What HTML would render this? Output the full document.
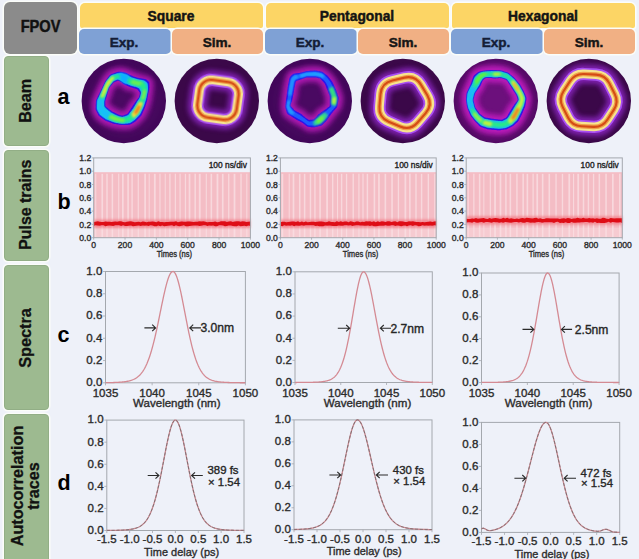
<!DOCTYPE html><html><head><meta charset="utf-8"><title>FPOV figure</title><style>
html,body{margin:0;padding:0;width:639px;height:559px;overflow:hidden;background:#eef1f9;}
body{position:relative;font-family:"Liberation Sans",sans-serif;}
.bx{position:absolute;box-sizing:border-box;border-radius:5px;box-shadow:0 0 0 1.5px #fbfdf9;}
svg{position:absolute;left:0;top:0;}
</style></head><body>
<div class="bx" style="left:4.0px;top:2.0px;width:73.0px;height:51.5px;background:#8b8b8b;border-radius:6px;"></div>
<div class="bx" style="left:79.5px;top:2.5px;width:183.5px;height:25.3px;background:#fcd565;border-radius:5px 5px 2px 2px;"></div>
<div class="bx" style="left:79.0px;top:28.8px;width:91.5px;height:25.0px;background:#7fa1d5;border-radius:5px;"></div>
<div class="bx" style="left:172.0px;top:28.8px;width:91.0px;height:25.0px;background:#f1b084;border-radius:5px;"></div>
<div class="bx" style="left:265.5px;top:2.5px;width:183.5px;height:25.3px;background:#fcd565;border-radius:5px 5px 2px 2px;"></div>
<div class="bx" style="left:265.0px;top:28.8px;width:91.5px;height:25.0px;background:#7fa1d5;border-radius:5px;"></div>
<div class="bx" style="left:358.0px;top:28.8px;width:91.0px;height:25.0px;background:#f1b084;border-radius:5px;"></div>
<div class="bx" style="left:451.5px;top:2.5px;width:183.5px;height:25.3px;background:#fcd565;border-radius:5px 5px 2px 2px;"></div>
<div class="bx" style="left:451.0px;top:28.8px;width:91.5px;height:25.0px;background:#7fa1d5;border-radius:5px;"></div>
<div class="bx" style="left:544.0px;top:28.8px;width:91.0px;height:25.0px;background:#f1b084;border-radius:5px;"></div>
<div class="bx" style="left:3.5px;top:56.0px;width:45.5px;height:90.2px;background:#9dba90;border-radius:4px;border:0.8px solid #92ae86"></div>
<div class="bx" style="left:3.5px;top:149.5px;width:45.5px;height:111.5px;background:#9dba90;border-radius:4px;border:0.8px solid #92ae86"></div>
<div class="bx" style="left:3.5px;top:265.0px;width:45.5px;height:144.5px;background:#9dba90;border-radius:4px;border:0.8px solid #92ae86"></div>
<div class="bx" style="left:3.5px;top:413.5px;width:45.5px;height:166.5px;background:#9dba90;border-radius:4px;border:0.8px solid #92ae86"></div>
<svg width="639" height="559" viewBox="0 0 639 559" font-family='"Liberation Sans", sans-serif'>
<defs>
<filter id="b0_6" x="-50%" y="-50%" width="200%" height="200%"><feGaussianBlur stdDeviation="0.6"/></filter>
<filter id="b0_8" x="-50%" y="-50%" width="200%" height="200%"><feGaussianBlur stdDeviation="0.8"/></filter>
<filter id="b1_0" x="-50%" y="-50%" width="200%" height="200%"><feGaussianBlur stdDeviation="1.0"/></filter>
<filter id="b1_3" x="-50%" y="-50%" width="200%" height="200%"><feGaussianBlur stdDeviation="1.3"/></filter>
<filter id="b1_8" x="-50%" y="-50%" width="200%" height="200%"><feGaussianBlur stdDeviation="1.8"/></filter>
<filter id="b2_5" x="-50%" y="-50%" width="200%" height="200%"><feGaussianBlur stdDeviation="2.5"/></filter>
<filter id="b3_5" x="-50%" y="-50%" width="200%" height="200%"><feGaussianBlur stdDeviation="3.5"/></filter>
<filter id="b5" x="-50%" y="-50%" width="200%" height="200%"><feGaussianBlur stdDeviation="5"/></filter>
</defs>
<text x="40.6" y="32.2" font-size="16.20" text-anchor="middle" font-weight="bold" fill="#111" stroke="#111" stroke-width="0.45" textLength="39.8" lengthAdjust="spacingAndGlyphs">FPOV</text>
<text x="171.0" y="20.5" font-size="13.80" text-anchor="middle" font-weight="bold" fill="#141414" stroke="#141414" stroke-width="0.45">Square</text>
<text x="124.0" y="47.2" font-size="13.60" text-anchor="middle" font-weight="bold" fill="#141d36" stroke="#141d36" stroke-width="0.45">Exp.</text>
<text x="217.0" y="47.2" font-size="13.60" text-anchor="middle" font-weight="bold" fill="#161616" stroke="#161616" stroke-width="0.45">Sim.</text>
<text x="357.0" y="20.5" font-size="13.80" text-anchor="middle" font-weight="bold" fill="#141414" stroke="#141414" stroke-width="0.45">Pentagonal</text>
<text x="310.0" y="47.2" font-size="13.60" text-anchor="middle" font-weight="bold" fill="#141d36" stroke="#141d36" stroke-width="0.45">Exp.</text>
<text x="403.0" y="47.2" font-size="13.60" text-anchor="middle" font-weight="bold" fill="#161616" stroke="#161616" stroke-width="0.45">Sim.</text>
<text x="543.0" y="20.5" font-size="13.80" text-anchor="middle" font-weight="bold" fill="#141414" stroke="#141414" stroke-width="0.45">Hexagonal</text>
<text x="496.0" y="47.2" font-size="13.60" text-anchor="middle" font-weight="bold" fill="#141d36" stroke="#141d36" stroke-width="0.45">Exp.</text>
<text x="589.0" y="47.2" font-size="13.60" text-anchor="middle" font-weight="bold" fill="#161616" stroke="#161616" stroke-width="0.45">Sim.</text>
<g transform="translate(25.1 100.8) rotate(-90)">
<text x="0" y="5.8" font-size="16.2" text-anchor="middle" font-weight="bold" fill="#111" stroke="#111" stroke-width="0.3">Beam</text>
</g>
<g transform="translate(25.1 204.7) rotate(-90)">
<text x="0" y="5.7" font-size="15.9" text-anchor="middle" font-weight="bold" fill="#111" stroke="#111" stroke-width="0.3">Pulse trains</text>
</g>
<g transform="translate(25.1 338.0) rotate(-90)">
<text x="0" y="5.9" font-size="16.3" text-anchor="middle" font-weight="bold" fill="#111" stroke="#111" stroke-width="0.3">Spectra</text>
</g>
<g transform="translate(25.5 486.0) rotate(-90)">
<text x="0" y="-2.2" font-size="16.2" text-anchor="middle" font-weight="bold" fill="#111" stroke="#111" stroke-width="0.3">Autocorrelation</text>
<text x="0" y="13.8" font-size="16.2" text-anchor="middle" font-weight="bold" fill="#111" stroke="#111" stroke-width="0.3">traces</text>
</g>
<text x="57.5" y="104.2" font-size="21.50" text-anchor="start" font-weight="bold" fill="#000" >a</text>
<text x="57.5" y="208.6" font-size="21.50" text-anchor="start" font-weight="bold" fill="#000" >b</text>
<text x="57.5" y="341.5" font-size="21.50" text-anchor="start" font-weight="bold" fill="#000" >c</text>
<text x="57.5" y="490.0" font-size="21.50" text-anchor="start" font-weight="bold" fill="#000" >d</text>
<clipPath id="cp0"><circle cx="123.80" cy="101.00" r="42"/></clipPath>
<circle cx="123.80" cy="101.00" r="42.2" fill="#42075a"/>
<g clip-path="url(#cp0)">
<circle cx="123.8" cy="101" r="34" fill="#6a1280" opacity="0.22" filter="url(#b5)"/>
<path d="M92.59 98.00 L93.01 96.99 L93.41 96.00 L93.81 95.04 L94.21 94.09 L94.61 93.17 L95.00 92.26 L95.39 91.37 L95.78 90.48 L96.17 89.61 L96.57 88.74 L96.97 87.89 L97.37 87.03 L97.77 86.18 L98.18 85.34 L98.60 84.49 L99.02 83.64 L99.45 82.79 L99.89 81.94 L100.34 81.08 L100.80 80.21 L101.26 79.33 L101.74 78.44 L102.26 77.56 L102.85 76.73 L103.49 75.94 L104.16 75.17 L104.84 74.38 L105.54 73.59 L106.25 72.79 L106.97 71.97 L107.72 71.14 L108.54 70.41 L109.50 69.91 L110.51 69.55 L111.52 69.21 L112.54 68.87 L113.55 68.54 L114.57 68.21 L115.60 67.88 L116.64 67.58 L117.70 67.38 L118.78 67.32 L119.85 67.30 L120.93 67.33 L122.00 67.44 L123.06 67.64 L124.11 67.88 L125.14 68.11 L126.17 68.35 L127.17 68.65 L128.15 69.05 L129.11 69.49 L130.05 69.92 L130.98 70.36 L131.90 70.79 L132.81 71.23 L133.72 71.67 L134.65 72.07 L135.60 72.42 L136.58 72.75 L137.57 73.08 L138.57 73.43 L139.59 73.79 L140.63 74.16 L141.71 74.51 L142.87 74.83 L144.09 75.12 L145.37 75.44 L146.70 75.76 L148.09 76.10 L149.43 76.57 L150.52 77.28 L151.42 78.16 L152.29 79.07 L153.00 80.10 L153.35 81.33 L153.46 82.66 L153.52 83.97 L153.58 85.24 L153.62 86.49 L153.56 87.74 L153.41 88.99 L153.22 90.22 L153.03 91.40 L152.85 92.56 L152.67 93.69 L152.51 94.79 L152.36 95.88 L152.20 96.95 L152.05 98.00 L151.88 99.04 L151.72 100.08 L151.53 101.10 L151.30 102.12 L151.03 103.12 L150.74 104.11 L150.45 105.09 L150.15 106.07 L149.85 107.05 L149.55 108.03 L149.22 109.00 L148.83 109.95 L148.42 110.88 L147.99 111.82 L147.55 112.75 L147.11 113.69 L146.66 114.63 L146.20 115.58 L145.73 116.54 L145.25 117.51 L144.71 118.45 L144.05 119.29 L143.31 120.07 L142.55 120.82 L141.78 121.57 L141.00 122.32 L140.22 123.08 L139.43 123.83 L138.61 124.58 L137.75 125.28 L136.83 125.88 L135.87 126.45 L134.92 127.01 L133.95 127.57 L132.97 128.13 L131.95 128.62 L130.88 128.96 L129.78 129.20 L128.67 129.37 L127.54 129.44 L126.42 129.46 L125.31 129.48 L124.20 129.50 L123.10 129.51 L122.00 129.51 L120.90 129.47 L119.81 129.35 L118.72 129.19 L117.64 129.02 L116.56 128.84 L115.48 128.66 L114.40 128.47 L113.32 128.27 L112.25 128.02 L111.20 127.67 L110.17 127.28 L109.14 126.89 L108.11 126.48 L107.07 126.08 L106.03 125.66 L104.98 125.23 L103.93 124.80 L102.89 124.30 L101.94 123.68 L101.02 123.01 L100.10 122.32 L99.18 121.63 L98.25 120.93 L97.32 120.22 L96.38 119.50 L95.49 118.71 L94.74 117.80 L94.15 116.78 L93.62 115.74 L93.09 114.69 L92.57 113.65 L92.05 112.61 L91.62 111.53 L91.40 110.36 L91.36 109.15 L91.37 107.95 L91.38 106.78 L91.39 105.63 L91.41 104.50 L91.43 103.39 L91.46 102.29 L91.55 101.20 L91.79 100.11 L92.17 99.04Z M110.76 98.00 L110.92 97.61 L111.07 97.24 L111.22 96.87 L111.36 96.50 L111.49 96.15 L111.61 95.79 L111.73 95.44 L111.84 95.09 L111.95 94.74 L112.05 94.38 L112.15 94.02 L112.24 93.66 L112.33 93.29 L112.42 92.91 L112.50 92.52 L112.58 92.12 L112.66 91.70 L112.74 91.27 L112.86 90.86 L113.06 90.50 L113.30 90.17 L113.54 89.84 L113.79 89.50 L114.03 89.15 L114.27 88.79 L114.52 88.42 L114.77 88.04 L115.02 87.65 L115.27 87.24 L115.54 86.81 L115.85 86.44 L116.24 86.19 L116.66 86.01 L117.08 85.82 L117.50 85.63 L117.91 85.43 L118.34 85.22 L118.78 85.07 L119.27 85.14 L119.78 85.42 L120.28 85.77 L120.75 86.11 L121.19 86.46 L121.61 86.87 L122.00 87.31 L122.36 87.73 L122.69 88.13 L123.00 88.49 L123.30 88.77 L123.59 88.98 L123.88 89.15 L124.17 89.31 L124.45 89.46 L124.73 89.61 L125.00 89.75 L125.28 89.88 L125.56 90.01 L125.84 90.13 L126.12 90.25 L126.41 90.36 L126.71 90.47 L127.02 90.56 L127.36 90.62 L127.72 90.68 L128.10 90.73 L128.49 90.79 L128.91 90.84 L129.35 90.90 L129.81 90.96 L130.31 91.03 L130.83 91.10 L131.39 91.18 L131.99 91.26 L132.64 91.35 L133.26 91.50 L133.72 91.77 L134.04 92.13 L134.33 92.51 L134.63 92.90 L134.94 93.29 L135.26 93.69 L135.48 94.13 L135.46 94.64 L135.27 95.18 L135.05 95.70 L134.85 96.19 L134.66 96.67 L134.48 97.13 L134.23 97.57 L133.84 98.00 L133.41 98.40 L133.01 98.77 L132.63 99.12 L132.27 99.44 L131.93 99.75 L131.61 100.04 L131.32 100.32 L131.06 100.60 L130.83 100.87 L130.61 101.13 L130.40 101.40 L130.20 101.65 L130.01 101.91 L129.82 102.16 L129.65 102.41 L129.47 102.67 L129.30 102.93 L129.14 103.19 L128.98 103.45 L128.82 103.73 L128.67 104.00 L128.51 104.29 L128.36 104.59 L128.20 104.89 L128.05 105.20 L127.88 105.53 L127.72 105.87 L127.55 106.23 L127.38 106.60 L127.19 107.00 L127.00 107.41 L126.80 107.85 L126.59 108.32 L126.37 108.81 L126.10 109.28 L125.77 109.61 L125.39 109.81 L124.99 109.98 L124.58 110.16 L124.18 110.34 L123.76 110.53 L123.34 110.73 L122.91 110.94 L122.46 111.09 L122.00 111.08 L121.55 110.97 L121.10 110.84 L120.66 110.73 L120.23 110.60 L119.81 110.42 L119.41 110.20 L119.02 109.96 L118.63 109.74 L118.26 109.52 L117.88 109.32 L117.51 109.12 L117.14 108.92 L116.76 108.74 L116.39 108.55 L116.01 108.38 L115.63 108.20 L115.24 108.03 L114.84 107.85 L114.46 107.65 L114.11 107.40 L113.77 107.14 L113.43 106.88 L113.07 106.62 L112.71 106.36 L112.34 106.11 L111.96 105.85 L111.56 105.58 L111.15 105.32 L110.73 105.04 L110.29 104.76 L109.87 104.45 L109.61 104.04 L109.55 103.54 L109.57 103.02 L109.58 102.52 L109.59 102.03 L109.60 101.56 L109.60 101.09 L109.65 100.62 L109.80 100.15 L110.01 99.69 L110.21 99.24 L110.40 98.81 L110.59 98.40Z" fill="#c41ec2" fill-rule="evenodd" opacity="0.80" filter="url(#b2_5)"/>
<path d="M97.09 98.00 L97.50 97.14 L97.90 96.31 L98.29 95.51 L98.67 94.72 L99.04 93.95 L99.40 93.20 L99.76 92.45 L100.11 91.72 L100.45 91.00 L100.80 90.28 L101.14 89.57 L101.48 88.86 L101.82 88.16 L102.16 87.45 L102.50 86.74 L102.84 86.03 L103.18 85.31 L103.53 84.58 L103.89 83.85 L104.24 83.10 L104.61 82.34 L104.98 81.56 L105.38 80.79 L105.86 80.07 L106.38 79.39 L106.93 78.71 L107.49 78.02 L108.05 77.32 L108.63 76.60 L109.22 75.87 L109.83 75.11 L110.52 74.45 L111.33 74.02 L112.19 73.73 L113.06 73.44 L113.93 73.15 L114.79 72.86 L115.66 72.57 L116.53 72.28 L117.42 72.01 L118.32 71.84 L119.25 71.79 L120.17 71.79 L121.09 71.82 L122.00 71.94 L122.90 72.14 L123.79 72.36 L124.67 72.58 L125.54 72.81 L126.39 73.08 L127.22 73.45 L128.02 73.85 L128.81 74.25 L129.59 74.64 L130.36 75.02 L131.13 75.41 L131.89 75.78 L132.67 76.11 L133.49 76.39 L134.33 76.64 L135.18 76.90 L136.05 77.16 L136.94 77.43 L137.86 77.71 L138.82 77.96 L139.86 78.17 L140.96 78.36 L142.13 78.56 L143.35 78.77 L144.65 79.00 L145.89 79.34 L146.88 79.93 L147.69 80.67 L148.47 81.46 L149.11 82.35 L149.38 83.44 L149.41 84.63 L149.41 85.80 L149.41 86.93 L149.39 88.03 L149.28 89.14 L149.08 90.23 L148.85 91.30 L148.63 92.34 L148.42 93.34 L148.22 94.32 L148.04 95.26 L147.87 96.19 L147.71 97.10 L147.55 98.00 L147.39 98.89 L147.23 99.76 L147.06 100.63 L146.85 101.49 L146.60 102.34 L146.34 103.17 L146.08 104.00 L145.83 104.83 L145.57 105.66 L145.32 106.49 L145.04 107.31 L144.72 108.12 L144.37 108.91 L144.01 109.70 L143.65 110.50 L143.29 111.30 L142.93 112.12 L142.56 112.94 L142.18 113.77 L141.80 114.61 L141.36 115.43 L140.81 116.17 L140.18 116.83 L139.54 117.48 L138.89 118.12 L138.23 118.78 L137.57 119.44 L136.91 120.10 L136.23 120.77 L135.50 121.38 L134.71 121.91 L133.90 122.40 L133.09 122.90 L132.26 123.40 L131.43 123.90 L130.56 124.34 L129.64 124.63 L128.69 124.83 L127.73 124.97 L126.76 125.01 L125.80 125.01 L124.84 125.01 L123.89 125.01 L122.94 125.01 L122.00 125.01 L121.06 124.97 L120.12 124.86 L119.19 124.71 L118.27 124.56 L117.34 124.41 L116.42 124.26 L115.49 124.10 L114.56 123.95 L113.64 123.74 L112.74 123.45 L111.85 123.11 L110.97 122.78 L110.08 122.44 L109.18 122.10 L108.28 121.76 L107.37 121.42 L106.44 121.07 L105.54 120.66 L104.71 120.13 L103.91 119.56 L103.11 118.98 L102.30 118.40 L101.49 117.81 L100.67 117.21 L99.83 116.60 L99.03 115.94 L98.39 115.16 L97.88 114.27 L97.43 113.35 L96.99 112.44 L96.54 111.54 L96.10 110.63 L95.73 109.70 L95.57 108.68 L95.59 107.61 L95.65 106.56 L95.70 105.54 L95.76 104.54 L95.81 103.57 L95.86 102.61 L95.92 101.67 L96.02 100.73 L96.28 99.80 L96.67 98.88Z M106.26 98.00 L106.42 97.46 L106.59 96.92 L106.74 96.40 L106.90 95.88 L107.06 95.37 L107.21 94.86 L107.37 94.35 L107.52 93.85 L107.67 93.34 L107.83 92.84 L107.98 92.33 L108.13 91.83 L108.29 91.31 L108.45 90.79 L108.61 90.27 L108.77 89.73 L108.93 89.19 L109.10 88.63 L109.31 88.09 L109.61 87.60 L109.96 87.16 L110.31 86.71 L110.66 86.26 L111.02 85.80 L111.38 85.34 L111.75 84.88 L112.12 84.40 L112.50 83.92 L112.89 83.42 L113.29 82.91 L113.74 82.46 L114.27 82.14 L114.83 81.90 L115.39 81.65 L115.96 81.40 L116.52 81.15 L117.09 80.89 L117.69 80.71 L118.33 80.73 L119.00 80.99 L119.66 81.32 L120.28 81.63 L120.88 81.97 L121.45 82.37 L122.00 82.81 L122.52 83.23 L123.00 83.64 L123.47 84.01 L123.92 84.32 L124.37 84.55 L124.82 84.75 L125.26 84.94 L125.69 85.14 L126.12 85.33 L126.54 85.52 L126.97 85.71 L127.39 85.90 L127.81 86.09 L128.23 86.28 L128.66 86.47 L129.09 86.65 L129.54 86.83 L130.01 86.98 L130.49 87.13 L130.99 87.29 L131.50 87.44 L132.04 87.61 L132.59 87.78 L133.16 87.95 L133.75 88.14 L134.38 88.33 L135.03 88.53 L135.72 88.74 L136.46 88.97 L137.15 89.25 L137.69 89.66 L138.08 90.16 L138.44 90.68 L138.80 91.21 L139.16 91.75 L139.54 92.30 L139.80 92.89 L139.82 93.56 L139.67 94.24 L139.48 94.92 L139.31 95.57 L139.13 96.20 L138.96 96.81 L138.72 97.42 L138.34 98.00 L137.91 98.56 L137.50 99.08 L137.10 99.59 L136.72 100.07 L136.36 100.53 L136.01 100.98 L135.69 101.41 L135.39 101.84 L135.11 102.26 L134.84 102.67 L134.58 103.08 L134.31 103.48 L134.05 103.88 L133.80 104.27 L133.54 104.66 L133.29 105.05 L133.04 105.44 L132.78 105.83 L132.53 106.22 L132.27 106.62 L132.01 107.01 L131.75 107.42 L131.49 107.82 L131.21 108.23 L130.94 108.65 L130.65 109.08 L130.36 109.51 L130.07 109.96 L129.76 110.42 L129.44 110.89 L129.12 111.39 L128.78 111.90 L128.42 112.43 L128.05 112.98 L127.64 113.51 L127.16 113.89 L126.63 114.14 L126.08 114.35 L125.52 114.56 L124.96 114.77 L124.39 114.99 L123.81 115.21 L123.22 115.43 L122.61 115.59 L122.00 115.58 L121.39 115.46 L120.79 115.33 L120.19 115.20 L119.60 115.05 L119.03 114.85 L118.47 114.60 L117.93 114.33 L117.39 114.07 L116.86 113.80 L116.34 113.55 L115.82 113.29 L115.31 113.04 L114.79 112.78 L114.28 112.53 L113.76 112.27 L113.24 112.02 L112.72 111.76 L112.20 111.49 L111.69 111.19 L111.22 110.85 L110.76 110.48 L110.30 110.12 L109.84 109.75 L109.37 109.38 L108.89 109.00 L108.41 108.62 L107.92 108.23 L107.42 107.83 L106.91 107.43 L106.39 107.01 L105.89 106.56 L105.56 106.02 L105.44 105.37 L105.39 104.71 L105.35 104.06 L105.31 103.42 L105.28 102.80 L105.24 102.18 L105.25 101.56 L105.37 100.93 L105.55 100.31 L105.74 99.71 L105.92 99.12 L106.09 98.56Z" fill="#2a12e8" fill-rule="evenodd" opacity="1.00" filter="url(#b0_6)"/>
<path d="M98.38 98.00 L98.75 97.19 L99.12 96.40 L99.47 95.63 L99.82 94.88 L100.16 94.15 L100.49 93.43 L100.82 92.72 L101.15 92.02 L101.46 91.33 L101.78 90.64 L102.10 89.96 L102.41 89.28 L102.72 88.60 L103.04 87.92 L103.35 87.23 L103.67 86.55 L103.99 85.85 L104.31 85.15 L104.65 84.44 L105.00 83.73 L105.36 83.01 L105.73 82.28 L106.12 81.56 L106.58 80.87 L107.08 80.22 L107.61 79.58 L108.14 78.92 L108.67 78.24 L109.23 77.56 L109.79 76.86 L110.38 76.14 L111.04 75.53 L111.82 75.13 L112.64 74.84 L113.47 74.55 L114.29 74.27 L115.11 73.99 L115.94 73.71 L116.78 73.46 L117.64 73.27 L118.51 73.17 L119.39 73.17 L120.27 73.22 L121.14 73.30 L122.00 73.46 L122.85 73.70 L123.68 73.94 L124.50 74.18 L125.31 74.42 L126.11 74.69 L126.88 75.03 L127.63 75.40 L128.37 75.77 L129.10 76.13 L129.83 76.49 L130.55 76.85 L131.26 77.20 L131.99 77.51 L132.75 77.77 L133.54 78.02 L134.33 78.27 L135.14 78.52 L135.97 78.77 L136.82 79.03 L137.72 79.27 L138.69 79.47 L139.71 79.66 L140.79 79.85 L141.93 80.06 L143.12 80.28 L144.27 80.60 L145.22 81.13 L146.01 81.80 L146.79 82.51 L147.43 83.32 L147.74 84.31 L147.83 85.40 L147.88 86.48 L147.93 87.53 L147.96 88.55 L147.92 89.58 L147.78 90.61 L147.59 91.62 L147.38 92.61 L147.17 93.56 L146.97 94.49 L146.79 95.39 L146.62 96.28 L146.45 97.15 L146.26 98.00 L146.06 98.84 L145.87 99.67 L145.66 100.49 L145.43 101.29 L145.16 102.08 L144.89 102.87 L144.63 103.64 L144.37 104.41 L144.11 105.18 L143.85 105.95 L143.58 106.72 L143.27 107.47 L142.93 108.21 L142.58 108.94 L142.24 109.68 L141.89 110.43 L141.54 111.18 L141.19 111.94 L140.83 112.71 L140.47 113.49 L140.05 114.26 L139.54 114.94 L138.97 115.57 L138.37 116.18 L137.77 116.80 L137.17 117.42 L136.57 118.05 L135.95 118.68 L135.32 119.32 L134.65 119.91 L133.93 120.44 L133.18 120.93 L132.43 121.43 L131.67 121.94 L130.90 122.45 L130.08 122.88 L129.22 123.16 L128.32 123.37 L127.42 123.51 L126.51 123.58 L125.60 123.61 L124.69 123.64 L123.79 123.67 L122.90 123.69 L122.00 123.69 L121.10 123.64 L120.21 123.53 L119.33 123.38 L118.45 123.23 L117.58 123.07 L116.71 122.90 L115.83 122.73 L114.96 122.56 L114.09 122.35 L113.24 122.06 L112.41 121.74 L111.58 121.41 L110.74 121.09 L109.90 120.76 L109.05 120.43 L108.19 120.10 L107.32 119.76 L106.47 119.37 L105.68 118.88 L104.93 118.34 L104.18 117.79 L103.42 117.24 L102.66 116.68 L101.88 116.11 L101.10 115.54 L100.35 114.92 L99.72 114.19 L99.22 113.37 L98.76 112.52 L98.30 111.68 L97.85 110.84 L97.42 109.99 L97.09 109.09 L96.95 108.12 L96.95 107.12 L97.00 106.12 L97.04 105.16 L97.08 104.21 L97.13 103.29 L97.20 102.37 L97.27 101.48 L97.38 100.59 L97.62 99.70 L97.99 98.84Z M104.97 98.00 L105.17 97.41 L105.37 96.84 L105.56 96.27 L105.75 95.72 L105.94 95.17 L106.12 94.62 L106.30 94.09 L106.48 93.55 L106.66 93.02 L106.84 92.48 L107.02 91.95 L107.20 91.41 L107.38 90.87 L107.57 90.33 L107.75 89.77 L107.94 89.21 L108.13 88.64 L108.32 88.06 L108.55 87.50 L108.86 86.97 L109.21 86.48 L109.56 85.99 L109.92 85.49 L110.30 85.00 L110.68 84.51 L111.07 84.01 L111.47 83.51 L111.88 82.99 L112.29 82.47 L112.72 81.93 L113.19 81.43 L113.74 81.07 L114.34 80.79 L114.94 80.54 L115.55 80.28 L116.16 80.03 L116.77 79.77 L117.40 79.57 L118.08 79.55 L118.78 79.73 L119.47 79.99 L120.13 80.25 L120.78 80.54 L121.40 80.89 L122.00 81.29 L122.57 81.68 L123.11 82.06 L123.64 82.41 L124.15 82.71 L124.65 82.95 L125.15 83.17 L125.64 83.39 L126.13 83.61 L126.60 83.83 L127.08 84.05 L127.55 84.27 L128.02 84.48 L128.49 84.69 L128.97 84.89 L129.45 85.09 L129.94 85.29 L130.45 85.47 L130.98 85.64 L131.52 85.81 L132.09 85.98 L132.67 86.15 L133.29 86.31 L133.92 86.49 L134.59 86.67 L135.28 86.86 L135.99 87.07 L136.69 87.33 L137.40 87.61 L138.14 87.92 L138.83 88.28 L139.33 88.79 L139.67 89.38 L139.98 90.00 L140.29 90.61 L140.60 91.23 L140.90 91.86 L141.10 92.52 L141.09 93.24 L140.92 93.98 L140.73 94.70 L140.55 95.39 L140.38 96.07 L140.21 96.73 L139.98 97.37 L139.63 98.00 L139.24 98.60 L138.86 99.18 L138.50 99.73 L138.14 100.27 L137.80 100.79 L137.46 101.29 L137.14 101.78 L136.85 102.26 L136.58 102.74 L136.31 103.21 L136.04 103.67 L135.77 104.13 L135.50 104.58 L135.23 105.03 L134.96 105.48 L134.69 105.93 L134.42 106.38 L134.15 106.83 L133.88 107.28 L133.60 107.74 L133.32 108.19 L133.02 108.64 L132.70 109.08 L132.38 109.53 L132.05 109.98 L131.72 110.44 L131.37 110.90 L131.02 111.38 L130.67 111.87 L130.29 112.36 L129.90 112.86 L129.49 113.37 L129.08 113.89 L128.64 114.44 L128.17 114.96 L127.64 115.35 L127.05 115.61 L126.44 115.82 L125.83 116.02 L125.21 116.21 L124.58 116.39 L123.95 116.58 L123.31 116.77 L122.66 116.91 L122.00 116.90 L121.34 116.79 L120.69 116.67 L120.05 116.53 L119.42 116.38 L118.79 116.19 L118.18 115.95 L117.59 115.70 L117.00 115.45 L116.41 115.20 L115.84 114.93 L115.27 114.66 L114.70 114.40 L114.13 114.13 L113.56 113.87 L112.99 113.60 L112.42 113.33 L111.84 113.06 L111.26 112.78 L110.72 112.44 L110.20 112.07 L109.69 111.67 L109.18 111.28 L108.67 110.88 L108.15 110.47 L107.62 110.06 L107.10 109.64 L106.59 109.20 L106.09 108.73 L105.58 108.26 L105.07 107.77 L104.59 107.26 L104.24 106.66 L104.08 105.98 L104.02 105.26 L103.99 104.56 L103.96 103.86 L103.94 103.18 L103.91 102.51 L103.93 101.84 L104.04 101.17 L104.20 100.50 L104.38 99.85 L104.57 99.22 L104.77 98.60Z" fill="#14b4ff" fill-rule="evenodd" opacity="1.00" filter="url(#b0_6)"/>
<path d="M99.48 98.00 L99.82 97.23 L100.16 96.47 L100.49 95.74 L100.81 95.02 L101.12 94.32 L101.43 93.63 L101.73 92.95 L102.03 92.27 L102.33 91.61 L102.63 90.95 L102.92 90.29 L103.21 89.63 L103.50 88.98 L103.79 88.32 L104.09 87.66 L104.38 86.99 L104.68 86.32 L104.98 85.64 L105.30 84.95 L105.64 84.27 L106.00 83.59 L106.37 82.90 L106.76 82.22 L107.20 81.56 L107.68 80.94 L108.18 80.32 L108.69 79.68 L109.21 79.04 L109.74 78.38 L110.28 77.70 L110.85 77.02 L111.49 76.45 L112.24 76.07 L113.03 75.79 L113.81 75.51 L114.60 75.23 L115.39 74.95 L116.19 74.69 L117.00 74.48 L117.83 74.35 L118.67 74.30 L119.51 74.35 L120.35 74.44 L121.18 74.57 L122.00 74.77 L122.80 75.03 L123.59 75.30 L124.36 75.56 L125.12 75.80 L125.87 76.07 L126.59 76.39 L127.30 76.74 L128.00 77.08 L128.69 77.42 L129.37 77.75 L130.05 78.08 L130.72 78.41 L131.41 78.71 L132.12 78.96 L132.86 79.20 L133.60 79.44 L134.36 79.68 L135.14 79.91 L135.94 80.16 L136.78 80.38 L137.68 80.58 L138.64 80.77 L139.65 80.96 L140.70 81.16 L141.82 81.37 L142.89 81.68 L143.80 82.16 L144.58 82.77 L145.35 83.41 L146.00 84.14 L146.34 85.06 L146.47 86.07 L146.56 87.07 L146.65 88.04 L146.73 89.00 L146.75 89.96 L146.67 90.93 L146.51 91.89 L146.30 92.83 L146.09 93.75 L145.90 94.64 L145.72 95.51 L145.55 96.35 L145.37 97.18 L145.15 98.00 L144.92 98.80 L144.70 99.59 L144.47 100.36 L144.21 101.12 L143.94 101.87 L143.65 102.60 L143.38 103.33 L143.11 104.05 L142.85 104.78 L142.59 105.50 L142.32 106.21 L142.02 106.91 L141.69 107.60 L141.36 108.29 L141.03 108.98 L140.69 109.68 L140.35 110.38 L140.02 111.09 L139.67 111.81 L139.32 112.53 L138.93 113.25 L138.46 113.89 L137.92 114.49 L137.37 115.07 L136.82 115.66 L136.26 116.26 L135.70 116.86 L135.13 117.47 L134.55 118.08 L133.92 118.65 L133.26 119.17 L132.57 119.67 L131.87 120.18 L131.17 120.69 L130.44 121.20 L129.68 121.62 L128.85 121.90 L128.01 122.11 L127.16 122.26 L126.29 122.35 L125.43 122.40 L124.57 122.46 L123.71 122.52 L122.86 122.56 L122.00 122.56 L121.14 122.50 L120.29 122.38 L119.45 122.24 L118.61 122.09 L117.78 121.92 L116.95 121.74 L116.13 121.56 L115.30 121.38 L114.48 121.16 L113.68 120.87 L112.89 120.56 L112.10 120.24 L111.30 119.93 L110.51 119.61 L109.71 119.29 L108.90 118.97 L108.07 118.65 L107.27 118.27 L106.52 117.81 L105.81 117.29 L105.10 116.77 L104.38 116.24 L103.66 115.71 L102.93 115.17 L102.19 114.63 L101.47 114.04 L100.86 113.36 L100.36 112.59 L99.90 111.81 L99.43 111.03 L98.97 110.24 L98.56 109.43 L98.26 108.57 L98.13 107.65 L98.13 106.69 L98.16 105.75 L98.19 104.83 L98.22 103.93 L98.27 103.04 L98.34 102.17 L98.42 101.31 L98.55 100.47 L98.78 99.62 L99.12 98.80Z M103.87 98.00 L104.10 97.38 L104.33 96.76 L104.55 96.17 L104.76 95.58 L104.97 95.00 L105.18 94.43 L105.39 93.86 L105.59 93.30 L105.80 92.73 L106.00 92.18 L106.20 91.62 L106.40 91.06 L106.61 90.49 L106.81 89.92 L107.02 89.35 L107.23 88.77 L107.44 88.18 L107.65 87.58 L107.90 86.99 L108.22 86.43 L108.57 85.90 L108.92 85.37 L109.29 84.84 L109.68 84.31 L110.08 83.80 L110.49 83.27 L110.92 82.74 L111.34 82.20 L111.78 81.65 L112.23 81.08 L112.72 80.55 L113.29 80.14 L113.92 79.85 L114.56 79.59 L115.20 79.33 L115.85 79.07 L116.50 78.81 L117.16 78.59 L117.86 78.54 L118.59 78.66 L119.31 78.85 L120.01 79.07 L120.69 79.32 L121.36 79.63 L122.00 79.98 L122.62 80.35 L123.21 80.71 L123.78 81.04 L124.34 81.33 L124.90 81.57 L125.44 81.81 L125.97 82.06 L126.50 82.31 L127.02 82.55 L127.54 82.79 L128.05 83.03 L128.56 83.27 L129.08 83.49 L129.60 83.71 L130.13 83.91 L130.67 84.12 L131.23 84.31 L131.81 84.50 L132.41 84.68 L133.03 84.86 L133.68 85.03 L134.36 85.20 L135.07 85.38 L135.81 85.57 L136.59 85.76 L137.37 85.99 L138.11 86.29 L138.84 86.64 L139.58 87.01 L140.26 87.46 L140.73 88.04 L141.03 88.72 L141.29 89.41 L141.56 90.10 L141.82 90.79 L142.07 91.48 L142.22 92.20 L142.17 92.97 L142.00 93.75 L141.81 94.51 L141.62 95.24 L141.45 95.96 L141.28 96.65 L141.06 97.33 L140.74 98.00 L140.37 98.64 L140.03 99.26 L139.69 99.86 L139.36 100.44 L139.02 101.00 L138.70 101.55 L138.39 102.09 L138.10 102.62 L137.83 103.14 L137.57 103.67 L137.30 104.18 L137.02 104.69 L136.74 105.19 L136.45 105.69 L136.17 106.18 L135.89 106.68 L135.61 107.18 L135.32 107.68 L135.04 108.19 L134.75 108.70 L134.44 109.20 L134.11 109.69 L133.75 110.16 L133.38 110.64 L133.00 111.11 L132.63 111.60 L132.24 112.09 L131.85 112.60 L131.44 113.11 L131.02 113.62 L130.57 114.12 L130.11 114.63 L129.64 115.15 L129.15 115.69 L128.63 116.21 L128.05 116.61 L127.41 116.87 L126.76 117.07 L126.09 117.26 L125.43 117.43 L124.75 117.59 L124.08 117.76 L123.39 117.92 L122.70 118.04 L122.00 118.03 L121.30 117.94 L120.61 117.81 L119.93 117.67 L119.26 117.52 L118.59 117.34 L117.94 117.11 L117.30 116.87 L116.66 116.63 L116.03 116.39 L115.40 116.12 L114.79 115.84 L114.18 115.57 L113.57 115.29 L112.95 115.02 L112.34 114.74 L111.71 114.46 L111.09 114.18 L110.47 113.88 L109.88 113.52 L109.32 113.11 L108.77 112.69 L108.22 112.27 L107.67 111.84 L107.10 111.41 L106.54 110.98 L105.97 110.52 L105.44 110.03 L104.94 109.51 L104.45 108.97 L103.94 108.42 L103.46 107.86 L103.10 107.22 L102.91 106.50 L102.84 105.74 L102.81 104.98 L102.80 104.24 L102.79 103.51 L102.77 102.79 L102.80 102.08 L102.90 101.37 L103.05 100.66 L103.21 99.97 L103.41 99.30 L103.64 98.64Z" fill="#24e88c" fill-rule="evenodd" opacity="1.00" filter="url(#b0_8)"/>
<path d="M107.57 119.39 L106.74 119.01 L105.96 118.53 L105.23 117.99 L104.49 117.45 L103.74 116.91 L102.99 116.36 L102.23 115.80 L101.46 115.23 L100.72 114.62 L100.10 113.91 L99.60 113.11 L99.14 112.28 L98.68 111.46 L98.23 110.64 L97.80 109.80 L97.48 108.92 L97.34 107.96 L97.35 106.97 L97.39 106.00 L97.43 105.05 L97.46 104.12 L97.51 103.21 L97.58 102.31 L97.65 101.42 L97.77 100.55 L98.01 99.68 L98.36 98.83 L104.39 98.61 L104.18 99.25 L103.99 99.89 L103.82 100.56 L103.66 101.23 L103.55 101.92 L103.53 102.60 L103.55 103.29 L103.57 103.99 L103.60 104.70 L103.63 105.42 L103.69 106.15 L103.86 106.85 L104.21 107.46 L104.70 107.99 L105.21 108.49 L105.71 108.99 L106.20 109.48 L106.72 109.94 L107.26 110.37 L107.80 110.79 L108.33 111.20 L108.86 111.61 L109.38 112.01 L109.90 112.41 L110.44 112.80 L111.00 113.14 L111.59 113.43Z" fill="#18c0f8" opacity="1.00" filter="url(#b0_8)"/>
<path d="M119.35 72.78 L120.24 72.81 L121.12 72.88 L122.00 73.03 L122.86 73.25 L123.71 73.49 L124.55 73.73 L125.38 73.96 L126.19 74.23 L126.98 74.58 L127.74 74.96 L128.50 75.34 L129.24 75.71 L126.46 84.26 L126.00 84.05 L125.53 83.84 L125.06 83.62 L124.57 83.40 L124.08 83.17 L123.59 82.87 L123.08 82.51 L122.55 82.13 L122.00 81.72 L121.42 81.32 L120.81 80.95 L120.18 80.65Z" fill="#10b0ff" opacity="1.00" filter="url(#b0_8)"/>
<path d="M100.18 97.24 L100.51 96.50 L100.83 95.77 L101.14 95.07 L101.44 94.38 L101.74 93.69 L102.04 93.02 L102.33 92.36 L102.62 91.70 L102.91 91.05 L103.19 90.40 L103.48 89.75 L103.76 89.10 L104.04 88.45 L104.33 87.80 L104.62 87.14 L104.91 86.47 L105.20 85.80 L105.51 85.12 L105.85 84.45 L106.21 83.79 L106.58 83.11 L106.97 82.43 L107.41 81.79 L107.88 81.18 L108.38 80.56 L108.88 79.94 L109.39 79.30 L109.91 78.65 L110.44 77.98 L111.00 77.32 L111.64 76.76 L112.38 76.39 L113.15 76.10 L114.43 79.27 L113.78 79.53 L113.14 79.84 L112.57 80.26 L112.07 80.80 L111.61 81.38 L111.17 81.94 L110.73 82.49 L110.30 83.03 L109.88 83.56 L109.47 84.08 L109.08 84.62 L108.71 85.17 L108.35 85.71 L108.00 86.25 L107.69 86.82 L107.43 87.42 L107.21 88.02 L106.99 88.62 L106.77 89.21 L106.56 89.79 L106.35 90.37 L106.14 90.94 L105.93 91.51 L105.72 92.07 L105.51 92.64 L105.30 93.21 L105.08 93.78 L104.87 94.36 L104.65 94.94 L104.43 95.53 L104.21 96.13 L103.98 96.74 L103.75 97.36Z" fill="#c8f040" opacity="1.00" filter="url(#b0_8)"/>
<path d="M103.07 92.57 L103.34 91.94 L103.61 91.31 L103.88 90.68 L104.14 90.05 L104.41 89.42 L104.67 88.79 L104.94 88.15 L105.21 87.51 L105.48 86.86 L105.76 86.20 L106.06 85.54 L106.39 84.90 L106.75 84.27 L107.11 83.62 L107.50 82.98 L107.92 82.36 L108.38 81.77 L108.86 81.18 L109.34 80.57 L109.83 79.96 L110.72 81.28 L110.27 81.85 L109.82 82.41 L109.38 82.96 L108.95 83.51 L108.55 84.07 L108.18 84.65 L107.82 85.23 L107.46 85.80 L107.14 86.39 L106.87 87.01 L106.63 87.64 L106.40 88.25 L106.16 88.86 L105.93 89.46 L105.70 90.05 L105.47 90.64 L105.24 91.23 L105.01 91.82 L104.79 92.41 L104.55 93.00Z" fill="#e8f030" opacity="1.00" filter="url(#b0_8)"/>
<path d="M143.24 102.52 L142.96 103.23 L142.70 103.93 L142.44 104.64 L142.18 105.34 L141.90 106.04 L141.60 106.73 L141.28 107.40 L140.95 108.08 L140.62 108.75 L140.29 109.43 L139.96 110.11 L139.62 110.80 L139.28 111.50 L138.94 112.22 L138.56 112.91 L138.09 113.54 L137.57 114.13 L137.04 114.70 L136.50 115.28 L135.96 115.87 L135.41 116.46 L134.86 117.06 L134.29 117.66 L133.68 118.23 L131.26 114.04 L131.70 113.52 L132.12 113.00 L132.53 112.49 L132.93 111.99 L133.32 111.49 L133.71 111.01 L134.09 110.52 L134.47 110.04 L134.82 109.54 L135.13 109.02 L135.42 108.49 L135.71 107.96 L136.00 107.45 L136.29 106.93 L136.58 106.42 L136.86 105.90 L137.15 105.39 L137.44 104.87 L137.72 104.35 L137.98 103.82 L138.25 103.28 L138.52 102.74 L138.81 102.19 L139.11 101.64Z" fill="#f0e040" opacity="1.00" filter="url(#b0_8)"/>
<path d="M140.77 106.36 L140.45 107.00 L140.13 107.64 L139.81 108.28 L139.49 108.93 L139.17 109.58 L138.84 110.24 L138.51 110.90 L138.18 111.58 L137.81 112.24 L137.37 112.84 L136.88 113.41 L136.37 113.96 L135.87 114.53 L133.96 112.25 L134.38 111.75 L134.79 111.24 L135.19 110.74 L135.57 110.21 L135.89 109.66 L136.20 109.09 L136.50 108.53 L136.79 107.98 L137.09 107.43 L137.39 106.88 L137.68 106.34 L137.98 105.79 L138.27 105.24Z" fill="#f07818" opacity="1.00" filter="url(#b0_8)"/>
<path d="M124.53 122.07 L123.69 122.14 L122.84 122.18 L122.00 122.18 L121.16 122.12 L120.32 122.00 L119.49 121.86 L118.67 121.71 L117.85 121.54 L117.04 121.36 L116.22 121.17 L115.41 120.98 L114.61 120.76 L113.82 120.48 L113.04 120.16 L112.27 119.85 L111.49 119.54 L110.71 119.23 L109.93 118.91 L109.13 118.60 L108.33 118.27 L110.84 114.55 L111.48 114.84 L112.12 115.12 L112.75 115.40 L113.38 115.68 L114.00 115.96 L114.63 116.24 L115.26 116.52 L115.90 116.78 L116.54 117.03 L117.20 117.26 L117.86 117.50 L118.52 117.72 L119.20 117.90 L119.89 118.05 L120.59 118.19 L121.29 118.32 L122.00 118.41 L122.71 118.41 L123.42 118.31 L124.12 118.15Z" fill="#80f040" opacity="0.90" filter="url(#b0_8)"/>
<path d="M132.63 79.59 L133.36 79.83 L134.10 80.06 L134.86 80.30 L135.65 80.53 L136.47 80.76 L137.35 80.95 L138.29 81.14 L139.27 81.33 L140.29 81.53 L141.38 81.74 L142.43 82.04 L143.32 82.51 L138.59 85.95 L137.83 85.63 L137.02 85.39 L136.22 85.20 L135.45 85.01 L134.71 84.83 L134.01 84.66 L133.34 84.49 L132.70 84.30 L132.09 84.12 L131.49 83.93 L130.92 83.73 L130.36 83.52Z" fill="#70f050" opacity="0.90" filter="url(#b0_8)"/>
<path d="M146.32 89.15 L146.36 90.09 L146.30 91.03 L146.14 91.98 L145.94 92.91 L145.74 93.81 L145.54 94.69 L145.37 95.54 L145.20 96.38 L145.01 97.20 L144.78 98.00 L144.54 98.79 L144.31 99.56 L140.42 99.29 L140.75 98.65 L141.10 98.00 L141.42 97.32 L141.64 96.63 L141.80 95.92 L141.98 95.19 L142.16 94.44 L142.36 93.67 L142.53 92.88 L142.59 92.10 L142.46 91.35 L142.23 90.64Z" fill="#90f040" opacity="0.80" filter="url(#b0_8)"/>
</g>
<clipPath id="cp1"><circle cx="216.80" cy="101.00" r="42"/></clipPath>
<circle cx="216.80" cy="101.00" r="42.2" fill="#3b0849"/>
<g clip-path="url(#cp1)">
<rect x="198.25" y="80.80" width="39.5" height="38" rx="12" transform="rotate(8 218 99.8)" fill="none" stroke="#9028c8" stroke-width="19" opacity="0.8" filter="url(#b2_5)"/>
<rect x="198.25" y="80.80" width="39.5" height="38" rx="12" transform="rotate(8 218 99.8)" fill="none" stroke="#a850f2" stroke-width="12.2" filter="url(#b0_6)"/>
<rect x="198.25" y="80.80" width="39.5" height="38" rx="12" transform="rotate(8 218 99.8)" fill="none" stroke="#f6e48e" stroke-width="8.8" filter="url(#b0_6)"/>
<rect x="198.25" y="80.80" width="39.5" height="38" rx="12" transform="rotate(8 218 99.8)" fill="none" stroke="#f0a048" stroke-width="4.6" filter="url(#b0_6)"/>
<rect x="198.25" y="80.80" width="39.5" height="38" rx="12" transform="rotate(8 218 99.8)" fill="none" stroke="#d44c16" stroke-width="2.1" filter="url(#b0_6)"/>
</g>
<clipPath id="cp2"><circle cx="309.80" cy="101.00" r="42"/></clipPath>
<circle cx="309.80" cy="101.00" r="42.2" fill="#42075a"/>
<g clip-path="url(#cp2)">
<circle cx="309.8" cy="101" r="34" fill="#6a1280" opacity="0.22" filter="url(#b5)"/>
<path d="M281.63 99.00 L281.75 97.98 L281.87 96.96 L282.00 95.95 L282.14 94.94 L282.28 93.94 L282.43 92.93 L282.58 91.91 L282.74 90.90 L282.90 89.87 L283.08 88.84 L283.25 87.79 L283.44 86.73 L283.64 85.65 L283.85 84.57 L284.10 83.47 L284.37 82.36 L284.64 81.22 L284.93 80.06 L285.23 78.87 L285.54 77.64 L285.86 76.37 L286.25 75.10 L286.82 73.96 L287.61 73.02 L288.48 72.16 L289.36 71.31 L290.30 70.50 L291.39 69.92 L292.64 69.62 L293.93 69.43 L295.18 69.25 L296.40 69.07 L297.59 68.87 L298.72 68.60 L299.82 68.28 L300.91 67.96 L302.01 67.64 L303.10 67.33 L304.20 67.02 L305.32 66.76 L306.45 66.60 L307.58 66.50 L308.72 66.42 L309.86 66.35 L311.00 66.28 L312.14 66.22 L313.30 66.16 L314.46 66.11 L315.62 66.10 L316.78 66.20 L317.93 66.39 L319.08 66.61 L320.22 66.84 L321.37 67.07 L322.53 67.32 L323.67 67.65 L324.72 68.18 L325.71 68.85 L326.66 69.54 L327.61 70.24 L328.54 70.93 L329.46 71.63 L330.35 72.36 L331.16 73.20 L331.91 74.08 L332.63 74.97 L333.35 75.86 L334.05 76.74 L334.75 77.62 L335.42 78.51 L336.02 79.45 L336.55 80.44 L337.05 81.43 L337.53 82.42 L338.01 83.40 L338.49 84.39 L338.95 85.37 L339.41 86.35 L339.87 87.34 L340.30 88.34 L340.67 89.36 L341.01 90.39 L341.35 91.43 L341.68 92.48 L342.01 93.53 L342.34 94.60 L342.67 95.67 L342.99 96.76 L343.18 97.88 L343.14 99.00 L342.97 100.12 L342.80 101.22 L342.63 102.32 L342.45 103.42 L342.26 104.51 L342.07 105.60 L341.88 106.70 L341.58 107.77 L341.07 108.77 L340.40 109.70 L339.71 110.60 L339.03 111.48 L338.36 112.34 L337.69 113.19 L337.03 114.03 L336.37 114.85 L335.71 115.67 L335.05 116.48 L334.42 117.30 L333.80 118.13 L333.19 118.98 L332.58 119.84 L331.95 120.69 L331.31 121.56 L330.66 122.43 L329.99 123.31 L329.28 124.16 L328.51 124.96 L327.71 125.74 L326.89 126.52 L326.05 127.30 L325.20 128.11 L324.32 128.92 L323.37 129.62 L322.30 130.05 L321.18 130.32 L320.06 130.59 L318.94 130.85 L317.82 131.11 L316.71 131.36 L315.58 131.60 L314.45 131.78 L313.29 131.81 L312.14 131.73 L311.00 131.64 L309.86 131.55 L308.73 131.44 L307.61 131.27 L306.52 130.88 L305.49 130.25 L304.51 129.55 L303.55 128.87 L302.63 128.20 L301.72 127.57 L300.80 127.02 L299.88 126.53 L298.96 126.05 L298.04 125.57 L297.13 125.09 L296.22 124.61 L295.31 124.11 L294.40 123.61 L293.48 123.11 L292.57 122.59 L291.66 122.04 L290.78 121.46 L289.90 120.85 L289.02 120.23 L288.13 119.60 L287.22 118.95 L286.31 118.29 L285.38 117.62 L284.43 116.92 L283.58 116.13 L283.01 115.16 L282.62 114.09 L282.28 113.01 L281.95 111.93 L281.63 110.87 L281.31 109.80 L281.10 108.71 L281.06 107.58 L281.12 106.45 L281.17 105.34 L281.23 104.25 L281.29 103.17 L281.36 102.12 L281.43 101.07 L281.52 100.03Z M296.98 99.00 L297.09 98.51 L297.20 98.03 L297.30 97.56 L297.39 97.09 L297.48 96.62 L297.57 96.14 L297.65 95.67 L297.72 95.19 L297.79 94.71 L297.85 94.22 L297.92 93.71 L297.97 93.20 L298.03 92.67 L298.08 92.13 L298.13 91.57 L298.18 90.99 L298.23 90.39 L298.28 89.76 L298.34 89.11 L298.40 88.43 L298.47 87.72 L298.55 86.98 L298.63 86.19 L298.72 85.36 L298.99 84.69 L299.56 84.36 L300.24 84.20 L300.91 84.04 L301.55 83.87 L302.17 83.70 L302.77 83.52 L303.36 83.33 L303.94 83.13 L304.51 82.93 L305.08 82.73 L305.65 82.52 L306.21 82.31 L306.78 82.09 L307.37 81.91 L307.97 81.84 L308.59 81.85 L309.20 81.87 L309.80 81.88 L310.40 81.89 L311.00 81.89 L311.60 81.89 L312.20 81.88 L312.80 81.87 L313.41 81.85 L314.03 81.84 L314.64 81.87 L315.24 81.98 L315.84 82.12 L316.44 82.26 L317.05 82.39 L317.66 82.51 L318.25 82.71 L318.76 83.09 L319.19 83.60 L319.58 84.14 L319.96 84.66 L320.33 85.16 L320.70 85.65 L321.06 86.12 L321.42 86.58 L321.74 87.07 L321.97 87.64 L322.14 88.24 L322.31 88.81 L322.48 89.37 L322.64 89.90 L322.81 90.42 L322.97 90.92 L323.14 91.41 L323.31 91.90 L323.47 92.37 L323.64 92.83 L323.82 93.29 L323.99 93.75 L324.17 94.20 L324.36 94.66 L324.56 95.11 L324.76 95.57 L324.97 96.03 L325.17 96.50 L325.30 96.99 L325.33 97.49 L325.32 98.00 L325.31 98.50 L325.31 99.00 L325.31 99.50 L325.32 100.00 L325.33 100.51 L325.35 101.02 L325.37 101.53 L325.40 102.06 L325.44 102.60 L325.48 103.15 L325.53 103.72 L325.47 104.27 L325.15 104.72 L324.64 105.07 L324.10 105.39 L323.59 105.70 L323.10 105.99 L322.63 106.27 L322.18 106.54 L321.75 106.81 L321.33 107.07 L320.91 107.32 L320.51 107.56 L320.11 107.80 L319.72 108.03 L319.35 108.27 L318.98 108.51 L318.61 108.75 L318.26 108.99 L317.90 109.23 L317.55 109.49 L317.20 109.74 L316.85 110.01 L316.52 110.32 L316.22 110.72 L315.91 111.16 L315.60 111.63 L315.27 112.13 L314.91 112.65 L314.54 113.21 L314.15 113.80 L313.71 114.38 L313.22 114.79 L312.68 114.96 L312.12 115.05 L311.56 115.14 L311.00 115.24 L310.43 115.35 L309.85 115.40 L309.29 115.27 L308.76 114.93 L308.26 114.53 L307.78 114.15 L307.32 113.77 L306.88 113.37 L306.47 112.95 L306.07 112.54 L305.69 112.15 L305.31 111.77 L304.95 111.41 L304.59 111.06 L304.23 110.72 L303.88 110.39 L303.52 110.10 L303.11 109.85 L302.68 109.65 L302.23 109.45 L301.77 109.26 L301.29 109.06 L300.79 108.86 L300.28 108.65 L299.75 108.44 L299.19 108.23 L298.64 107.98 L298.17 107.65 L297.76 107.27 L297.37 106.87 L296.97 106.46 L296.55 106.05 L296.12 105.62 L295.67 105.19 L295.21 104.75 L294.88 104.24 L294.90 103.62 L295.19 102.94 L295.52 102.29 L295.83 101.68 L296.12 101.09 L296.40 100.53 L296.65 100.00 L296.84 99.49Z" fill="#c41ec2" fill-rule="evenodd" opacity="0.80" filter="url(#b2_5)"/>
<path d="M286.13 99.00 L286.25 98.14 L286.36 97.28 L286.48 96.42 L286.60 95.57 L286.71 94.72 L286.83 93.86 L286.95 93.00 L287.06 92.14 L287.18 91.26 L287.30 90.38 L287.43 89.48 L287.55 88.56 L287.68 87.63 L287.83 86.68 L288.00 85.72 L288.18 84.74 L288.38 83.74 L288.57 82.71 L288.78 81.64 L288.99 80.53 L289.21 79.38 L289.48 78.22 L289.95 77.20 L290.62 76.37 L291.37 75.61 L292.13 74.85 L292.94 74.14 L293.90 73.65 L295.02 73.43 L296.18 73.32 L297.29 73.22 L298.38 73.12 L299.42 72.98 L300.40 72.78 L301.36 72.51 L302.31 72.24 L303.25 71.97 L304.19 71.70 L305.14 71.43 L306.10 71.19 L307.07 71.05 L308.05 70.98 L309.04 70.91 L310.02 70.85 L311.00 70.78 L311.99 70.72 L312.98 70.65 L313.99 70.58 L315.00 70.56 L316.00 70.63 L317.00 70.79 L317.99 70.98 L318.98 71.17 L319.98 71.35 L320.99 71.54 L321.98 71.82 L322.89 72.29 L323.73 72.89 L324.55 73.52 L325.36 74.14 L326.15 74.75 L326.95 75.36 L327.71 76.01 L328.39 76.74 L329.02 77.53 L329.62 78.32 L330.22 79.09 L330.82 79.86 L331.41 80.63 L331.97 81.40 L332.48 82.22 L332.91 83.08 L333.32 83.95 L333.72 84.80 L334.12 85.65 L334.51 86.50 L334.91 87.34 L335.30 88.18 L335.70 89.02 L336.07 89.88 L336.39 90.75 L336.69 91.63 L336.98 92.52 L337.28 93.41 L337.58 94.31 L337.88 95.22 L338.19 96.14 L338.50 97.08 L338.69 98.03 L338.64 99.00 L338.47 99.96 L338.31 100.91 L338.15 101.85 L337.99 102.79 L337.83 103.73 L337.67 104.67 L337.51 105.61 L337.26 106.53 L336.79 107.38 L336.17 108.16 L335.54 108.91 L334.92 109.65 L334.31 110.37 L333.72 111.08 L333.13 111.78 L332.55 112.47 L331.98 113.15 L331.41 113.83 L330.87 114.52 L330.36 115.24 L329.85 115.97 L329.34 116.71 L328.82 117.46 L328.30 118.21 L327.77 118.98 L327.22 119.76 L326.64 120.52 L326.00 121.23 L325.32 121.92 L324.64 122.62 L323.94 123.33 L323.22 124.06 L322.49 124.81 L321.68 125.44 L320.76 125.82 L319.79 126.04 L318.82 126.27 L317.85 126.49 L316.89 126.71 L315.92 126.92 L314.96 127.15 L313.97 127.30 L312.98 127.32 L311.99 127.24 L311.00 127.14 L310.02 127.05 L309.05 126.96 L308.08 126.80 L307.15 126.43 L306.27 125.82 L305.44 125.15 L304.64 124.50 L303.87 123.88 L303.11 123.29 L302.34 122.79 L301.56 122.35 L300.79 121.94 L300.01 121.53 L299.24 121.12 L298.47 120.71 L297.69 120.30 L296.91 119.88 L296.13 119.47 L295.34 119.04 L294.56 118.60 L293.79 118.11 L293.03 117.61 L292.26 117.10 L291.47 116.59 L290.67 116.06 L289.85 115.52 L289.02 114.97 L288.16 114.41 L287.40 113.75 L286.90 112.91 L286.60 111.97 L286.33 111.03 L286.06 110.10 L285.80 109.18 L285.54 108.27 L285.38 107.32 L285.39 106.34 L285.48 105.36 L285.57 104.40 L285.66 103.47 L285.75 102.55 L285.84 101.64 L285.92 100.75 L286.02 99.87Z M292.48 99.00 L292.59 98.36 L292.71 97.72 L292.82 97.09 L292.94 96.46 L293.05 95.84 L293.17 95.21 L293.28 94.58 L293.39 93.95 L293.51 93.32 L293.63 92.68 L293.74 92.03 L293.86 91.37 L293.98 90.70 L294.11 90.02 L294.23 89.32 L294.36 88.60 L294.50 87.87 L294.64 87.11 L294.79 86.34 L294.96 85.54 L295.13 84.71 L295.31 83.85 L295.50 82.95 L295.71 82.02 L296.10 81.24 L296.79 80.81 L297.60 80.56 L298.39 80.31 L299.16 80.06 L299.92 79.81 L300.66 79.55 L301.38 79.28 L302.10 79.02 L302.82 78.76 L303.54 78.50 L304.26 78.24 L304.97 77.98 L305.69 77.72 L306.43 77.51 L307.19 77.41 L307.96 77.39 L308.73 77.39 L309.49 77.39 L310.25 77.39 L311.00 77.39 L311.75 77.39 L312.51 77.39 L313.27 77.39 L314.04 77.39 L314.81 77.40 L315.58 77.47 L316.33 77.62 L317.08 77.80 L317.83 77.98 L318.59 78.16 L319.35 78.34 L320.08 78.60 L320.73 79.04 L321.30 79.63 L321.83 80.24 L322.35 80.84 L322.85 81.43 L323.35 82.01 L323.84 82.57 L324.32 83.13 L324.75 83.73 L325.09 84.41 L325.38 85.11 L325.66 85.80 L325.93 86.48 L326.19 87.13 L326.45 87.77 L326.70 88.41 L326.96 89.03 L327.20 89.65 L327.45 90.26 L327.69 90.86 L327.93 91.46 L328.17 92.06 L328.40 92.67 L328.64 93.27 L328.88 93.87 L329.12 94.48 L329.37 95.10 L329.60 95.72 L329.76 96.36 L329.81 97.02 L329.81 97.68 L329.81 98.34 L329.81 99.00 L329.81 99.66 L329.81 100.32 L329.81 100.98 L329.81 101.64 L329.81 102.32 L329.81 103.00 L329.81 103.69 L329.81 104.39 L329.81 105.11 L329.70 105.81 L329.33 106.40 L328.75 106.90 L328.15 107.36 L327.57 107.81 L327.00 108.24 L326.45 108.65 L325.92 109.06 L325.39 109.46 L324.88 109.84 L324.36 110.21 L323.85 110.57 L323.35 110.92 L322.85 111.27 L322.36 111.61 L321.87 111.95 L321.38 112.29 L320.90 112.63 L320.42 112.97 L319.94 113.30 L319.45 113.64 L318.97 113.98 L318.49 114.37 L318.05 114.83 L317.60 115.33 L317.14 115.86 L316.66 116.41 L316.16 116.98 L315.63 117.57 L315.08 118.20 L314.49 118.81 L313.84 119.24 L313.15 119.44 L312.44 119.54 L311.72 119.64 L311.00 119.74 L310.27 119.84 L309.54 119.89 L308.82 119.74 L308.13 119.39 L307.48 118.96 L306.84 118.55 L306.23 118.14 L305.64 117.69 L305.08 117.23 L304.53 116.77 L304.00 116.32 L303.48 115.89 L302.97 115.46 L302.47 115.03 L301.98 114.62 L301.50 114.21 L301.00 113.83 L300.47 113.49 L299.91 113.20 L299.34 112.90 L298.75 112.60 L298.16 112.29 L297.56 111.98 L296.94 111.66 L296.30 111.33 L295.65 111.00 L295.00 110.62 L294.44 110.17 L293.95 109.66 L293.48 109.12 L293.00 108.57 L292.51 108.02 L292.01 107.45 L291.50 106.88 L290.98 106.29 L290.60 105.63 L290.58 104.86 L290.82 104.03 L291.12 103.23 L291.40 102.46 L291.67 101.72 L291.93 101.00 L292.16 100.32 L292.34 99.65Z" fill="#2a14ec" fill-rule="evenodd" opacity="1.00" filter="url(#b0_6)"/>
<path d="M287.52 99.00 L287.64 98.18 L287.76 97.37 L287.88 96.57 L287.99 95.77 L288.11 94.96 L288.22 94.16 L288.34 93.35 L288.46 92.54 L288.58 91.71 L288.69 90.88 L288.82 90.04 L288.94 89.18 L289.07 88.30 L289.21 87.41 L289.37 86.51 L289.54 85.59 L289.72 84.65 L289.91 83.68 L290.10 82.67 L290.30 81.63 L290.51 80.55 L290.77 79.46 L291.17 78.46 L291.74 77.61 L292.41 76.85 L293.16 76.16 L293.97 75.55 L294.89 75.12 L295.93 74.89 L297.00 74.75 L298.03 74.61 L299.04 74.47 L300.01 74.31 L300.94 74.09 L301.84 73.83 L302.73 73.56 L303.63 73.29 L304.52 73.02 L305.42 72.76 L306.34 72.56 L307.27 72.45 L308.20 72.39 L309.14 72.34 L310.07 72.29 L311.00 72.24 L311.94 72.19 L312.88 72.13 L313.83 72.08 L314.79 72.06 L315.74 72.12 L316.68 72.26 L317.62 72.44 L318.56 72.62 L319.51 72.81 L320.46 73.00 L321.40 73.25 L322.28 73.67 L323.07 74.24 L323.83 74.86 L324.58 75.48 L325.32 76.09 L326.05 76.69 L326.75 77.33 L327.39 78.02 L327.98 78.76 L328.55 79.51 L329.09 80.26 L329.62 81.02 L330.14 81.77 L330.64 82.52 L331.09 83.30 L331.49 84.11 L331.86 84.93 L332.23 85.73 L332.60 86.53 L332.96 87.32 L333.32 88.11 L333.68 88.90 L334.04 89.69 L334.38 90.49 L334.69 91.30 L334.97 92.13 L335.25 92.95 L335.54 93.78 L335.82 94.62 L336.10 95.47 L336.35 96.34 L336.59 97.21 L336.73 98.10 L336.70 99.00 L336.57 99.89 L336.44 100.78 L336.32 101.66 L336.19 102.54 L336.07 103.42 L335.94 104.30 L335.82 105.19 L335.62 106.06 L335.25 106.88 L334.75 107.64 L334.17 108.36 L333.56 109.05 L332.96 109.71 L332.36 110.36 L331.78 111.00 L331.21 111.63 L330.64 112.25 L330.09 112.87 L329.55 113.49 L329.04 114.14 L328.53 114.78 L328.02 115.44 L327.51 116.09 L326.99 116.76 L326.47 117.43 L325.94 118.12 L325.38 118.79 L324.77 119.41 L324.14 120.02 L323.50 120.64 L322.84 121.27 L322.18 121.93 L321.51 122.61 L320.79 123.22 L319.96 123.63 L319.10 123.92 L318.23 124.22 L317.36 124.52 L316.49 124.83 L315.61 125.14 L314.71 125.41 L313.79 125.57 L312.86 125.61 L311.93 125.56 L311.00 125.51 L310.08 125.46 L309.15 125.40 L308.24 125.25 L307.36 124.88 L306.54 124.31 L305.75 123.70 L304.99 123.10 L304.26 122.52 L303.54 121.96 L302.82 121.46 L302.10 121.03 L301.38 120.61 L300.66 120.19 L299.95 119.78 L299.24 119.37 L298.53 118.96 L297.81 118.55 L297.08 118.15 L296.35 117.76 L295.61 117.34 L294.88 116.90 L294.16 116.44 L293.42 115.98 L292.67 115.50 L291.91 115.02 L291.13 114.53 L290.33 114.02 L289.54 113.48 L288.84 112.85 L288.35 112.08 L288.01 111.23 L287.69 110.37 L287.37 109.52 L287.05 108.67 L286.74 107.83 L286.53 106.95 L286.53 106.02 L286.66 105.07 L286.79 104.15 L286.92 103.25 L287.05 102.37 L287.18 101.50 L287.29 100.66 L287.41 99.82Z M291.08 99.00 L291.20 98.31 L291.31 97.62 L291.43 96.94 L291.54 96.27 L291.66 95.59 L291.77 94.91 L291.89 94.23 L292.00 93.55 L292.12 92.86 L292.23 92.17 L292.35 91.47 L292.47 90.75 L292.60 90.02 L292.73 89.28 L292.86 88.53 L293.00 87.76 L293.15 86.96 L293.30 86.14 L293.47 85.30 L293.64 84.44 L293.83 83.54 L294.03 82.61 L294.28 81.68 L294.59 80.78 L295.06 80.01 L295.76 79.50 L296.57 79.14 L297.40 78.84 L298.25 78.60 L299.10 78.38 L299.92 78.15 L300.72 77.93 L301.51 77.69 L302.29 77.44 L303.06 77.18 L303.83 76.92 L304.59 76.66 L305.36 76.40 L306.15 76.17 L306.95 76.04 L307.77 76.00 L308.58 75.98 L309.39 75.97 L310.20 75.95 L311.00 75.94 L311.81 75.92 L312.61 75.91 L313.43 75.90 L314.25 75.89 L315.07 75.91 L315.89 76.00 L316.70 76.16 L317.50 76.34 L318.30 76.52 L319.12 76.70 L319.93 76.91 L320.70 77.21 L321.39 77.69 L322.01 78.28 L322.60 78.90 L323.18 79.50 L323.75 80.09 L324.31 80.69 L324.84 81.29 L325.35 81.90 L325.82 82.54 L326.22 83.24 L326.57 83.96 L326.92 84.66 L327.26 85.36 L327.57 86.05 L327.87 86.74 L328.16 87.43 L328.44 88.10 L328.72 88.77 L329.00 89.43 L329.28 90.09 L329.55 90.74 L329.82 91.40 L330.09 92.05 L330.35 92.71 L330.60 93.38 L330.85 94.05 L331.11 94.73 L331.36 95.41 L331.55 96.11 L331.65 96.83 L331.72 97.55 L331.76 98.28 L331.75 99.00 L331.71 99.72 L331.68 100.45 L331.64 101.17 L331.61 101.90 L331.57 102.63 L331.54 103.37 L331.50 104.11 L331.45 104.86 L331.34 105.61 L331.12 106.32 L330.69 106.96 L330.11 107.51 L329.51 108.03 L328.92 108.53 L328.35 109.02 L327.79 109.49 L327.25 109.96 L326.72 110.42 L326.20 110.87 L325.68 111.32 L325.17 111.76 L324.66 112.20 L324.16 112.63 L323.66 113.06 L323.17 113.50 L322.67 113.93 L322.16 114.37 L321.65 114.78 L321.12 115.20 L320.59 115.62 L320.06 116.04 L319.53 116.50 L319.02 117.02 L318.50 117.56 L317.93 118.05 L317.34 118.53 L316.74 119.02 L316.12 119.53 L315.48 120.07 L314.81 120.59 L314.09 120.98 L313.33 121.17 L312.56 121.25 L311.78 121.31 L311.00 121.37 L310.22 121.43 L309.43 121.44 L308.66 121.29 L307.92 120.94 L307.21 120.47 L306.54 120.00 L305.88 119.54 L305.25 119.05 L304.64 118.56 L304.05 118.09 L303.47 117.65 L302.89 117.22 L302.32 116.79 L301.76 116.37 L301.21 115.96 L300.66 115.55 L300.10 115.16 L299.51 114.81 L298.90 114.48 L298.29 114.15 L297.66 113.81 L297.03 113.46 L296.39 113.11 L295.73 112.75 L295.06 112.37 L294.37 111.99 L293.69 111.58 L293.06 111.10 L292.51 110.56 L292.03 109.95 L291.59 109.32 L291.15 108.68 L290.70 108.04 L290.25 107.38 L289.79 106.72 L289.45 106.00 L289.44 105.18 L289.65 104.32 L289.90 103.49 L290.14 102.68 L290.37 101.90 L290.59 101.15 L290.79 100.41 L290.95 99.70Z" fill="#1c5cff" fill-rule="evenodd" opacity="1.00" filter="url(#b0_6)"/>
<path d="M299.13 74.66 L300.09 74.49 L301.01 74.27 L301.90 74.01 L302.79 73.74 L303.68 73.47 L304.57 73.20 L305.46 72.95 L306.37 72.75 L307.29 72.64 L308.22 72.58 L309.15 72.53 L310.07 72.48 L311.00 72.43 L311.93 72.39 L312.86 72.34 L313.81 72.29 L314.76 72.27 L315.70 72.32 L316.64 72.46 L317.57 72.64 L318.51 72.82 L319.44 73.01 L320.39 73.20 L321.32 73.45 L322.19 73.86 L322.98 74.43 L323.74 75.04 L324.47 75.66 L322.71 78.72 L322.11 78.10 L321.48 77.50 L320.79 77.02 L320.01 76.71 L319.19 76.50 L318.37 76.32 L317.56 76.14 L316.75 75.96 L315.93 75.80 L315.11 75.71 L314.28 75.68 L313.45 75.69 L312.63 75.71 L311.81 75.72 L311.00 75.74 L310.19 75.76 L309.38 75.77 L308.56 75.79 L307.74 75.81 L306.92 75.85 L306.11 75.99 L305.32 76.22 L304.54 76.48 L303.77 76.74 L302.99 77.00 L302.22 77.26 L301.43 77.51 L300.63 77.74Z" fill="#20a8ff" opacity="1.00" filter="url(#b0_8)"/>
<path d="M288.30 95.00 L288.41 94.20 L288.53 93.40 L288.65 92.59 L288.76 91.78 L288.88 90.95 L289.01 90.11 L289.13 89.26 L289.26 88.39 L289.40 87.51 L289.56 86.62 L289.73 85.71 L289.91 84.77 L290.09 83.81 L290.28 82.81 L290.48 81.78 L290.69 80.71 L290.94 79.63 L291.34 78.64 L291.89 77.78 L292.56 77.02 L293.30 76.34 L294.11 75.75 L295.03 75.32 L296.06 75.09 L297.11 74.94 L298.98 78.19 L298.13 78.40 L297.27 78.64 L296.43 78.95 L295.63 79.32 L294.92 79.84 L294.44 80.61 L294.11 81.51 L293.85 82.44 L293.65 83.38 L293.46 84.29 L293.29 85.16 L293.12 86.01 L292.97 86.84 L292.82 87.64 L292.68 88.42 L292.54 89.18 L292.41 89.93 L292.28 90.67 L292.16 91.39 L292.05 92.10 L291.93 92.80 L291.81 93.50 L291.70 94.19 L291.58 94.87 L291.47 95.56Z" fill="#2098ff" opacity="1.00" filter="url(#b0_8)"/>
<path d="M292.08 114.88 L291.30 114.39 L290.51 113.88 L289.73 113.35 L289.03 112.73 L288.55 111.96 L288.20 111.12 L287.87 110.28 L287.55 109.44 L287.23 108.61 L286.90 107.77 L286.69 106.90 L286.69 105.97 L286.82 105.03 L286.96 104.11 L287.10 103.21 L287.23 102.34 L287.36 101.48 L287.48 100.64 L290.60 100.43 L290.40 101.16 L290.19 101.92 L289.96 102.71 L289.73 103.52 L289.49 104.36 L289.28 105.23 L289.30 106.05 L289.62 106.78 L290.08 107.45 L290.52 108.12 L290.96 108.77 L291.40 109.42 L291.83 110.07 L292.31 110.68 L292.87 111.23 L293.51 111.71 L294.20 112.13 L294.89 112.52Z" fill="#20a0ff" opacity="1.00" filter="url(#b0_8)"/>
<path d="M332.73 86.45 L333.10 87.25 L333.46 88.04 L333.83 88.84 L334.19 89.63 L334.54 90.43 L334.84 91.25 L335.13 92.08 L335.41 92.91 L335.70 93.75 L335.98 94.59 L336.26 95.45 L336.51 96.32 L336.76 97.20 L336.91 98.10 L336.87 99.00 L336.74 99.90 L336.61 100.79 L336.48 101.68 L336.35 102.56 L336.23 103.45 L336.10 104.33 L335.97 105.23 L335.77 106.10 L331.30 104.82 L331.35 104.07 L331.38 103.33 L331.41 102.60 L331.44 101.87 L331.48 101.15 L331.51 100.43 L331.54 99.72 L331.57 99.00 L331.58 98.28 L331.54 97.56 L331.48 96.85 L331.38 96.14 L331.20 95.44 L330.95 94.76 L330.70 94.09 L330.44 93.42 L330.19 92.76 L329.94 92.11 L329.67 91.46 L329.40 90.81 L329.13 90.16 L328.86 89.50 L328.59 88.85Z" fill="#30e080" opacity="1.00" filter="url(#b0_8)"/>
<path d="M335.89 97.26 L336.02 98.13 L335.99 99.00 L335.87 99.87 L335.76 100.73 L335.65 101.59 L335.54 102.45 L335.42 103.31 L335.31 104.17 L332.17 103.50 L332.21 102.74 L332.26 101.99 L332.31 101.24 L332.36 100.49 L332.41 99.75 L332.46 99.00 L332.47 98.25 L332.41 97.50Z" fill="#c0f040" opacity="1.00" filter="url(#b0_8)"/>
<path d="M328.14 115.55 L327.63 116.22 L327.11 116.89 L326.59 117.57 L326.05 118.27 L325.49 118.94 L324.88 119.58 L324.24 120.20 L323.60 120.82 L322.94 121.46 L322.28 122.12 L321.60 122.81 L320.87 123.42 L320.04 123.83 L319.16 124.12 L318.29 124.41 L317.41 124.70 L316.53 125.00 L315.64 125.30 L314.73 125.57 L313.81 125.73 L313.31 121.01 L314.07 120.82 L314.78 120.43 L315.44 119.90 L316.08 119.36 L316.69 118.84 L317.28 118.34 L317.86 117.85 L318.42 117.36 L318.94 116.82 L319.44 116.31 L319.96 115.85 L320.49 115.44 L321.01 115.03 L321.53 114.62 L322.05 114.21 L322.55 113.79 L323.05 113.36 L323.54 112.93 L324.04 112.51 L324.54 112.08Z" fill="#30d890" opacity="1.00" filter="url(#b0_8)"/>
<path d="M324.32 118.75 L323.71 119.33 L323.08 119.93 L322.45 120.53 L321.80 121.15 L321.16 121.81 L320.46 122.41 L319.67 122.83 L318.85 123.15 L318.02 123.48 L317.19 123.81 L316.30 120.25 L316.95 119.76 L317.60 119.30 L318.22 118.85 L318.82 118.37 L319.38 117.82 L319.91 117.27 L320.46 116.79 L321.01 116.33 L321.55 115.89 L322.09 115.45Z" fill="#70f040" opacity="1.00" filter="url(#b0_8)"/>
</g>
<clipPath id="cp3"><circle cx="402.80" cy="101.00" r="42"/></clipPath>
<circle cx="402.80" cy="101.00" r="42.2" fill="#3b0849"/>
<g clip-path="url(#cp3)">
<path d="M427.29 95.28 Q432.99 104.76 425.73 113.11 L417.57 122.50 Q410.31 130.85 400.13 126.53 L388.68 121.66 Q378.50 117.34 379.46 106.32 L380.55 93.93 Q381.51 82.91 392.29 80.42 L404.41 77.63 Q415.19 75.14 420.88 84.62Z" fill="none" stroke="#9028c8" stroke-width="19" opacity="0.8" filter="url(#b2_5)"/>
<path d="M427.29 95.28 Q432.99 104.76 425.73 113.11 L417.57 122.50 Q410.31 130.85 400.13 126.53 L388.68 121.66 Q378.50 117.34 379.46 106.32 L380.55 93.93 Q381.51 82.91 392.29 80.42 L404.41 77.63 Q415.19 75.14 420.88 84.62Z" fill="none" stroke="#a850f2" stroke-width="12.2" filter="url(#b0_6)"/>
<path d="M427.29 95.28 Q432.99 104.76 425.73 113.11 L417.57 122.50 Q410.31 130.85 400.13 126.53 L388.68 121.66 Q378.50 117.34 379.46 106.32 L380.55 93.93 Q381.51 82.91 392.29 80.42 L404.41 77.63 Q415.19 75.14 420.88 84.62Z" fill="none" stroke="#f6e48e" stroke-width="8.8" filter="url(#b0_6)"/>
<path d="M427.29 95.28 Q432.99 104.76 425.73 113.11 L417.57 122.50 Q410.31 130.85 400.13 126.53 L388.68 121.66 Q378.50 117.34 379.46 106.32 L380.55 93.93 Q381.51 82.91 392.29 80.42 L404.41 77.63 Q415.19 75.14 420.88 84.62Z" fill="none" stroke="#f0a048" stroke-width="4.6" filter="url(#b0_6)"/>
<path d="M427.29 95.28 Q432.99 104.76 425.73 113.11 L417.57 122.50 Q410.31 130.85 400.13 126.53 L388.68 121.66 Q378.50 117.34 379.46 106.32 L380.55 93.93 Q381.51 82.91 392.29 80.42 L404.41 77.63 Q415.19 75.14 420.88 84.62Z" fill="none" stroke="#d44c16" stroke-width="2.1" filter="url(#b0_6)"/>
</g>
<clipPath id="cp4"><circle cx="495.80" cy="101.00" r="42"/></clipPath>
<circle cx="495.80" cy="101.00" r="42.2" fill="#520a64"/>
<g clip-path="url(#cp4)">
<circle cx="496.1" cy="101" r="36" fill="#9a1aa4" opacity="0.38" filter="url(#b5)"/>
<path d="M461.46 100.00 L461.48 98.79 L461.58 97.59 L461.68 96.39 L461.79 95.19 L461.91 93.99 L462.06 92.79 L462.34 91.61 L462.77 90.47 L463.27 89.37 L463.77 88.27 L464.27 87.18 L464.78 86.10 L465.29 85.02 L465.80 83.94 L466.32 82.87 L466.84 81.78 L467.32 80.65 L467.76 79.49 L468.21 78.29 L468.67 77.07 L469.14 75.82 L469.63 74.54 L470.22 73.31 L471.02 72.26 L471.98 71.37 L472.97 70.53 L473.97 69.68 L474.98 68.83 L476.07 68.11 L477.32 67.65 L478.63 67.33 L479.92 67.02 L481.19 66.73 L482.45 66.45 L483.71 66.23 L484.98 66.08 L486.23 65.94 L487.48 65.81 L488.71 65.69 L489.93 65.58 L491.15 65.49 L492.37 65.46 L493.59 65.49 L494.80 65.53 L496.00 65.58 L497.20 65.63 L498.40 65.69 L499.60 65.76 L500.80 65.88 L501.97 66.12 L503.14 66.42 L504.29 66.74 L505.45 67.06 L506.60 67.38 L507.75 67.72 L508.89 68.10 L509.97 68.63 L510.97 69.31 L511.93 70.05 L512.87 70.78 L513.80 71.51 L514.73 72.24 L515.64 72.97 L516.55 73.70 L517.43 74.46 L518.24 75.30 L518.99 76.19 L519.74 77.08 L520.47 77.97 L521.20 78.85 L521.92 79.75 L522.64 80.64 L523.36 81.54 L524.04 82.48 L524.65 83.46 L525.21 84.47 L525.76 85.48 L526.31 86.50 L526.86 87.53 L527.41 88.57 L527.95 89.62 L528.46 90.69 L528.91 91.79 L529.34 92.91 L529.76 94.05 L530.19 95.20 L530.62 96.36 L530.92 97.56 L530.94 98.78 L530.79 100.00 L530.62 101.21 L530.44 102.41 L530.26 103.60 L530.08 104.79 L529.88 105.97 L529.61 107.14 L529.23 108.28 L528.79 109.40 L528.36 110.51 L527.92 111.62 L527.47 112.72 L527.02 113.81 L526.56 114.91 L526.07 115.99 L525.55 117.06 L525.00 118.12 L524.44 119.18 L523.87 120.25 L523.30 121.33 L522.71 122.41 L522.09 123.49 L521.36 124.49 L520.50 125.37 L519.58 126.19 L518.66 127.01 L517.74 127.82 L516.81 128.64 L515.85 129.43 L514.84 130.14 L513.75 130.75 L512.64 131.30 L511.53 131.85 L510.42 132.39 L509.31 132.93 L508.16 133.40 L506.95 133.70 L505.72 133.90 L504.50 134.09 L503.28 134.26 L502.07 134.44 L500.86 134.60 L499.65 134.71 L498.43 134.71 L497.21 134.63 L496.00 134.54 L494.80 134.45 L493.60 134.34 L492.40 134.24 L491.20 134.13 L490.00 134.01 L488.80 133.88 L487.59 133.74 L486.39 133.52 L485.22 133.19 L484.06 132.80 L482.90 132.41 L481.75 132.01 L480.58 131.61 L479.41 131.19 L478.29 130.68 L477.28 129.96 L476.36 129.12 L475.46 128.26 L474.58 127.41 L473.71 126.56 L472.85 125.71 L472.02 124.83 L471.24 123.91 L470.49 122.97 L469.74 122.04 L468.99 121.10 L468.25 120.16 L467.51 119.22 L466.81 118.24 L466.21 117.20 L465.72 116.10 L465.26 114.99 L464.82 113.88 L464.38 112.78 L463.94 111.67 L463.51 110.56 L463.09 109.44 L462.74 108.29 L462.49 107.12 L462.30 105.94 L462.11 104.76 L461.92 103.58 L461.74 102.40 L461.56 101.20Z M478.00 100.00 L478.10 99.37 L478.30 98.76 L478.50 98.16 L478.68 97.57 L478.86 96.98 L479.03 96.39 L479.19 95.81 L479.35 95.23 L479.55 94.66 L479.85 94.12 L480.24 93.63 L480.63 93.16 L481.01 92.69 L481.39 92.23 L481.75 91.77 L482.10 91.31 L482.45 90.86 L482.79 90.40 L483.12 89.94 L483.45 89.47 L483.72 88.95 L483.95 88.36 L484.16 87.74 L484.38 87.09 L484.60 86.41 L484.83 85.71 L485.08 84.96 L485.39 84.27 L485.81 83.68 L486.28 83.16 L486.76 82.62 L487.32 82.21 L488.03 82.11 L488.79 82.16 L489.53 82.22 L490.24 82.27 L490.93 82.32 L491.60 82.36 L492.26 82.43 L492.93 82.58 L493.58 82.79 L494.21 82.96 L494.81 83.01 L495.41 82.97 L496.00 82.90 L496.60 82.83 L497.21 82.75 L497.82 82.66 L498.45 82.57 L499.09 82.50 L499.71 82.54 L500.31 82.70 L500.91 82.88 L501.50 83.07 L502.10 83.24 L502.70 83.42 L503.31 83.59 L503.91 83.78 L504.44 84.13 L504.84 84.70 L505.16 85.34 L505.48 85.95 L505.78 86.54 L506.08 87.10 L506.37 87.65 L506.65 88.17 L506.92 88.69 L507.19 89.19 L507.46 89.68 L507.73 90.16 L508.00 90.63 L508.26 91.09 L508.54 91.54 L508.81 91.99 L509.10 92.44 L509.40 92.88 L509.70 93.32 L510.01 93.76 L510.34 94.21 L510.67 94.66 L511.02 95.12 L511.37 95.59 L511.74 96.08 L512.07 96.59 L512.30 97.13 L512.48 97.68 L512.67 98.25 L512.88 98.82 L513.09 99.40 L513.11 100.00 L512.74 100.58 L512.20 101.13 L511.69 101.65 L511.21 102.14 L510.76 102.60 L510.32 103.04 L509.92 103.47 L509.55 103.89 L509.23 104.30 L508.94 104.71 L508.65 105.11 L508.38 105.51 L508.11 105.90 L507.85 106.30 L507.59 106.69 L507.34 107.09 L507.10 107.48 L506.86 107.89 L506.62 108.30 L506.38 108.71 L506.16 109.15 L505.94 109.60 L505.72 110.07 L505.50 110.55 L505.27 111.05 L505.04 111.57 L504.80 112.12 L504.56 112.68 L504.27 113.23 L503.88 113.64 L503.40 113.93 L502.91 114.17 L502.42 114.42 L501.93 114.68 L501.44 114.94 L500.94 115.21 L500.42 115.41 L499.84 115.42 L499.25 115.30 L498.67 115.15 L498.11 115.02 L497.57 114.92 L497.04 114.82 L496.51 114.73 L496.00 114.65 L495.49 114.58 L494.99 114.51 L494.48 114.44 L493.98 114.39 L493.47 114.33 L492.97 114.27 L492.46 114.20 L491.95 114.12 L491.43 114.05 L490.91 113.99 L490.37 113.93 L489.83 113.87 L489.26 113.81 L488.68 113.76 L488.09 113.71 L487.49 113.62 L486.95 113.42 L486.47 113.12 L486.01 112.78 L485.55 112.45 L485.09 112.12 L484.61 111.79 L484.13 111.46 L483.64 111.13 L483.18 110.76 L482.80 110.31 L482.47 109.83 L482.14 109.35 L481.80 108.87 L481.46 108.40 L481.10 107.92 L480.74 107.44 L480.37 106.96 L479.99 106.47 L479.65 105.95 L479.42 105.39 L479.27 104.80 L479.12 104.21 L478.96 103.62 L478.80 103.03 L478.64 102.44 L478.46 101.84 L478.28 101.24 L478.09 100.63Z" fill="#c81ec4" fill-rule="evenodd" opacity="0.85" filter="url(#b2_5)"/>
<path d="M465.96 100.00 L465.98 98.95 L466.07 97.91 L466.16 96.86 L466.25 95.82 L466.34 94.77 L466.46 93.72 L466.70 92.70 L467.10 91.71 L467.55 90.76 L468.00 89.81 L468.45 88.87 L468.89 87.93 L469.33 86.99 L469.78 86.06 L470.22 85.12 L470.65 84.16 L471.05 83.17 L471.41 82.13 L471.76 81.06 L472.12 79.96 L472.49 78.83 L472.87 77.67 L473.35 76.55 L474.04 75.61 L474.87 74.82 L475.74 74.07 L476.62 73.32 L477.49 72.56 L478.46 71.93 L479.57 71.55 L480.74 71.31 L481.89 71.07 L483.02 70.84 L484.13 70.62 L485.25 70.46 L486.37 70.36 L487.47 70.27 L488.57 70.18 L489.64 70.09 L490.71 70.01 L491.78 69.95 L492.84 69.94 L493.90 69.97 L494.95 70.03 L496.00 70.08 L497.04 70.13 L498.09 70.18 L499.13 70.23 L500.17 70.34 L501.19 70.55 L502.20 70.82 L503.20 71.10 L504.21 71.38 L505.21 71.66 L506.21 71.95 L507.20 72.27 L508.14 72.74 L508.99 73.36 L509.81 74.02 L510.62 74.68 L511.42 75.33 L512.21 75.97 L513.00 76.61 L513.78 77.24 L514.54 77.91 L515.23 78.65 L515.87 79.43 L516.50 80.20 L517.13 80.98 L517.75 81.75 L518.38 82.52 L519.00 83.29 L519.63 84.06 L520.23 84.86 L520.75 85.71 L521.24 86.58 L521.72 87.46 L522.20 88.33 L522.69 89.22 L523.18 90.11 L523.67 91.01 L524.13 91.93 L524.55 92.88 L524.94 93.85 L525.33 94.83 L525.73 95.82 L526.14 96.83 L526.43 97.87 L526.44 98.94 L526.29 100.00 L526.12 101.05 L525.95 102.09 L525.79 103.13 L525.62 104.16 L525.45 105.19 L525.21 106.21 L524.86 107.20 L524.47 108.16 L524.08 109.12 L523.69 110.08 L523.30 111.03 L522.91 111.98 L522.52 112.93 L522.10 113.88 L521.65 114.81 L521.18 115.73 L520.71 116.67 L520.23 117.61 L519.75 118.56 L519.26 119.52 L518.74 120.48 L518.12 121.36 L517.37 122.13 L516.57 122.85 L515.77 123.56 L514.97 124.28 L514.16 125.00 L513.34 125.70 L512.45 126.33 L511.50 126.85 L510.53 127.33 L509.56 127.80 L508.59 128.28 L507.62 128.76 L506.62 129.17 L505.56 129.42 L504.48 129.58 L503.41 129.72 L502.35 129.86 L501.29 130.00 L500.24 130.14 L499.18 130.24 L498.11 130.22 L497.05 130.14 L496.00 130.04 L494.95 129.95 L493.91 129.85 L492.87 129.76 L491.83 129.67 L490.78 129.58 L489.73 129.48 L488.68 129.38 L487.63 129.20 L486.61 128.91 L485.60 128.58 L484.59 128.24 L483.58 127.90 L482.56 127.56 L481.53 127.22 L480.54 126.78 L479.66 126.15 L478.87 125.39 L478.11 124.62 L477.35 123.87 L476.60 123.12 L475.86 122.37 L475.15 121.59 L474.48 120.78 L473.83 119.96 L473.18 119.15 L472.54 118.33 L471.89 117.52 L471.24 116.70 L470.62 115.86 L470.11 114.95 L469.69 113.99 L469.31 113.02 L468.93 112.05 L468.55 111.09 L468.17 110.13 L467.79 109.17 L467.42 108.20 L467.11 107.20 L466.89 106.19 L466.73 105.16 L466.56 104.14 L466.40 103.11 L466.23 102.08 L466.06 101.05Z M473.50 100.00 L473.60 99.22 L473.81 98.45 L474.02 97.69 L474.22 96.94 L474.43 96.20 L474.63 95.46 L474.83 94.72 L475.03 93.99 L475.27 93.26 L475.63 92.58 L476.07 91.95 L476.52 91.33 L476.97 90.72 L477.41 90.12 L477.85 89.52 L478.28 88.93 L478.72 88.34 L479.15 87.76 L479.58 87.17 L480.00 86.57 L480.38 85.94 L480.71 85.24 L481.04 84.50 L481.37 83.75 L481.71 82.97 L482.06 82.16 L482.43 81.32 L482.87 80.53 L483.42 79.87 L484.03 79.26 L484.64 78.64 L485.35 78.17 L486.20 78.00 L487.11 77.99 L487.99 77.99 L488.85 77.99 L489.69 77.99 L490.51 77.99 L491.33 78.03 L492.15 78.15 L492.95 78.33 L493.74 78.48 L494.50 78.52 L495.25 78.47 L496.00 78.40 L496.76 78.33 L497.52 78.26 L498.29 78.18 L499.08 78.11 L499.87 78.07 L500.65 78.14 L501.40 78.33 L502.15 78.56 L502.89 78.79 L503.64 79.02 L504.39 79.24 L505.14 79.48 L505.88 79.74 L506.55 80.16 L507.09 80.80 L507.55 81.52 L507.99 82.22 L508.43 82.90 L508.85 83.56 L509.26 84.20 L509.66 84.83 L510.05 85.45 L510.43 86.07 L510.80 86.67 L511.17 87.27 L511.54 87.86 L511.90 88.44 L512.27 89.03 L512.63 89.61 L513.00 90.19 L513.37 90.76 L513.75 91.35 L514.13 91.93 L514.51 92.52 L514.90 93.12 L515.29 93.73 L515.70 94.35 L516.11 94.99 L516.47 95.65 L516.73 96.35 L516.94 97.06 L517.15 97.78 L517.37 98.51 L517.58 99.25 L517.61 100.00 L517.24 100.74 L516.69 101.45 L516.17 102.12 L515.67 102.76 L515.19 103.38 L514.72 103.98 L514.28 104.56 L513.88 105.13 L513.51 105.69 L513.17 106.25 L512.82 106.80 L512.49 107.34 L512.15 107.88 L511.82 108.41 L511.49 108.94 L511.16 109.47 L510.83 110.00 L510.50 110.53 L510.16 111.07 L509.83 111.61 L509.50 112.16 L509.18 112.73 L508.85 113.30 L508.51 113.89 L508.17 114.50 L507.81 115.12 L507.45 115.76 L507.07 116.42 L506.65 117.04 L506.13 117.54 L505.52 117.90 L504.88 118.21 L504.25 118.53 L503.62 118.85 L502.98 119.17 L502.33 119.49 L501.66 119.73 L500.93 119.79 L500.19 119.70 L499.45 119.58 L498.74 119.48 L498.04 119.39 L497.35 119.31 L496.67 119.23 L496.00 119.15 L495.33 119.07 L494.67 119.00 L494.01 118.92 L493.35 118.84 L492.69 118.76 L492.03 118.67 L491.37 118.56 L490.71 118.45 L490.04 118.33 L489.37 118.22 L488.69 118.10 L488.00 117.98 L487.29 117.86 L486.57 117.73 L485.84 117.60 L485.10 117.44 L484.43 117.15 L483.82 116.76 L483.24 116.33 L482.66 115.90 L482.07 115.47 L481.49 115.03 L480.89 114.59 L480.29 114.14 L479.73 113.65 L479.26 113.08 L478.83 112.47 L478.41 111.86 L477.99 111.26 L477.56 110.65 L477.13 110.03 L476.70 109.41 L476.26 108.79 L475.82 108.15 L475.42 107.49 L475.14 106.78 L474.94 106.04 L474.75 105.30 L474.56 104.56 L474.37 103.81 L474.18 103.07 L473.99 102.31 L473.79 101.55 L473.59 100.78Z" fill="#2a14ec" fill-rule="evenodd" opacity="1.00" filter="url(#b0_6)"/>
<path d="M467.01 100.00 L467.05 98.99 L467.15 97.98 L467.26 96.98 L467.37 95.98 L467.47 94.97 L467.60 93.96 L467.84 92.98 L468.21 92.03 L468.63 91.11 L469.07 90.20 L469.51 89.30 L469.96 88.41 L470.40 87.51 L470.84 86.62 L471.29 85.73 L471.72 84.83 L472.12 83.89 L472.49 82.92 L472.85 81.91 L473.22 80.89 L473.59 79.83 L473.97 78.73 L474.43 77.66 L475.06 76.75 L475.83 75.96 L476.63 75.20 L477.43 74.44 L478.25 73.68 L479.15 73.04 L480.20 72.63 L481.29 72.33 L482.37 72.06 L483.46 71.84 L484.55 71.66 L485.63 71.52 L486.72 71.43 L487.78 71.35 L488.84 71.27 L489.88 71.21 L490.91 71.15 L491.94 71.12 L492.97 71.13 L493.98 71.17 L494.99 71.21 L496.00 71.24 L497.00 71.28 L498.01 71.31 L499.01 71.35 L500.02 71.42 L501.01 71.60 L501.98 71.85 L502.95 72.12 L503.92 72.39 L504.88 72.66 L505.85 72.94 L506.81 73.25 L507.72 73.68 L508.56 74.25 L509.36 74.88 L510.13 75.53 L510.88 76.19 L511.62 76.84 L512.36 77.49 L513.09 78.13 L513.80 78.79 L514.45 79.51 L515.05 80.27 L515.65 81.02 L516.24 81.77 L516.83 82.52 L517.42 83.26 L518.01 84.01 L518.60 84.76 L519.16 85.53 L519.67 86.34 L520.13 87.17 L520.60 88.00 L521.07 88.84 L521.54 89.68 L522.02 90.53 L522.50 91.39 L522.95 92.27 L523.36 93.18 L523.75 94.10 L524.13 95.04 L524.50 95.99 L524.88 96.96 L525.16 97.96 L525.20 98.98 L525.07 100.00 L524.88 101.01 L524.66 102.00 L524.44 102.99 L524.23 103.97 L524.01 104.94 L523.74 105.90 L523.38 106.83 L522.99 107.74 L522.60 108.64 L522.21 109.54 L521.83 110.44 L521.45 111.33 L521.07 112.23 L520.66 113.11 L520.23 113.99 L519.78 114.86 L519.32 115.73 L518.87 116.62 L518.41 117.51 L517.94 118.41 L517.45 119.31 L516.87 120.15 L516.18 120.90 L515.44 121.59 L514.71 122.29 L513.97 123.00 L513.22 123.70 L512.46 124.40 L511.64 125.03 L510.75 125.55 L509.83 126.01 L508.91 126.46 L507.98 126.92 L507.06 127.37 L506.11 127.77 L505.11 128.03 L504.09 128.20 L503.06 128.33 L502.05 128.44 L501.03 128.54 L500.03 128.65 L499.02 128.72 L498.01 128.69 L497.00 128.61 L496.00 128.52 L495.01 128.43 L494.02 128.33 L493.03 128.24 L492.04 128.15 L491.05 128.06 L490.06 127.97 L489.05 127.86 L488.06 127.69 L487.09 127.43 L486.13 127.13 L485.16 126.82 L484.20 126.51 L483.22 126.20 L482.23 125.89 L481.28 125.50 L480.42 124.93 L479.65 124.24 L478.91 123.52 L478.18 122.81 L477.45 122.11 L476.73 121.40 L476.04 120.67 L475.38 119.91 L474.73 119.15 L474.10 118.38 L473.48 117.60 L472.86 116.81 L472.24 116.02 L471.66 115.21 L471.15 114.35 L470.73 113.43 L470.34 112.51 L469.96 111.60 L469.57 110.68 L469.18 109.76 L468.82 108.83 L468.47 107.89 L468.18 106.94 L467.97 105.96 L467.80 104.97 L467.63 103.99 L467.46 103.00 L467.29 102.01 L467.11 101.01Z M472.44 100.00 L472.54 99.18 L472.73 98.37 L472.92 97.57 L473.11 96.78 L473.29 96.00 L473.48 95.21 L473.69 94.44 L473.92 93.67 L474.19 92.91 L474.56 92.20 L475.00 91.52 L475.45 90.85 L475.90 90.20 L476.34 89.55 L476.78 88.90 L477.22 88.26 L477.64 87.62 L478.06 86.97 L478.48 86.31 L478.90 85.65 L479.27 84.94 L479.62 84.18 L479.96 83.39 L480.34 82.61 L480.75 81.83 L481.18 81.03 L481.62 80.20 L482.12 79.42 L482.73 78.76 L483.40 78.18 L484.10 77.62 L484.87 77.17 L485.76 76.99 L486.69 76.96 L487.61 76.94 L488.50 76.92 L489.38 76.91 L490.24 76.90 L491.09 76.92 L491.95 77.01 L492.79 77.16 L493.61 77.29 L494.41 77.33 L495.21 77.29 L496.00 77.24 L496.80 77.18 L497.60 77.13 L498.41 77.07 L499.23 77.02 L500.05 77.02 L500.86 77.12 L501.66 77.32 L502.44 77.55 L503.22 77.79 L504.00 78.03 L504.78 78.27 L505.56 78.53 L506.32 78.84 L507.01 79.30 L507.58 79.94 L508.09 80.65 L508.58 81.34 L509.07 82.02 L509.54 82.67 L510.00 83.32 L510.44 83.96 L510.86 84.61 L511.28 85.24 L511.69 85.87 L512.10 86.49 L512.50 87.11 L512.90 87.72 L513.30 88.33 L513.69 88.94 L514.08 89.56 L514.47 90.18 L514.86 90.80 L515.26 91.43 L515.65 92.06 L516.06 92.70 L516.47 93.35 L516.88 94.01 L517.29 94.69 L517.65 95.40 L517.93 96.13 L518.17 96.88 L518.41 97.64 L518.63 98.42 L518.82 99.20 L518.82 100.00 L518.48 100.79 L517.99 101.54 L517.51 102.26 L517.06 102.96 L516.62 103.64 L516.19 104.29 L515.76 104.93 L515.36 105.55 L514.99 106.17 L514.64 106.78 L514.29 107.39 L513.95 107.99 L513.60 108.59 L513.26 109.18 L512.91 109.76 L512.56 110.35 L512.21 110.93 L511.86 111.52 L511.51 112.11 L511.15 112.71 L510.80 113.32 L510.43 113.94 L510.04 114.54 L509.64 115.15 L509.23 115.77 L508.81 116.40 L508.39 117.05 L507.95 117.72 L507.46 118.34 L506.88 118.84 L506.22 119.22 L505.54 119.56 L504.86 119.90 L504.18 120.24 L503.49 120.57 L502.78 120.88 L502.05 121.11 L501.28 121.18 L500.49 121.12 L499.71 121.04 L498.95 120.97 L498.20 120.91 L497.46 120.84 L496.72 120.76 L496.00 120.68 L495.28 120.60 L494.57 120.52 L493.85 120.44 L493.14 120.36 L492.42 120.28 L491.71 120.18 L490.99 120.08 L490.28 119.95 L489.56 119.81 L488.84 119.67 L488.11 119.52 L487.38 119.37 L486.63 119.21 L485.87 119.06 L485.09 118.89 L484.34 118.66 L483.65 118.31 L483.02 117.86 L482.42 117.38 L481.81 116.91 L481.21 116.43 L480.60 115.95 L479.99 115.46 L479.39 114.96 L478.81 114.42 L478.32 113.81 L477.86 113.18 L477.41 112.54 L476.96 111.90 L476.52 111.25 L476.09 110.59 L475.66 109.92 L475.23 109.25 L474.80 108.57 L474.41 107.86 L474.11 107.11 L473.89 106.34 L473.68 105.56 L473.49 104.78 L473.30 104.00 L473.11 103.22 L472.92 102.43 L472.73 101.63 L472.54 100.82Z" fill="#14b4ff" fill-rule="evenodd" opacity="1.00" filter="url(#b0_6)"/>
<path d="M467.92 100.00 L467.96 99.02 L468.08 98.05 L468.20 97.08 L468.32 96.11 L468.44 95.14 L468.58 94.17 L468.82 93.22 L469.16 92.30 L469.56 91.41 L469.98 90.53 L470.43 89.67 L470.87 88.81 L471.32 87.96 L471.76 87.11 L472.20 86.26 L472.64 85.40 L473.04 84.51 L473.42 83.59 L473.79 82.65 L474.17 81.68 L474.54 80.68 L474.91 79.63 L475.35 78.61 L475.94 77.72 L476.65 76.94 L477.39 76.17 L478.13 75.40 L478.89 74.64 L479.75 73.99 L480.73 73.55 L481.76 73.21 L482.79 72.91 L483.84 72.70 L484.91 72.54 L485.96 72.42 L487.01 72.34 L488.05 72.28 L489.07 72.21 L490.08 72.16 L491.08 72.12 L492.08 72.13 L493.07 72.16 L494.06 72.20 L495.03 72.22 L496.00 72.24 L496.97 72.26 L497.94 72.28 L498.91 72.30 L499.88 72.36 L500.85 72.50 L501.80 72.73 L502.74 72.98 L503.67 73.25 L504.61 73.52 L505.54 73.78 L506.47 74.08 L507.36 74.49 L508.19 75.02 L508.96 75.62 L509.70 76.27 L510.41 76.94 L511.11 77.59 L511.81 78.24 L512.50 78.88 L513.16 79.55 L513.78 80.26 L514.36 80.99 L514.92 81.73 L515.48 82.46 L516.04 83.18 L516.60 83.91 L517.16 84.63 L517.72 85.35 L518.25 86.10 L518.74 86.87 L519.19 87.67 L519.65 88.47 L520.10 89.27 L520.56 90.08 L521.03 90.89 L521.49 91.72 L521.94 92.56 L522.35 93.43 L522.73 94.32 L523.09 95.22 L523.45 96.14 L523.80 97.08 L524.07 98.04 L524.14 99.02 L524.03 100.00 L523.81 100.97 L523.54 101.93 L523.29 102.87 L523.03 103.80 L522.78 104.72 L522.48 105.63 L522.11 106.51 L521.72 107.37 L521.33 108.23 L520.95 109.08 L520.58 109.93 L520.20 110.77 L519.82 111.62 L519.43 112.46 L519.01 113.28 L518.57 114.11 L518.14 114.93 L517.70 115.77 L517.26 116.61 L516.81 117.46 L516.34 118.32 L515.80 119.12 L515.16 119.84 L514.48 120.52 L513.79 121.20 L513.11 121.90 L512.42 122.59 L511.71 123.29 L510.94 123.91 L510.10 124.43 L509.23 124.88 L508.35 125.31 L507.46 125.75 L506.58 126.18 L505.67 126.57 L504.72 126.84 L503.75 127.02 L502.77 127.14 L501.79 127.22 L500.81 127.29 L499.85 127.37 L498.88 127.42 L497.91 127.38 L496.95 127.30 L496.00 127.21 L495.05 127.12 L494.11 127.03 L493.17 126.94 L492.23 126.85 L491.28 126.76 L490.33 126.67 L489.38 126.56 L488.43 126.40 L487.50 126.16 L486.58 125.88 L485.66 125.60 L484.73 125.32 L483.79 125.04 L482.84 124.75 L481.92 124.40 L481.08 123.88 L480.32 123.25 L479.60 122.58 L478.88 121.91 L478.18 121.24 L477.48 120.57 L476.80 119.88 L476.15 119.17 L475.51 118.45 L474.88 117.72 L474.28 116.97 L473.70 116.21 L473.10 115.44 L472.54 114.66 L472.05 113.83 L471.63 112.96 L471.23 112.08 L470.83 111.20 L470.44 110.33 L470.05 109.44 L469.70 108.55 L469.37 107.64 L469.09 106.71 L468.89 105.76 L468.72 104.81 L468.54 103.86 L468.37 102.90 L468.19 101.94 L468.02 100.98Z M471.54 100.00 L471.62 99.15 L471.80 98.31 L471.98 97.47 L472.15 96.65 L472.32 95.83 L472.50 95.01 L472.71 94.19 L472.96 93.39 L473.26 92.61 L473.64 91.86 L474.08 91.15 L474.54 90.44 L474.98 89.75 L475.43 89.06 L475.87 88.38 L476.30 87.69 L476.72 87.00 L477.13 86.29 L477.55 85.58 L477.95 84.85 L478.33 84.09 L478.67 83.27 L479.04 82.43 L479.46 81.63 L479.93 80.85 L480.42 80.06 L480.92 79.24 L481.47 78.46 L482.13 77.80 L482.87 77.26 L483.63 76.74 L484.45 76.32 L485.37 76.13 L486.33 76.08 L487.28 76.03 L488.20 76.01 L489.11 75.98 L490.01 75.96 L490.89 75.96 L491.77 76.03 L492.65 76.15 L493.50 76.26 L494.34 76.30 L495.17 76.28 L496.00 76.24 L496.83 76.20 L497.67 76.16 L498.51 76.12 L499.36 76.09 L500.21 76.11 L501.05 76.24 L501.87 76.45 L502.68 76.69 L503.49 76.94 L504.31 77.18 L505.12 77.43 L505.92 77.72 L506.69 78.08 L507.40 78.56 L508.00 79.21 L508.55 79.91 L509.09 80.59 L509.61 81.26 L510.13 81.91 L510.63 82.56 L511.11 83.22 L511.56 83.88 L512.01 84.54 L512.45 85.19 L512.88 85.83 L513.32 86.47 L513.75 87.10 L514.18 87.74 L514.60 88.37 L515.01 89.02 L515.41 89.68 L515.82 90.33 L516.23 91.00 L516.64 91.66 L517.05 92.34 L517.47 93.02 L517.89 93.72 L518.30 94.44 L518.67 95.18 L518.96 95.95 L519.22 96.74 L519.49 97.53 L519.72 98.34 L519.89 99.17 L519.86 100.00 L519.55 100.82 L519.10 101.62 L518.67 102.38 L518.26 103.13 L517.85 103.85 L517.45 104.56 L517.03 105.24 L516.63 105.92 L516.26 106.58 L515.90 107.24 L515.55 107.90 L515.20 108.55 L514.85 109.19 L514.49 109.83 L514.13 110.47 L513.76 111.10 L513.40 111.73 L513.03 112.37 L512.66 113.01 L512.28 113.66 L511.91 114.32 L511.50 114.97 L511.06 115.60 L510.61 116.22 L510.14 116.85 L509.67 117.50 L509.19 118.16 L508.70 118.83 L508.16 119.46 L507.52 119.96 L506.82 120.35 L506.10 120.71 L505.38 121.07 L504.66 121.43 L503.92 121.77 L503.17 122.07 L502.39 122.29 L501.58 122.37 L500.75 122.34 L499.93 122.29 L499.13 122.25 L498.33 122.21 L497.55 122.15 L496.77 122.07 L496.00 121.98 L495.24 121.90 L494.47 121.82 L493.72 121.74 L492.96 121.66 L492.20 121.57 L491.43 121.48 L490.67 121.37 L489.91 121.24 L489.15 121.08 L488.39 120.91 L487.62 120.73 L486.85 120.56 L486.06 120.38 L485.26 120.20 L484.46 119.99 L483.69 119.70 L482.99 119.29 L482.34 118.80 L481.71 118.29 L481.09 117.77 L480.46 117.26 L479.84 116.74 L479.22 116.20 L478.61 115.66 L478.03 115.08 L477.51 114.45 L477.03 113.78 L476.55 113.12 L476.07 112.45 L475.62 111.76 L475.20 111.06 L474.78 110.35 L474.35 109.64 L473.93 108.92 L473.54 108.18 L473.23 107.40 L472.99 106.60 L472.76 105.79 L472.57 104.98 L472.38 104.16 L472.20 103.34 L472.01 102.52 L471.82 101.69 L471.63 100.85Z" fill="#28e88c" fill-rule="evenodd" opacity="1.00" filter="url(#b0_8)"/>
<path d="M469.62 109.60 L469.26 108.69 L468.92 107.76 L468.64 106.82 L468.43 105.86 L468.26 104.89 L468.09 103.92 L467.91 102.95 L467.74 101.98 L467.57 100.99 L467.46 100.00 L467.51 99.00 L467.62 98.02 L467.73 97.03 L467.84 96.04 L467.96 95.06 L468.09 94.07 L468.33 93.10 L468.68 92.17 L469.09 91.26 L469.52 90.36 L469.97 89.48 L470.42 88.61 L470.86 87.74 L471.30 86.87 L471.75 86.00 L476.32 88.64 L475.88 89.30 L475.44 89.97 L474.99 90.65 L474.54 91.33 L474.10 92.03 L473.73 92.76 L473.44 93.53 L473.20 94.32 L472.99 95.11 L472.81 95.91 L472.63 96.72 L472.45 97.52 L472.26 98.34 L472.08 99.16 L471.99 100.00 L472.09 100.84 L472.28 101.66 L472.47 102.47 L472.66 103.28 L472.84 104.08 L473.03 104.88 L473.22 105.68 L473.44 106.47 L473.67 107.25 L473.97 108.02Z" fill="#18b8ff" opacity="1.00" filter="url(#b0_8)"/>
<path d="M474.48 81.94 L474.86 80.96 L475.22 79.94 L475.66 78.93 L476.24 78.05 L476.92 77.26 L477.64 76.50 L478.36 75.72 L479.11 74.96 L479.95 74.31 L480.91 73.86 L481.91 73.51 L482.93 73.20 L483.97 72.98 L485.02 72.83 L486.07 72.72 L487.17 75.73 L486.21 75.78 L485.25 75.85 L484.31 76.04 L483.47 76.44 L482.69 76.95 L481.93 77.49 L481.26 78.14 L480.69 78.92 L480.17 79.73 L479.66 80.52 L479.17 81.31 L478.73 82.12 L478.36 82.97 L478.01 83.80 L477.63 84.59Z" fill="#60f040" opacity="1.00" filter="url(#b0_8)"/>
<path d="M493.11 72.50 L494.08 72.54 L495.04 72.56 L496.00 72.58 L496.96 72.59 L497.92 72.60 L498.88 72.62 L499.84 72.67 L500.80 72.80 L500.26 75.81 L499.40 75.78 L498.54 75.80 L497.69 75.83 L496.84 75.87 L496.00 75.91 L495.16 75.94 L494.32 75.96 L493.47 75.92Z" fill="#b0f040" opacity="1.00" filter="url(#b0_8)"/>
<path d="M513.06 79.67 L513.67 80.38 L514.24 81.11 L514.80 81.84 L515.36 82.57 L515.91 83.29 L516.46 84.01 L517.02 84.73 L517.57 85.45 L518.10 86.19 L518.58 86.96 L519.03 87.75 L519.49 88.55 L519.94 89.34 L520.40 90.14 L520.86 90.95 L521.33 91.77 L521.77 92.61 L522.18 93.47 L522.57 94.35 L522.92 95.25 L523.27 96.17 L523.62 97.10 L523.89 98.05 L523.96 99.02 L523.86 100.00 L523.63 100.96 L523.36 101.91 L523.09 102.85 L522.83 103.77 L522.57 104.69 L522.27 105.58 L521.90 106.46 L521.50 107.31 L521.12 108.16 L520.74 109.01 L520.37 109.84 L519.99 110.68 L519.62 111.52 L519.22 112.35 L518.80 113.17 L518.37 113.98 L517.94 114.80 L517.51 115.62 L517.07 116.46 L516.62 117.30 L516.16 118.15 L515.62 118.94 L514.98 119.66 L514.31 120.34 L513.64 121.02 L512.96 121.71 L512.28 122.41 L511.58 123.10 L510.83 123.73 L510.00 124.24 L507.63 120.15 L508.27 119.64 L508.83 119.02 L509.33 118.34 L509.82 117.68 L510.29 117.04 L510.77 116.40 L511.23 115.78 L511.68 115.14 L512.09 114.49 L512.47 113.82 L512.85 113.16 L513.22 112.51 L513.59 111.87 L513.96 111.22 L514.33 110.58 L514.70 109.94 L515.05 109.29 L515.40 108.64 L515.76 107.98 L516.11 107.32 L516.47 106.65 L516.84 105.98 L517.25 105.30 L517.66 104.60 L518.06 103.89 L518.45 103.16 L518.86 102.40 L519.28 101.63 L519.73 100.83 L520.04 100.00 L520.06 99.16 L519.90 98.33 L519.67 97.51 L519.40 96.71 L519.14 95.92 L518.84 95.15 L518.47 94.40 L518.06 93.67 L517.64 92.97 L517.22 92.28 L516.80 91.60 L516.39 90.92 L515.98 90.26 L515.57 89.59 L515.17 88.93 L514.76 88.28 L514.33 87.64 L513.89 87.00 L513.46 86.36 L513.02 85.72 L512.58 85.08 L512.13 84.42 L511.68 83.76 L511.22 83.10 L510.74 82.44Z" fill="#c8f040" opacity="1.00" filter="url(#b0_8)"/>
<path d="M514.31 82.31 L514.85 83.03 L515.38 83.73 L515.92 84.44 L516.45 85.14 L516.98 85.85 L517.49 86.57 L517.96 87.32 L518.40 88.09 L518.85 88.86 L519.29 89.63 L517.03 90.64 L516.62 89.95 L516.20 89.26 L515.79 88.58 L515.36 87.90 L514.92 87.24 L514.46 86.59 L514.00 85.94 L513.54 85.28 L513.08 84.62 L512.62 83.95Z" fill="#f0b030" opacity="1.00" filter="url(#b0_8)"/>
<path d="M519.90 108.70 L519.53 109.51 L519.16 110.31 L518.79 111.11 L518.40 111.91 L517.99 112.70 L517.57 113.48 L517.15 114.27 L516.73 115.06 L516.30 115.86 L515.87 116.67 L515.42 117.48 L514.90 118.25 L514.30 118.95 L513.67 119.62 L513.03 120.30 L510.90 117.76 L511.41 117.12 L511.92 116.48 L512.40 115.84 L512.83 115.15 L513.23 114.46 L513.62 113.76 L514.00 113.08 L514.38 112.40 L514.77 111.73 L515.15 111.05 L515.52 110.38 L515.88 109.70 L516.24 109.01 L516.60 108.32 L516.95 107.63Z" fill="#f08020" opacity="1.00" filter="url(#b0_8)"/>
<path d="M491.36 126.33 L490.42 126.24 L489.48 126.13 L488.55 125.97 L487.64 125.74 L486.73 125.47 L485.82 125.20 L484.90 124.92 L483.98 124.65 L483.04 124.37 L482.13 124.03 L484.25 120.36 L485.06 120.58 L485.87 120.77 L486.67 120.96 L487.46 121.14 L488.24 121.32 L489.01 121.51 L489.79 121.67 L490.56 121.81 L491.34 121.91 L492.12 122.01Z" fill="#c0f040" opacity="1.00" filter="url(#b0_8)"/>
<path d="M480.54 122.92 L479.82 122.26 L479.12 121.61 L478.42 120.95 L477.73 120.30 L477.05 119.62 L476.40 118.92 L475.77 118.22 L475.15 117.50 L474.55 116.76 L473.97 116.00 L473.39 115.25 L472.83 114.48 L472.34 113.66 L475.32 111.94 L475.78 112.64 L476.26 113.32 L476.75 113.99 L477.24 114.66 L477.77 115.30 L478.35 115.89 L478.97 116.45 L479.59 117.00 L480.21 117.54 L480.84 118.06 L481.48 118.59 L482.11 119.12 L482.76 119.62Z" fill="#a0f040" opacity="0.90" filter="url(#b0_8)"/>
</g>
<clipPath id="cp5"><circle cx="588.80" cy="101.00" r="42"/></clipPath>
<circle cx="588.80" cy="101.00" r="42.2" fill="#3b0849"/>
<g clip-path="url(#cp5)">
<path d="M614.75 93.91 Q618.86 101.98 613.92 109.58 L607.34 119.71 Q602.41 127.31 593.36 126.83 L581.30 126.20 Q572.25 125.73 568.14 117.66 L562.65 106.89 Q558.54 98.82 563.48 91.22 L570.06 81.09 Q574.99 73.49 584.04 73.97 L596.10 74.60 Q605.15 75.07 609.26 83.14Z" fill="none" stroke="#9028c8" stroke-width="19" opacity="0.8" filter="url(#b2_5)"/>
<path d="M614.75 93.91 Q618.86 101.98 613.92 109.58 L607.34 119.71 Q602.41 127.31 593.36 126.83 L581.30 126.20 Q572.25 125.73 568.14 117.66 L562.65 106.89 Q558.54 98.82 563.48 91.22 L570.06 81.09 Q574.99 73.49 584.04 73.97 L596.10 74.60 Q605.15 75.07 609.26 83.14Z" fill="none" stroke="#a850f2" stroke-width="12.2" filter="url(#b0_6)"/>
<path d="M614.75 93.91 Q618.86 101.98 613.92 109.58 L607.34 119.71 Q602.41 127.31 593.36 126.83 L581.30 126.20 Q572.25 125.73 568.14 117.66 L562.65 106.89 Q558.54 98.82 563.48 91.22 L570.06 81.09 Q574.99 73.49 584.04 73.97 L596.10 74.60 Q605.15 75.07 609.26 83.14Z" fill="none" stroke="#f6e48e" stroke-width="8.8" filter="url(#b0_6)"/>
<path d="M614.75 93.91 Q618.86 101.98 613.92 109.58 L607.34 119.71 Q602.41 127.31 593.36 126.83 L581.30 126.20 Q572.25 125.73 568.14 117.66 L562.65 106.89 Q558.54 98.82 563.48 91.22 L570.06 81.09 Q574.99 73.49 584.04 73.97 L596.10 74.60 Q605.15 75.07 609.26 83.14Z" fill="none" stroke="#f0a048" stroke-width="4.6" filter="url(#b0_6)"/>
<path d="M614.75 93.91 Q618.86 101.98 613.92 109.58 L607.34 119.71 Q602.41 127.31 593.36 126.83 L581.30 126.20 Q572.25 125.73 568.14 117.66 L562.65 106.89 Q558.54 98.82 563.48 91.22 L570.06 81.09 Q574.99 73.49 584.04 73.97 L596.10 74.60 Q605.15 75.07 609.26 83.14Z" fill="none" stroke="#d44c16" stroke-width="2.1" filter="url(#b0_6)"/>
</g>
<rect x="93.70" y="172.20" width="156.70" height="65.50" fill="#f4bdc5" filter="url(#b0_6)"/>
<rect x="93.70" y="227.72" width="156.70" height="9.97" fill="#f7d3d8" opacity="0.6"/>
<line x1="95.70" y1="173.86" x2="95.70" y2="237.70" stroke="#fadfe3" stroke-width="1.11" opacity="0.8"/>
<line x1="102.24" y1="173.86" x2="102.24" y2="237.70" stroke="#fadfe3" stroke-width="1.61" opacity="0.8"/>
<line x1="107.01" y1="173.86" x2="107.01" y2="237.70" stroke="#fadfe3" stroke-width="1.40" opacity="0.8"/>
<line x1="112.36" y1="173.86" x2="112.36" y2="237.70" stroke="#fadfe3" stroke-width="1.52" opacity="0.8"/>
<line x1="118.72" y1="173.86" x2="118.72" y2="237.70" stroke="#fadfe3" stroke-width="1.08" opacity="0.8"/>
<line x1="122.81" y1="173.86" x2="122.81" y2="237.70" stroke="#fadfe3" stroke-width="1.67" opacity="0.8"/>
<line x1="128.11" y1="173.86" x2="128.11" y2="237.70" stroke="#fadfe3" stroke-width="1.61" opacity="0.8"/>
<line x1="132.11" y1="173.86" x2="132.11" y2="237.70" stroke="#fadfe3" stroke-width="1.36" opacity="0.8"/>
<line x1="138.28" y1="173.86" x2="138.28" y2="237.70" stroke="#fadfe3" stroke-width="1.18" opacity="0.8"/>
<line x1="145.11" y1="173.86" x2="145.11" y2="237.70" stroke="#fadfe3" stroke-width="1.72" opacity="0.8"/>
<line x1="149.20" y1="173.86" x2="149.20" y2="237.70" stroke="#fadfe3" stroke-width="1.02" opacity="0.8"/>
<line x1="154.83" y1="173.86" x2="154.83" y2="237.70" stroke="#fadfe3" stroke-width="1.75" opacity="0.8"/>
<line x1="159.97" y1="173.86" x2="159.97" y2="237.70" stroke="#fadfe3" stroke-width="1.17" opacity="0.8"/>
<line x1="165.24" y1="173.86" x2="165.24" y2="237.70" stroke="#fadfe3" stroke-width="1.02" opacity="0.8"/>
<line x1="169.90" y1="173.86" x2="169.90" y2="237.70" stroke="#fadfe3" stroke-width="1.35" opacity="0.8"/>
<line x1="175.39" y1="173.86" x2="175.39" y2="237.70" stroke="#fadfe3" stroke-width="1.19" opacity="0.8"/>
<line x1="180.08" y1="173.86" x2="180.08" y2="237.70" stroke="#fadfe3" stroke-width="1.18" opacity="0.8"/>
<line x1="185.46" y1="173.86" x2="185.46" y2="237.70" stroke="#fadfe3" stroke-width="1.23" opacity="0.8"/>
<line x1="189.53" y1="173.86" x2="189.53" y2="237.70" stroke="#fadfe3" stroke-width="1.67" opacity="0.8"/>
<line x1="195.20" y1="173.86" x2="195.20" y2="237.70" stroke="#fadfe3" stroke-width="1.51" opacity="0.8"/>
<line x1="199.75" y1="173.86" x2="199.75" y2="237.70" stroke="#fadfe3" stroke-width="1.79" opacity="0.8"/>
<line x1="206.33" y1="173.86" x2="206.33" y2="237.70" stroke="#fadfe3" stroke-width="1.10" opacity="0.8"/>
<line x1="211.33" y1="173.86" x2="211.33" y2="237.70" stroke="#fadfe3" stroke-width="1.58" opacity="0.8"/>
<line x1="217.47" y1="173.86" x2="217.47" y2="237.70" stroke="#fadfe3" stroke-width="1.75" opacity="0.8"/>
<line x1="222.73" y1="173.86" x2="222.73" y2="237.70" stroke="#fadfe3" stroke-width="1.66" opacity="0.8"/>
<line x1="228.74" y1="173.86" x2="228.74" y2="237.70" stroke="#fadfe3" stroke-width="1.24" opacity="0.8"/>
<line x1="234.51" y1="173.86" x2="234.51" y2="237.70" stroke="#fadfe3" stroke-width="1.71" opacity="0.8"/>
<line x1="241.04" y1="173.86" x2="241.04" y2="237.70" stroke="#fadfe3" stroke-width="1.40" opacity="0.8"/>
<line x1="246.81" y1="173.86" x2="246.81" y2="237.70" stroke="#fadfe3" stroke-width="1.03" opacity="0.8"/>
<rect x="93.70" y="219.41" width="156.70" height="8.65" fill="#f27882" opacity="0.7" filter="url(#b1_0)"/>
<path d="M93.70 222.10 L95.66 221.64 L97.62 221.35 L99.58 221.80 L101.53 221.98 L103.49 221.95 L105.45 221.59 L107.41 221.67 L109.37 221.75 L111.33 222.07 L113.29 221.77 L115.25 221.61 L117.20 221.73 L119.16 221.18 L121.12 221.19 L123.08 221.98 L125.04 222.32 L127.00 221.85 L128.96 221.61 L130.92 221.34 L132.88 221.74 L134.83 222.32 L136.79 222.06 L138.75 221.79 L140.71 222.17 L142.67 221.42 L144.63 221.76 L146.59 222.28 L148.54 221.83 L150.50 221.69 L152.46 221.46 L154.42 221.80 L156.38 222.29 L158.34 221.15 L160.30 222.08 L162.26 222.12 L164.22 222.20 L166.17 222.03 L168.13 222.11 L170.09 221.76 L172.05 221.81 L174.01 221.65 L175.97 221.21 L177.93 222.18 L179.88 221.82 L181.84 221.38 L183.80 221.75 L185.76 221.72 L187.72 221.57 L189.68 221.56 L191.64 221.79 L193.60 221.89 L195.56 221.87 L197.51 221.69 L199.47 221.17 L201.43 221.42 L203.39 221.35 L205.35 221.84 L207.31 222.17 L209.27 222.10 L211.23 222.10 L213.18 222.12 L215.14 221.45 L217.10 222.15 L219.06 221.95 L221.02 221.24 L222.98 221.16 L224.94 221.16 L226.89 222.05 L228.85 221.44 L230.81 221.27 L232.77 221.89 L234.73 221.55 L236.69 221.22 L238.65 221.33 L240.61 221.77 L242.56 221.34 L244.52 221.47 L246.48 221.99 L248.44 221.69 L250.40 221.53 L250.40 226.00 L248.44 225.41 L246.48 226.31 L244.52 225.71 L242.56 225.95 L240.61 226.19 L238.65 225.54 L236.69 226.25 L234.73 226.14 L232.77 225.94 L230.81 225.39 L228.85 225.54 L226.89 226.07 L224.94 226.31 L222.98 225.52 L221.02 225.37 L219.06 225.15 L217.10 226.21 L215.14 226.18 L213.18 225.52 L211.23 225.73 L209.27 225.49 L207.31 225.93 L205.35 225.26 L203.39 225.36 L201.43 225.65 L199.47 225.94 L197.51 225.38 L195.56 225.55 L193.60 225.58 L191.64 225.74 L189.68 225.97 L187.72 226.30 L185.76 226.17 L183.80 225.34 L181.84 225.81 L179.88 226.28 L177.93 226.11 L175.97 225.18 L174.01 226.18 L172.05 225.14 L170.09 225.43 L168.13 225.63 L166.17 226.02 L164.22 226.26 L162.26 225.50 L160.30 226.16 L158.34 225.50 L156.38 226.18 L154.42 226.29 L152.46 225.49 L150.50 225.20 L148.54 225.89 L146.59 225.52 L144.63 225.82 L142.67 225.60 L140.71 225.91 L138.75 225.40 L136.79 225.75 L134.83 226.09 L132.88 226.30 L130.92 225.39 L128.96 225.78 L127.00 225.94 L125.04 225.98 L123.08 225.32 L121.12 225.99 L119.16 225.31 L117.20 225.15 L115.25 225.15 L113.29 226.11 L111.33 225.86 L109.37 225.38 L107.41 225.74 L105.45 226.21 L103.49 225.26 L101.53 225.36 L99.58 225.64 L97.62 225.59 L95.66 225.16 L93.70 225.70Z" fill="#de0c18" filter="url(#b0_6)"/>
<rect x="93.70" y="157.90" width="156.70" height="79.80" fill="none" stroke="#a4a8ae" stroke-width="1"/>
<line x1="91.70" y1="237.70" x2="93.70" y2="237.70" stroke="#a4a8ae" stroke-width="0.8"/>
<text x="91.2" y="240.8" font-size="8.60" text-anchor="end" font-weight="normal" fill="#2c2c2c" stroke="#2c2c2c" stroke-width="0.36">0.0</text>
<line x1="91.70" y1="224.40" x2="93.70" y2="224.40" stroke="#a4a8ae" stroke-width="0.8"/>
<text x="91.2" y="227.5" font-size="8.60" text-anchor="end" font-weight="normal" fill="#2c2c2c" stroke="#2c2c2c" stroke-width="0.36">0.2</text>
<line x1="91.70" y1="211.10" x2="93.70" y2="211.10" stroke="#a4a8ae" stroke-width="0.8"/>
<text x="91.2" y="214.2" font-size="8.60" text-anchor="end" font-weight="normal" fill="#2c2c2c" stroke="#2c2c2c" stroke-width="0.36">0.4</text>
<line x1="91.70" y1="197.80" x2="93.70" y2="197.80" stroke="#a4a8ae" stroke-width="0.8"/>
<text x="91.2" y="200.9" font-size="8.60" text-anchor="end" font-weight="normal" fill="#2c2c2c" stroke="#2c2c2c" stroke-width="0.36">0.6</text>
<line x1="91.70" y1="184.50" x2="93.70" y2="184.50" stroke="#a4a8ae" stroke-width="0.8"/>
<text x="91.2" y="187.6" font-size="8.60" text-anchor="end" font-weight="normal" fill="#2c2c2c" stroke="#2c2c2c" stroke-width="0.36">0.8</text>
<line x1="91.70" y1="171.20" x2="93.70" y2="171.20" stroke="#a4a8ae" stroke-width="0.8"/>
<text x="91.2" y="174.3" font-size="8.60" text-anchor="end" font-weight="normal" fill="#2c2c2c" stroke="#2c2c2c" stroke-width="0.36">1.0</text>
<line x1="91.70" y1="157.90" x2="93.70" y2="157.90" stroke="#a4a8ae" stroke-width="0.8"/>
<text x="91.2" y="161.0" font-size="8.60" text-anchor="end" font-weight="normal" fill="#2c2c2c" stroke="#2c2c2c" stroke-width="0.36">1.2</text>
<line x1="93.70" y1="237.70" x2="93.70" y2="239.70" stroke="#a4a8ae" stroke-width="0.8"/>
<text x="93.7" y="247.9" font-size="8.60" text-anchor="middle" font-weight="normal" fill="#2c2c2c" stroke="#2c2c2c" stroke-width="0.36">0</text>
<line x1="125.04" y1="237.70" x2="125.04" y2="239.70" stroke="#a4a8ae" stroke-width="0.8"/>
<text x="125.0" y="247.9" font-size="8.60" text-anchor="middle" font-weight="normal" fill="#2c2c2c" stroke="#2c2c2c" stroke-width="0.36">200</text>
<line x1="156.38" y1="237.70" x2="156.38" y2="239.70" stroke="#a4a8ae" stroke-width="0.8"/>
<text x="156.4" y="247.9" font-size="8.60" text-anchor="middle" font-weight="normal" fill="#2c2c2c" stroke="#2c2c2c" stroke-width="0.36">400</text>
<line x1="187.72" y1="237.70" x2="187.72" y2="239.70" stroke="#a4a8ae" stroke-width="0.8"/>
<text x="187.7" y="247.9" font-size="8.60" text-anchor="middle" font-weight="normal" fill="#2c2c2c" stroke="#2c2c2c" stroke-width="0.36">600</text>
<line x1="219.06" y1="237.70" x2="219.06" y2="239.70" stroke="#a4a8ae" stroke-width="0.8"/>
<text x="219.1" y="247.9" font-size="8.60" text-anchor="middle" font-weight="normal" fill="#2c2c2c" stroke="#2c2c2c" stroke-width="0.36">800</text>
<line x1="250.40" y1="237.70" x2="250.40" y2="239.70" stroke="#a4a8ae" stroke-width="0.8"/>
<text x="250.4" y="247.9" font-size="8.60" text-anchor="middle" font-weight="normal" fill="#2c2c2c" stroke="#2c2c2c" stroke-width="0.36">1000</text>
<text x="174.4" y="257.4" font-size="8.50" text-anchor="middle" font-weight="normal" fill="#2c2c2c" stroke="#2c2c2c" stroke-width="0.36" textLength="35.5" lengthAdjust="spacingAndGlyphs">Times (ns)</text>
<text x="246.9" y="168.4" font-size="8.40" text-anchor="end" font-weight="normal" fill="#222" stroke="#222" stroke-width="0.36">100 ns/div</text>
<rect x="280.40" y="172.20" width="155.80" height="65.50" fill="#f4bdc5" filter="url(#b0_6)"/>
<rect x="280.40" y="227.72" width="155.80" height="9.97" fill="#f7d3d8" opacity="0.6"/>
<line x1="282.40" y1="173.86" x2="282.40" y2="237.70" stroke="#fadfe3" stroke-width="1.76" opacity="0.8"/>
<line x1="289.24" y1="173.86" x2="289.24" y2="237.70" stroke="#fadfe3" stroke-width="1.05" opacity="0.8"/>
<line x1="293.50" y1="173.86" x2="293.50" y2="237.70" stroke="#fadfe3" stroke-width="1.67" opacity="0.8"/>
<line x1="299.71" y1="173.86" x2="299.71" y2="237.70" stroke="#fadfe3" stroke-width="1.54" opacity="0.8"/>
<line x1="304.63" y1="173.86" x2="304.63" y2="237.70" stroke="#fadfe3" stroke-width="1.48" opacity="0.8"/>
<line x1="310.45" y1="173.86" x2="310.45" y2="237.70" stroke="#fadfe3" stroke-width="1.46" opacity="0.8"/>
<line x1="314.93" y1="173.86" x2="314.93" y2="237.70" stroke="#fadfe3" stroke-width="1.34" opacity="0.8"/>
<line x1="320.11" y1="173.86" x2="320.11" y2="237.70" stroke="#fadfe3" stroke-width="1.58" opacity="0.8"/>
<line x1="327.09" y1="173.86" x2="327.09" y2="237.70" stroke="#fadfe3" stroke-width="1.76" opacity="0.8"/>
<line x1="332.72" y1="173.86" x2="332.72" y2="237.70" stroke="#fadfe3" stroke-width="1.36" opacity="0.8"/>
<line x1="337.53" y1="173.86" x2="337.53" y2="237.70" stroke="#fadfe3" stroke-width="1.03" opacity="0.8"/>
<line x1="341.61" y1="173.86" x2="341.61" y2="237.70" stroke="#fadfe3" stroke-width="1.37" opacity="0.8"/>
<line x1="346.57" y1="173.86" x2="346.57" y2="237.70" stroke="#fadfe3" stroke-width="1.30" opacity="0.8"/>
<line x1="353.24" y1="173.86" x2="353.24" y2="237.70" stroke="#fadfe3" stroke-width="1.42" opacity="0.8"/>
<line x1="358.92" y1="173.86" x2="358.92" y2="237.70" stroke="#fadfe3" stroke-width="1.19" opacity="0.8"/>
<line x1="362.99" y1="173.86" x2="362.99" y2="237.70" stroke="#fadfe3" stroke-width="1.26" opacity="0.8"/>
<line x1="367.40" y1="173.86" x2="367.40" y2="237.70" stroke="#fadfe3" stroke-width="1.41" opacity="0.8"/>
<line x1="374.40" y1="173.86" x2="374.40" y2="237.70" stroke="#fadfe3" stroke-width="1.54" opacity="0.8"/>
<line x1="378.95" y1="173.86" x2="378.95" y2="237.70" stroke="#fadfe3" stroke-width="1.71" opacity="0.8"/>
<line x1="385.34" y1="173.86" x2="385.34" y2="237.70" stroke="#fadfe3" stroke-width="1.59" opacity="0.8"/>
<line x1="392.06" y1="173.86" x2="392.06" y2="237.70" stroke="#fadfe3" stroke-width="1.61" opacity="0.8"/>
<line x1="398.43" y1="173.86" x2="398.43" y2="237.70" stroke="#fadfe3" stroke-width="1.28" opacity="0.8"/>
<line x1="405.37" y1="173.86" x2="405.37" y2="237.70" stroke="#fadfe3" stroke-width="1.77" opacity="0.8"/>
<line x1="409.85" y1="173.86" x2="409.85" y2="237.70" stroke="#fadfe3" stroke-width="1.60" opacity="0.8"/>
<line x1="416.00" y1="173.86" x2="416.00" y2="237.70" stroke="#fadfe3" stroke-width="1.37" opacity="0.8"/>
<line x1="421.59" y1="173.86" x2="421.59" y2="237.70" stroke="#fadfe3" stroke-width="1.39" opacity="0.8"/>
<line x1="428.36" y1="173.86" x2="428.36" y2="237.70" stroke="#fadfe3" stroke-width="1.40" opacity="0.8"/>
<line x1="434.86" y1="173.86" x2="434.86" y2="237.70" stroke="#fadfe3" stroke-width="1.28" opacity="0.8"/>
<rect x="280.40" y="219.41" width="155.80" height="8.65" fill="#f27882" opacity="0.7" filter="url(#b1_0)"/>
<path d="M280.40 222.22 L282.35 221.69 L284.29 221.82 L286.24 222.24 L288.19 222.01 L290.14 221.72 L292.08 221.41 L294.03 221.53 L295.98 221.98 L297.93 221.34 L299.88 222.23 L301.82 221.46 L303.77 222.23 L305.72 221.51 L307.66 222.29 L309.61 221.99 L311.56 221.75 L313.51 221.76 L315.45 221.92 L317.40 221.85 L319.35 221.51 L321.30 221.39 L323.25 221.75 L325.19 222.26 L327.14 221.89 L329.09 221.23 L331.03 222.12 L332.98 222.01 L334.93 222.23 L336.88 221.37 L338.82 222.03 L340.77 221.21 L342.72 221.92 L344.67 221.47 L346.62 221.41 L348.56 222.19 L350.51 221.27 L352.46 221.77 L354.40 222.16 L356.35 221.43 L358.30 221.39 L360.25 222.20 L362.19 221.65 L364.14 222.00 L366.09 221.18 L368.04 221.57 L369.99 221.35 L371.93 221.95 L373.88 221.24 L375.83 222.29 L377.77 221.17 L379.72 222.02 L381.67 221.17 L383.62 221.45 L385.56 222.12 L387.51 221.33 L389.46 221.36 L391.41 221.97 L393.36 221.60 L395.30 221.19 L397.25 222.33 L399.20 221.32 L401.14 221.18 L403.09 221.55 L405.04 221.88 L406.99 222.03 L408.94 221.28 L410.88 221.54 L412.83 221.18 L414.78 221.68 L416.72 222.06 L418.67 222.03 L420.62 222.22 L422.57 222.05 L424.51 222.17 L426.46 221.99 L428.41 221.71 L430.36 221.41 L432.31 221.93 L434.25 221.52 L436.20 221.26 L436.20 225.47 L434.25 225.22 L432.31 225.84 L430.36 225.38 L428.41 225.71 L426.46 225.62 L424.51 225.67 L422.57 225.15 L420.62 225.94 L418.67 226.14 L416.72 225.50 L414.78 225.25 L412.83 225.95 L410.88 225.15 L408.94 225.58 L406.99 226.31 L405.04 225.48 L403.09 225.86 L401.14 226.24 L399.20 225.75 L397.25 225.57 L395.30 226.09 L393.36 225.24 L391.41 225.35 L389.46 225.76 L387.51 225.63 L385.56 225.19 L383.62 225.83 L381.67 225.74 L379.72 225.65 L377.77 226.00 L375.83 226.29 L373.88 226.22 L371.93 225.38 L369.99 225.90 L368.04 225.50 L366.09 225.69 L364.14 225.75 L362.19 225.39 L360.25 225.41 L358.30 225.35 L356.35 225.25 L354.40 225.42 L352.46 226.00 L350.51 225.26 L348.56 225.62 L346.62 225.17 L344.67 225.14 L342.72 225.76 L340.77 225.64 L338.82 225.44 L336.88 225.98 L334.93 226.09 L332.98 225.88 L331.03 225.84 L329.09 225.43 L327.14 225.66 L325.19 225.41 L323.25 226.32 L321.30 226.25 L319.35 226.31 L317.40 225.74 L315.45 225.89 L313.51 225.25 L311.56 225.32 L309.61 225.17 L307.66 225.20 L305.72 225.30 L303.77 225.80 L301.82 225.15 L299.88 225.63 L297.93 225.86 L295.98 225.44 L294.03 226.28 L292.08 225.30 L290.14 225.75 L288.19 225.60 L286.24 225.83 L284.29 225.28 L282.35 226.18 L280.40 225.67Z" fill="#de0c18" filter="url(#b0_6)"/>
<rect x="280.40" y="157.90" width="155.80" height="79.80" fill="none" stroke="#a4a8ae" stroke-width="1"/>
<line x1="278.40" y1="237.70" x2="280.40" y2="237.70" stroke="#a4a8ae" stroke-width="0.8"/>
<text x="277.9" y="240.8" font-size="8.60" text-anchor="end" font-weight="normal" fill="#2c2c2c" stroke="#2c2c2c" stroke-width="0.36">0.0</text>
<line x1="278.40" y1="224.40" x2="280.40" y2="224.40" stroke="#a4a8ae" stroke-width="0.8"/>
<text x="277.9" y="227.5" font-size="8.60" text-anchor="end" font-weight="normal" fill="#2c2c2c" stroke="#2c2c2c" stroke-width="0.36">0.2</text>
<line x1="278.40" y1="211.10" x2="280.40" y2="211.10" stroke="#a4a8ae" stroke-width="0.8"/>
<text x="277.9" y="214.2" font-size="8.60" text-anchor="end" font-weight="normal" fill="#2c2c2c" stroke="#2c2c2c" stroke-width="0.36">0.4</text>
<line x1="278.40" y1="197.80" x2="280.40" y2="197.80" stroke="#a4a8ae" stroke-width="0.8"/>
<text x="277.9" y="200.9" font-size="8.60" text-anchor="end" font-weight="normal" fill="#2c2c2c" stroke="#2c2c2c" stroke-width="0.36">0.6</text>
<line x1="278.40" y1="184.50" x2="280.40" y2="184.50" stroke="#a4a8ae" stroke-width="0.8"/>
<text x="277.9" y="187.6" font-size="8.60" text-anchor="end" font-weight="normal" fill="#2c2c2c" stroke="#2c2c2c" stroke-width="0.36">0.8</text>
<line x1="278.40" y1="171.20" x2="280.40" y2="171.20" stroke="#a4a8ae" stroke-width="0.8"/>
<text x="277.9" y="174.3" font-size="8.60" text-anchor="end" font-weight="normal" fill="#2c2c2c" stroke="#2c2c2c" stroke-width="0.36">1.0</text>
<line x1="278.40" y1="157.90" x2="280.40" y2="157.90" stroke="#a4a8ae" stroke-width="0.8"/>
<text x="277.9" y="161.0" font-size="8.60" text-anchor="end" font-weight="normal" fill="#2c2c2c" stroke="#2c2c2c" stroke-width="0.36">1.2</text>
<line x1="280.40" y1="237.70" x2="280.40" y2="239.70" stroke="#a4a8ae" stroke-width="0.8"/>
<text x="280.4" y="247.9" font-size="8.60" text-anchor="middle" font-weight="normal" fill="#2c2c2c" stroke="#2c2c2c" stroke-width="0.36">0</text>
<line x1="311.56" y1="237.70" x2="311.56" y2="239.70" stroke="#a4a8ae" stroke-width="0.8"/>
<text x="311.6" y="247.9" font-size="8.60" text-anchor="middle" font-weight="normal" fill="#2c2c2c" stroke="#2c2c2c" stroke-width="0.36">200</text>
<line x1="342.72" y1="237.70" x2="342.72" y2="239.70" stroke="#a4a8ae" stroke-width="0.8"/>
<text x="342.7" y="247.9" font-size="8.60" text-anchor="middle" font-weight="normal" fill="#2c2c2c" stroke="#2c2c2c" stroke-width="0.36">400</text>
<line x1="373.88" y1="237.70" x2="373.88" y2="239.70" stroke="#a4a8ae" stroke-width="0.8"/>
<text x="373.9" y="247.9" font-size="8.60" text-anchor="middle" font-weight="normal" fill="#2c2c2c" stroke="#2c2c2c" stroke-width="0.36">600</text>
<line x1="405.04" y1="237.70" x2="405.04" y2="239.70" stroke="#a4a8ae" stroke-width="0.8"/>
<text x="405.0" y="247.9" font-size="8.60" text-anchor="middle" font-weight="normal" fill="#2c2c2c" stroke="#2c2c2c" stroke-width="0.36">800</text>
<line x1="436.20" y1="237.70" x2="436.20" y2="239.70" stroke="#a4a8ae" stroke-width="0.8"/>
<text x="436.2" y="247.9" font-size="8.60" text-anchor="middle" font-weight="normal" fill="#2c2c2c" stroke="#2c2c2c" stroke-width="0.36">1000</text>
<text x="360.6" y="257.4" font-size="8.50" text-anchor="middle" font-weight="normal" fill="#2c2c2c" stroke="#2c2c2c" stroke-width="0.36" textLength="35.5" lengthAdjust="spacingAndGlyphs">Times (ns)</text>
<text x="432.7" y="168.4" font-size="8.40" text-anchor="end" font-weight="normal" fill="#222" stroke="#222" stroke-width="0.36">100 ns/div</text>
<rect x="466.20" y="172.20" width="156.10" height="65.50" fill="#f4bdc5" filter="url(#b0_6)"/>
<rect x="466.20" y="227.72" width="156.10" height="9.97" fill="#f7d3d8" opacity="0.6"/>
<line x1="468.20" y1="173.86" x2="468.20" y2="237.70" stroke="#fadfe3" stroke-width="1.19" opacity="0.8"/>
<line x1="473.83" y1="173.86" x2="473.83" y2="237.70" stroke="#fadfe3" stroke-width="1.30" opacity="0.8"/>
<line x1="479.64" y1="173.86" x2="479.64" y2="237.70" stroke="#fadfe3" stroke-width="1.50" opacity="0.8"/>
<line x1="483.84" y1="173.86" x2="483.84" y2="237.70" stroke="#fadfe3" stroke-width="1.01" opacity="0.8"/>
<line x1="490.35" y1="173.86" x2="490.35" y2="237.70" stroke="#fadfe3" stroke-width="1.21" opacity="0.8"/>
<line x1="495.06" y1="173.86" x2="495.06" y2="237.70" stroke="#fadfe3" stroke-width="1.80" opacity="0.8"/>
<line x1="500.47" y1="173.86" x2="500.47" y2="237.70" stroke="#fadfe3" stroke-width="1.67" opacity="0.8"/>
<line x1="505.90" y1="173.86" x2="505.90" y2="237.70" stroke="#fadfe3" stroke-width="1.51" opacity="0.8"/>
<line x1="510.35" y1="173.86" x2="510.35" y2="237.70" stroke="#fadfe3" stroke-width="1.51" opacity="0.8"/>
<line x1="516.95" y1="173.86" x2="516.95" y2="237.70" stroke="#fadfe3" stroke-width="1.42" opacity="0.8"/>
<line x1="523.18" y1="173.86" x2="523.18" y2="237.70" stroke="#fadfe3" stroke-width="1.54" opacity="0.8"/>
<line x1="527.37" y1="173.86" x2="527.37" y2="237.70" stroke="#fadfe3" stroke-width="1.61" opacity="0.8"/>
<line x1="533.14" y1="173.86" x2="533.14" y2="237.70" stroke="#fadfe3" stroke-width="1.24" opacity="0.8"/>
<line x1="537.23" y1="173.86" x2="537.23" y2="237.70" stroke="#fadfe3" stroke-width="1.69" opacity="0.8"/>
<line x1="542.65" y1="173.86" x2="542.65" y2="237.70" stroke="#fadfe3" stroke-width="1.58" opacity="0.8"/>
<line x1="549.29" y1="173.86" x2="549.29" y2="237.70" stroke="#fadfe3" stroke-width="1.57" opacity="0.8"/>
<line x1="556.05" y1="173.86" x2="556.05" y2="237.70" stroke="#fadfe3" stroke-width="1.32" opacity="0.8"/>
<line x1="562.46" y1="173.86" x2="562.46" y2="237.70" stroke="#fadfe3" stroke-width="1.36" opacity="0.8"/>
<line x1="569.26" y1="173.86" x2="569.26" y2="237.70" stroke="#fadfe3" stroke-width="1.70" opacity="0.8"/>
<line x1="573.55" y1="173.86" x2="573.55" y2="237.70" stroke="#fadfe3" stroke-width="1.11" opacity="0.8"/>
<line x1="578.21" y1="173.86" x2="578.21" y2="237.70" stroke="#fadfe3" stroke-width="1.77" opacity="0.8"/>
<line x1="583.51" y1="173.86" x2="583.51" y2="237.70" stroke="#fadfe3" stroke-width="1.50" opacity="0.8"/>
<line x1="588.42" y1="173.86" x2="588.42" y2="237.70" stroke="#fadfe3" stroke-width="1.41" opacity="0.8"/>
<line x1="593.57" y1="173.86" x2="593.57" y2="237.70" stroke="#fadfe3" stroke-width="1.28" opacity="0.8"/>
<line x1="599.33" y1="173.86" x2="599.33" y2="237.70" stroke="#fadfe3" stroke-width="1.47" opacity="0.8"/>
<line x1="606.04" y1="173.86" x2="606.04" y2="237.70" stroke="#fadfe3" stroke-width="1.55" opacity="0.8"/>
<line x1="612.83" y1="173.86" x2="612.83" y2="237.70" stroke="#fadfe3" stroke-width="1.69" opacity="0.8"/>
<line x1="619.80" y1="173.86" x2="619.80" y2="237.70" stroke="#fadfe3" stroke-width="1.54" opacity="0.8"/>
<rect x="466.20" y="216.09" width="156.10" height="8.65" fill="#f27882" opacity="0.7" filter="url(#b1_0)"/>
<path d="M466.20 218.85 L468.15 218.97 L470.10 218.90 L472.05 218.50 L474.00 218.67 L475.96 218.07 L477.91 218.81 L479.86 218.50 L481.81 218.16 L483.76 217.89 L485.71 218.84 L487.66 219.00 L489.62 217.92 L491.57 218.78 L493.52 218.31 L495.47 218.00 L497.42 218.17 L499.37 218.74 L501.32 218.86 L503.27 217.87 L505.22 218.55 L507.18 217.87 L509.13 218.68 L511.08 218.21 L513.03 218.87 L514.98 218.99 L516.93 218.42 L518.88 219.01 L520.84 218.19 L522.79 217.91 L524.74 218.53 L526.69 217.85 L528.64 218.05 L530.59 218.30 L532.54 218.55 L534.49 218.00 L536.44 217.87 L538.40 218.86 L540.35 218.19 L542.30 218.97 L544.25 218.89 L546.20 218.27 L548.15 218.37 L550.10 218.44 L552.05 218.59 L554.01 218.53 L555.96 218.49 L557.91 218.56 L559.86 218.94 L561.81 218.42 L563.76 218.33 L565.71 218.68 L567.66 218.10 L569.62 218.18 L571.57 218.99 L573.52 218.44 L575.47 218.47 L577.42 217.83 L579.37 218.31 L581.32 218.51 L583.27 217.84 L585.23 218.55 L587.18 218.57 L589.13 217.89 L591.08 218.57 L593.03 218.37 L594.98 218.63 L596.93 218.24 L598.88 218.66 L600.84 218.70 L602.79 217.84 L604.74 217.89 L606.69 218.63 L608.64 218.97 L610.59 218.12 L612.54 218.36 L614.49 218.53 L616.45 218.20 L618.40 218.25 L620.35 218.19 L622.30 218.26 L622.30 222.93 L620.35 222.30 L618.40 222.43 L616.45 222.60 L614.49 222.16 L612.54 222.01 L610.59 222.70 L608.64 221.82 L606.69 222.50 L604.74 222.88 L602.79 222.88 L600.84 222.91 L598.88 222.64 L596.93 222.89 L594.98 221.86 L593.03 222.78 L591.08 222.15 L589.13 222.51 L587.18 221.89 L585.23 222.08 L583.27 222.21 L581.32 222.15 L579.37 222.43 L577.42 222.60 L575.47 222.81 L573.52 222.70 L571.57 222.07 L569.62 222.92 L567.66 222.95 L565.71 222.33 L563.76 222.99 L561.81 222.86 L559.86 222.94 L557.91 221.81 L555.96 221.99 L554.01 222.91 L552.05 222.30 L550.10 222.31 L548.15 222.31 L546.20 222.22 L544.25 222.13 L542.30 222.76 L540.35 222.16 L538.40 221.96 L536.44 222.22 L534.49 222.77 L532.54 222.58 L530.59 222.77 L528.64 222.14 L526.69 222.03 L524.74 222.81 L522.79 222.77 L520.84 222.03 L518.88 222.44 L516.93 221.95 L514.98 222.08 L513.03 222.35 L511.08 222.87 L509.13 222.59 L507.18 222.21 L505.22 222.01 L503.27 222.83 L501.32 222.33 L499.37 222.81 L497.42 222.21 L495.47 222.19 L493.52 221.93 L491.57 222.64 L489.62 222.33 L487.66 222.03 L485.71 222.09 L483.76 222.77 L481.81 222.07 L479.86 222.18 L477.91 222.69 L475.96 222.49 L474.00 221.84 L472.05 222.73 L470.10 222.26 L468.15 222.17 L466.20 222.52Z" fill="#de0c18" filter="url(#b0_6)"/>
<rect x="466.20" y="157.90" width="156.10" height="79.80" fill="none" stroke="#a4a8ae" stroke-width="1"/>
<line x1="464.20" y1="237.70" x2="466.20" y2="237.70" stroke="#a4a8ae" stroke-width="0.8"/>
<text x="463.7" y="240.8" font-size="8.60" text-anchor="end" font-weight="normal" fill="#2c2c2c" stroke="#2c2c2c" stroke-width="0.36">0.0</text>
<line x1="464.20" y1="224.40" x2="466.20" y2="224.40" stroke="#a4a8ae" stroke-width="0.8"/>
<text x="463.7" y="227.5" font-size="8.60" text-anchor="end" font-weight="normal" fill="#2c2c2c" stroke="#2c2c2c" stroke-width="0.36">0.2</text>
<line x1="464.20" y1="211.10" x2="466.20" y2="211.10" stroke="#a4a8ae" stroke-width="0.8"/>
<text x="463.7" y="214.2" font-size="8.60" text-anchor="end" font-weight="normal" fill="#2c2c2c" stroke="#2c2c2c" stroke-width="0.36">0.4</text>
<line x1="464.20" y1="197.80" x2="466.20" y2="197.80" stroke="#a4a8ae" stroke-width="0.8"/>
<text x="463.7" y="200.9" font-size="8.60" text-anchor="end" font-weight="normal" fill="#2c2c2c" stroke="#2c2c2c" stroke-width="0.36">0.6</text>
<line x1="464.20" y1="184.50" x2="466.20" y2="184.50" stroke="#a4a8ae" stroke-width="0.8"/>
<text x="463.7" y="187.6" font-size="8.60" text-anchor="end" font-weight="normal" fill="#2c2c2c" stroke="#2c2c2c" stroke-width="0.36">0.8</text>
<line x1="464.20" y1="171.20" x2="466.20" y2="171.20" stroke="#a4a8ae" stroke-width="0.8"/>
<text x="463.7" y="174.3" font-size="8.60" text-anchor="end" font-weight="normal" fill="#2c2c2c" stroke="#2c2c2c" stroke-width="0.36">1.0</text>
<line x1="464.20" y1="157.90" x2="466.20" y2="157.90" stroke="#a4a8ae" stroke-width="0.8"/>
<text x="463.7" y="161.0" font-size="8.60" text-anchor="end" font-weight="normal" fill="#2c2c2c" stroke="#2c2c2c" stroke-width="0.36">1.2</text>
<line x1="466.20" y1="237.70" x2="466.20" y2="239.70" stroke="#a4a8ae" stroke-width="0.8"/>
<text x="466.2" y="247.9" font-size="8.60" text-anchor="middle" font-weight="normal" fill="#2c2c2c" stroke="#2c2c2c" stroke-width="0.36">0</text>
<line x1="497.42" y1="237.70" x2="497.42" y2="239.70" stroke="#a4a8ae" stroke-width="0.8"/>
<text x="497.4" y="247.9" font-size="8.60" text-anchor="middle" font-weight="normal" fill="#2c2c2c" stroke="#2c2c2c" stroke-width="0.36">200</text>
<line x1="528.64" y1="237.70" x2="528.64" y2="239.70" stroke="#a4a8ae" stroke-width="0.8"/>
<text x="528.6" y="247.9" font-size="8.60" text-anchor="middle" font-weight="normal" fill="#2c2c2c" stroke="#2c2c2c" stroke-width="0.36">400</text>
<line x1="559.86" y1="237.70" x2="559.86" y2="239.70" stroke="#a4a8ae" stroke-width="0.8"/>
<text x="559.9" y="247.9" font-size="8.60" text-anchor="middle" font-weight="normal" fill="#2c2c2c" stroke="#2c2c2c" stroke-width="0.36">600</text>
<line x1="591.08" y1="237.70" x2="591.08" y2="239.70" stroke="#a4a8ae" stroke-width="0.8"/>
<text x="591.1" y="247.9" font-size="8.60" text-anchor="middle" font-weight="normal" fill="#2c2c2c" stroke="#2c2c2c" stroke-width="0.36">800</text>
<line x1="622.30" y1="237.70" x2="622.30" y2="239.70" stroke="#a4a8ae" stroke-width="0.8"/>
<text x="622.3" y="247.9" font-size="8.60" text-anchor="middle" font-weight="normal" fill="#2c2c2c" stroke="#2c2c2c" stroke-width="0.36">1000</text>
<text x="546.5" y="257.4" font-size="8.50" text-anchor="middle" font-weight="normal" fill="#2c2c2c" stroke="#2c2c2c" stroke-width="0.36" textLength="35.5" lengthAdjust="spacingAndGlyphs">Times (ns)</text>
<text x="618.8" y="168.4" font-size="8.40" text-anchor="end" font-weight="normal" fill="#222" stroke="#222" stroke-width="0.36">100 ns/div</text>
<rect x="105.50" y="271.50" width="139.90" height="111.30" fill="none" stroke="#a4a8ae" stroke-width="1"/>
<path d="M105.50 382.68 L106.08 382.68 L106.67 382.67 L107.25 382.66 L107.83 382.65 L108.41 382.64 L109.00 382.63 L109.58 382.62 L110.16 382.61 L110.75 382.59 L111.33 382.58 L111.91 382.56 L112.50 382.55 L113.08 382.53 L113.66 382.51 L114.24 382.49 L114.83 382.47 L115.41 382.45 L115.99 382.42 L116.58 382.39 L117.16 382.37 L117.74 382.34 L118.32 382.30 L118.91 382.27 L119.49 382.23 L120.07 382.19 L120.66 382.15 L121.24 382.10 L121.82 382.05 L122.40 381.99 L122.99 381.94 L123.57 381.87 L124.15 381.80 L124.74 381.73 L125.32 381.65 L125.90 381.56 L126.48 381.47 L127.07 381.37 L127.65 381.26 L128.23 381.14 L128.82 381.01 L129.40 380.87 L129.98 380.72 L130.57 380.55 L131.15 380.37 L131.73 380.18 L132.31 379.97 L132.90 379.74 L133.48 379.50 L134.06 379.23 L134.65 378.94 L135.23 378.62 L135.81 378.28 L136.39 377.91 L136.98 377.52 L137.56 377.08 L138.14 376.62 L138.73 376.12 L139.31 375.57 L139.89 374.99 L140.47 374.36 L141.06 373.69 L141.64 372.96 L142.22 372.18 L142.81 371.34 L143.39 370.45 L143.97 369.50 L144.56 368.48 L145.14 367.39 L145.72 366.23 L146.30 365.00 L146.89 363.70 L147.47 362.32 L148.05 360.86 L148.64 359.31 L149.22 357.69 L149.80 355.98 L150.38 354.19 L150.97 352.31 L151.55 350.34 L152.13 348.29 L152.72 346.15 L153.30 343.93 L153.88 341.63 L154.47 339.25 L155.05 336.80 L155.63 334.27 L156.21 331.68 L156.80 329.02 L157.38 326.31 L157.96 323.55 L158.55 320.75 L159.13 317.93 L159.71 315.07 L160.29 312.21 L160.88 309.34 L161.46 306.49 L162.04 303.66 L162.63 300.86 L163.21 298.11 L163.79 295.42 L164.37 292.81 L164.96 290.29 L165.54 287.88 L166.12 285.58 L166.71 283.41 L167.29 281.39 L167.87 279.53 L168.46 277.83 L169.04 276.32 L169.62 275.00 L170.20 273.88 L170.79 272.97 L171.37 272.27 L171.95 271.80 L172.54 271.54 L173.12 271.52 L173.70 271.74 L174.28 272.21 L174.87 272.93 L175.45 273.90 L176.03 275.10 L176.62 276.52 L177.20 278.15 L177.78 279.99 L178.36 282.02 L178.95 284.22 L179.53 286.58 L180.11 289.08 L180.70 291.70 L181.28 294.43 L181.86 297.25 L182.44 300.15 L183.03 303.11 L183.61 306.11 L184.19 309.14 L184.78 312.18 L185.36 315.21 L185.94 318.24 L186.53 321.23 L187.11 324.19 L187.69 327.11 L188.27 329.96 L188.86 332.76 L189.44 335.48 L190.02 338.12 L190.61 340.68 L191.19 343.15 L191.77 345.53 L192.35 347.82 L192.94 350.02 L193.52 352.11 L194.10 354.11 L194.69 356.02 L195.27 357.83 L195.85 359.54 L196.44 361.16 L197.02 362.69 L197.60 364.13 L198.18 365.49 L198.77 366.76 L199.35 367.95 L199.93 369.06 L200.52 370.10 L201.10 371.07 L201.68 371.98 L202.26 372.82 L202.85 373.60 L203.43 374.32 L204.01 374.99 L204.60 375.61 L205.18 376.18 L205.76 376.70 L206.34 377.19 L206.93 377.64 L207.51 378.05 L208.09 378.43 L208.68 378.78 L209.26 379.10 L209.84 379.39 L210.43 379.66 L211.01 379.91 L211.59 380.14 L212.17 380.35 L212.76 380.54 L213.34 380.71 L213.92 380.87 L214.51 381.02 L215.09 381.16 L215.67 381.28 L216.25 381.40 L216.84 381.50 L217.42 381.60 L218.00 381.69 L218.59 381.77 L219.17 381.84 L219.75 381.91 L220.33 381.98 L220.92 382.04 L221.50 382.09 L222.08 382.14 L222.67 382.19 L223.25 382.23 L223.83 382.27 L224.42 382.31 L225.00 382.34 L225.58 382.37 L226.16 382.40 L226.75 382.43 L227.33 382.46 L227.91 382.48 L228.50 382.50 L229.08 382.52 L229.66 382.54 L230.24 382.56 L230.83 382.57 L231.41 382.59 L231.99 382.60 L232.58 382.62 L233.16 382.63 L233.74 382.64 L234.32 382.65 L234.91 382.66 L235.49 382.67 L236.07 382.68 L236.66 382.69 L237.24 382.70 L237.82 382.70 L238.41 382.71 L238.99 382.72 L239.57 382.72 L240.15 382.73 L240.74 382.73 L241.32 382.74 L241.90 382.74 L242.49 382.74 L243.07 382.75 L243.65 382.75 L244.23 382.75 L244.82 382.76 L245.40 382.76" fill="none" stroke="#d48a93" stroke-width="1.3"/>
<line x1="103.00" y1="382.80" x2="105.50" y2="382.80" stroke="#a4a8ae" stroke-width="0.8"/>
<text x="102.3" y="386.1" font-size="11.50" text-anchor="end" font-weight="normal" fill="#2c2c2c" stroke="#2c2c2c" stroke-width="0.36">0.0</text>
<line x1="103.00" y1="360.54" x2="105.50" y2="360.54" stroke="#a4a8ae" stroke-width="0.8"/>
<text x="102.3" y="363.8" font-size="11.50" text-anchor="end" font-weight="normal" fill="#2c2c2c" stroke="#2c2c2c" stroke-width="0.36">0.2</text>
<line x1="103.00" y1="338.28" x2="105.50" y2="338.28" stroke="#a4a8ae" stroke-width="0.8"/>
<text x="102.3" y="341.6" font-size="11.50" text-anchor="end" font-weight="normal" fill="#2c2c2c" stroke="#2c2c2c" stroke-width="0.36">0.4</text>
<line x1="103.00" y1="316.02" x2="105.50" y2="316.02" stroke="#a4a8ae" stroke-width="0.8"/>
<text x="102.3" y="319.3" font-size="11.50" text-anchor="end" font-weight="normal" fill="#2c2c2c" stroke="#2c2c2c" stroke-width="0.36">0.6</text>
<line x1="103.00" y1="293.76" x2="105.50" y2="293.76" stroke="#a4a8ae" stroke-width="0.8"/>
<text x="102.3" y="297.1" font-size="11.50" text-anchor="end" font-weight="normal" fill="#2c2c2c" stroke="#2c2c2c" stroke-width="0.36">0.8</text>
<line x1="103.00" y1="271.50" x2="105.50" y2="271.50" stroke="#a4a8ae" stroke-width="0.8"/>
<text x="102.3" y="274.8" font-size="11.50" text-anchor="end" font-weight="normal" fill="#2c2c2c" stroke="#2c2c2c" stroke-width="0.36">1.0</text>
<line x1="105.50" y1="382.80" x2="105.50" y2="385.30" stroke="#a4a8ae" stroke-width="0.8"/>
<text x="105.5" y="396.6" font-size="11.50" text-anchor="middle" font-weight="normal" fill="#2c2c2c" stroke="#2c2c2c" stroke-width="0.36">1035</text>
<line x1="152.13" y1="382.80" x2="152.13" y2="385.30" stroke="#a4a8ae" stroke-width="0.8"/>
<text x="152.1" y="396.6" font-size="11.50" text-anchor="middle" font-weight="normal" fill="#2c2c2c" stroke="#2c2c2c" stroke-width="0.36">1040</text>
<line x1="198.77" y1="382.80" x2="198.77" y2="385.30" stroke="#a4a8ae" stroke-width="0.8"/>
<text x="198.8" y="396.6" font-size="11.50" text-anchor="middle" font-weight="normal" fill="#2c2c2c" stroke="#2c2c2c" stroke-width="0.36">1045</text>
<line x1="245.40" y1="382.80" x2="245.40" y2="385.30" stroke="#a4a8ae" stroke-width="0.8"/>
<text x="245.4" y="396.6" font-size="11.50" text-anchor="middle" font-weight="normal" fill="#2c2c2c" stroke="#2c2c2c" stroke-width="0.36">1050</text>
<text x="176.8" y="407.0" font-size="11.40" text-anchor="middle" font-weight="normal" fill="#2c2c2c" stroke="#2c2c2c" stroke-width="0.36" textLength="87.5" lengthAdjust="spacingAndGlyphs">Wavelength (nm)</text>
<path d="M144.40 327.90 L155.60 327.90 M152.20 324.70 L155.60 327.90 L152.20 331.10" fill="none" stroke="#2a2a2a" stroke-width="1.15"/>
<path d="M201.00 327.90 L189.80 327.90 M193.20 324.70 L189.80 327.90 L193.20 331.10" fill="none" stroke="#2a2a2a" stroke-width="1.15"/>
<text x="200.5" y="332.2" font-size="12.10" text-anchor="start" font-weight="normal" fill="#262626" stroke="#262626" stroke-width="0.36">3.0nm</text>
<rect x="295.00" y="271.80" width="137.30" height="110.70" fill="none" stroke="#a4a8ae" stroke-width="1"/>
<path d="M295.00 382.48 L295.57 382.48 L296.14 382.48 L296.72 382.48 L297.29 382.47 L297.86 382.47 L298.43 382.47 L299.00 382.47 L299.58 382.46 L300.15 382.46 L300.72 382.46 L301.29 382.46 L301.87 382.45 L302.44 382.45 L303.01 382.44 L303.58 382.44 L304.15 382.43 L304.73 382.43 L305.30 382.42 L305.87 382.42 L306.44 382.41 L307.01 382.40 L307.59 382.40 L308.16 382.39 L308.73 382.38 L309.30 382.37 L309.87 382.36 L310.45 382.34 L311.02 382.33 L311.59 382.32 L312.16 382.30 L312.73 382.29 L313.31 382.27 L313.88 382.25 L314.45 382.23 L315.02 382.21 L315.60 382.18 L316.17 382.16 L316.74 382.13 L317.31 382.10 L317.88 382.06 L318.46 382.03 L319.03 381.99 L319.60 381.94 L320.17 381.90 L320.74 381.84 L321.32 381.79 L321.89 381.72 L322.46 381.66 L323.03 381.58 L323.60 381.50 L324.18 381.41 L324.75 381.31 L325.32 381.20 L325.89 381.09 L326.46 380.96 L327.04 380.81 L327.61 380.65 L328.18 380.48 L328.75 380.29 L329.32 380.08 L329.90 379.84 L330.47 379.59 L331.04 379.30 L331.61 378.99 L332.19 378.65 L332.76 378.27 L333.33 377.85 L333.90 377.40 L334.47 376.90 L335.05 376.35 L335.62 375.75 L336.19 375.09 L336.76 374.37 L337.33 373.58 L337.91 372.73 L338.48 371.80 L339.05 370.79 L339.62 369.69 L340.19 368.50 L340.77 367.23 L341.34 365.85 L341.91 364.36 L342.48 362.78 L343.06 361.07 L343.63 359.26 L344.20 357.33 L344.77 355.27 L345.34 353.10 L345.92 350.81 L346.49 348.39 L347.06 345.85 L347.63 343.20 L348.20 340.43 L348.78 337.55 L349.35 334.56 L349.92 331.49 L350.49 328.32 L351.06 325.08 L351.64 321.78 L352.21 318.42 L352.78 315.04 L353.35 311.63 L353.92 308.23 L354.50 304.85 L355.07 301.52 L355.64 298.25 L356.21 295.06 L356.79 291.99 L357.36 289.06 L357.93 286.28 L358.50 283.69 L359.07 281.30 L359.65 279.14 L360.22 277.23 L360.79 275.58 L361.36 274.22 L361.93 273.15 L362.51 272.38 L363.08 271.93 L363.65 271.80 L364.22 271.96 L364.79 272.38 L365.37 273.07 L365.94 274.01 L366.51 275.20 L367.08 276.63 L367.65 278.29 L368.23 280.16 L368.80 282.23 L369.37 284.49 L369.94 286.91 L370.51 289.48 L371.09 292.18 L371.66 294.99 L372.23 297.89 L372.80 300.88 L373.38 303.92 L373.95 307.00 L374.52 310.10 L375.09 313.22 L375.66 316.33 L376.24 319.42 L376.81 322.47 L377.38 325.49 L377.95 328.45 L378.52 331.34 L379.10 334.17 L379.67 336.91 L380.24 339.57 L380.81 342.14 L381.38 344.61 L381.96 346.99 L382.53 349.27 L383.10 351.45 L383.67 353.52 L384.25 355.49 L384.82 357.36 L385.39 359.13 L385.96 360.81 L386.53 362.38 L387.11 363.87 L387.68 365.26 L388.25 366.56 L388.82 367.78 L389.39 368.92 L389.97 369.97 L390.54 370.96 L391.11 371.88 L391.68 372.72 L392.25 373.51 L392.83 374.24 L393.40 374.91 L393.97 375.53 L394.54 376.10 L395.11 376.62 L395.69 377.10 L396.26 377.55 L396.83 377.95 L397.40 378.33 L397.98 378.67 L398.55 378.98 L399.12 379.27 L399.69 379.53 L400.26 379.77 L400.84 379.99 L401.41 380.19 L401.98 380.38 L402.55 380.55 L403.12 380.70 L403.70 380.84 L404.27 380.97 L404.84 381.09 L405.41 381.20 L405.98 381.30 L406.56 381.39 L407.13 381.47 L407.70 381.55 L408.27 381.62 L408.84 381.69 L409.42 381.75 L409.99 381.80 L410.56 381.85 L411.13 381.90 L411.70 381.94 L412.28 381.98 L412.85 382.02 L413.42 382.06 L413.99 382.09 L414.57 382.12 L415.14 382.14 L415.71 382.17 L416.28 382.19 L416.85 382.21 L417.43 382.23 L418.00 382.25 L418.57 382.27 L419.14 382.29 L419.71 382.30 L420.29 382.31 L420.86 382.33 L421.43 382.34 L422.00 382.35 L422.57 382.36 L423.15 382.37 L423.72 382.38 L424.29 382.39 L424.86 382.40 L425.44 382.40 L426.01 382.41 L426.58 382.42 L427.15 382.42 L427.72 382.43 L428.30 382.43 L428.87 382.44 L429.44 382.44 L430.01 382.45 L430.58 382.45 L431.16 382.45 L431.73 382.46 L432.30 382.46" fill="none" stroke="#d48a93" stroke-width="1.3"/>
<line x1="292.50" y1="382.50" x2="295.00" y2="382.50" stroke="#a4a8ae" stroke-width="0.8"/>
<text x="291.8" y="385.8" font-size="11.50" text-anchor="end" font-weight="normal" fill="#2c2c2c" stroke="#2c2c2c" stroke-width="0.36">0.0</text>
<line x1="292.50" y1="360.36" x2="295.00" y2="360.36" stroke="#a4a8ae" stroke-width="0.8"/>
<text x="291.8" y="363.7" font-size="11.50" text-anchor="end" font-weight="normal" fill="#2c2c2c" stroke="#2c2c2c" stroke-width="0.36">0.2</text>
<line x1="292.50" y1="338.22" x2="295.00" y2="338.22" stroke="#a4a8ae" stroke-width="0.8"/>
<text x="291.8" y="341.5" font-size="11.50" text-anchor="end" font-weight="normal" fill="#2c2c2c" stroke="#2c2c2c" stroke-width="0.36">0.4</text>
<line x1="292.50" y1="316.08" x2="295.00" y2="316.08" stroke="#a4a8ae" stroke-width="0.8"/>
<text x="291.8" y="319.4" font-size="11.50" text-anchor="end" font-weight="normal" fill="#2c2c2c" stroke="#2c2c2c" stroke-width="0.36">0.6</text>
<line x1="292.50" y1="293.94" x2="295.00" y2="293.94" stroke="#a4a8ae" stroke-width="0.8"/>
<text x="291.8" y="297.2" font-size="11.50" text-anchor="end" font-weight="normal" fill="#2c2c2c" stroke="#2c2c2c" stroke-width="0.36">0.8</text>
<line x1="292.50" y1="271.80" x2="295.00" y2="271.80" stroke="#a4a8ae" stroke-width="0.8"/>
<text x="291.8" y="275.1" font-size="11.50" text-anchor="end" font-weight="normal" fill="#2c2c2c" stroke="#2c2c2c" stroke-width="0.36">1.0</text>
<line x1="295.00" y1="382.50" x2="295.00" y2="385.00" stroke="#a4a8ae" stroke-width="0.8"/>
<text x="295.0" y="396.6" font-size="11.50" text-anchor="middle" font-weight="normal" fill="#2c2c2c" stroke="#2c2c2c" stroke-width="0.36">1035</text>
<line x1="340.77" y1="382.50" x2="340.77" y2="385.00" stroke="#a4a8ae" stroke-width="0.8"/>
<text x="340.8" y="396.6" font-size="11.50" text-anchor="middle" font-weight="normal" fill="#2c2c2c" stroke="#2c2c2c" stroke-width="0.36">1040</text>
<line x1="386.53" y1="382.50" x2="386.53" y2="385.00" stroke="#a4a8ae" stroke-width="0.8"/>
<text x="386.5" y="396.6" font-size="11.50" text-anchor="middle" font-weight="normal" fill="#2c2c2c" stroke="#2c2c2c" stroke-width="0.36">1045</text>
<line x1="432.30" y1="382.50" x2="432.30" y2="385.00" stroke="#a4a8ae" stroke-width="0.8"/>
<text x="432.3" y="396.6" font-size="11.50" text-anchor="middle" font-weight="normal" fill="#2c2c2c" stroke="#2c2c2c" stroke-width="0.36">1050</text>
<text x="367.5" y="407.0" font-size="11.40" text-anchor="middle" font-weight="normal" fill="#2c2c2c" stroke="#2c2c2c" stroke-width="0.36" textLength="87.5" lengthAdjust="spacingAndGlyphs">Wavelength (nm)</text>
<path d="M337.80 328.20 L349.60 328.20 M346.20 325.00 L349.60 328.20 L346.20 331.40" fill="none" stroke="#2a2a2a" stroke-width="1.15"/>
<path d="M391.00 328.20 L380.40 328.20 M383.80 325.00 L380.40 328.20 L383.80 331.40" fill="none" stroke="#2a2a2a" stroke-width="1.15"/>
<text x="390.5" y="332.5" font-size="12.10" text-anchor="start" font-weight="normal" fill="#262626" stroke="#262626" stroke-width="0.36">2.7nm</text>
<rect x="481.50" y="273.00" width="137.60" height="109.50" fill="none" stroke="#a4a8ae" stroke-width="1"/>
<path d="M481.50 382.48 L482.07 382.47 L482.65 382.47 L483.22 382.47 L483.79 382.47 L484.37 382.46 L484.94 382.46 L485.51 382.46 L486.09 382.45 L486.66 382.45 L487.23 382.45 L487.81 382.44 L488.38 382.44 L488.95 382.43 L489.53 382.43 L490.10 382.42 L490.67 382.41 L491.25 382.41 L491.82 382.40 L492.39 382.39 L492.97 382.38 L493.54 382.37 L494.11 382.36 L494.69 382.35 L495.26 382.34 L495.83 382.33 L496.41 382.31 L496.98 382.30 L497.55 382.28 L498.13 382.26 L498.70 382.24 L499.27 382.22 L499.85 382.20 L500.42 382.17 L500.99 382.14 L501.57 382.11 L502.14 382.08 L502.71 382.04 L503.29 382.01 L503.86 381.96 L504.43 381.92 L505.01 381.87 L505.58 381.81 L506.15 381.75 L506.73 381.68 L507.30 381.61 L507.87 381.53 L508.45 381.44 L509.02 381.35 L509.59 381.24 L510.17 381.13 L510.74 381.00 L511.31 380.86 L511.89 380.70 L512.46 380.53 L513.03 380.34 L513.61 380.13 L514.18 379.90 L514.75 379.65 L515.33 379.37 L515.90 379.06 L516.47 378.72 L517.05 378.35 L517.62 377.94 L518.19 377.49 L518.77 376.99 L519.34 376.44 L519.91 375.84 L520.49 375.19 L521.06 374.47 L521.63 373.69 L522.21 372.83 L522.78 371.90 L523.35 370.89 L523.93 369.79 L524.50 368.60 L525.07 367.32 L525.65 365.94 L526.22 364.45 L526.79 362.86 L527.37 361.15 L527.94 359.32 L528.51 357.38 L529.09 355.31 L529.66 353.13 L530.23 350.82 L530.81 348.38 L531.38 345.83 L531.95 343.16 L532.53 340.37 L533.10 337.47 L533.67 334.47 L534.25 331.38 L534.82 328.20 L535.39 324.95 L535.97 321.63 L536.54 318.27 L537.11 314.89 L537.69 311.48 L538.26 308.09 L538.83 304.72 L539.41 301.41 L539.98 298.17 L540.55 295.02 L541.13 291.99 L541.70 289.11 L542.27 286.40 L542.85 283.88 L543.42 281.58 L543.99 279.51 L544.57 277.70 L545.14 276.16 L545.71 274.92 L546.29 273.98 L546.86 273.35 L547.43 273.03 L548.01 273.05 L548.58 273.39 L549.15 274.05 L549.73 275.03 L550.30 276.31 L550.87 277.89 L551.45 279.75 L552.02 281.86 L552.59 284.21 L553.17 286.78 L553.74 289.54 L554.31 292.47 L554.89 295.54 L555.46 298.73 L556.03 302.01 L556.61 305.37 L557.18 308.77 L557.75 312.19 L558.33 315.62 L558.90 319.03 L559.47 322.41 L560.05 325.73 L560.62 328.99 L561.19 332.18 L561.77 335.27 L562.34 338.27 L562.91 341.16 L563.49 343.93 L564.06 346.59 L564.63 349.13 L565.21 351.55 L565.78 353.83 L566.35 356.00 L566.93 358.04 L567.50 359.96 L568.07 361.76 L568.65 363.44 L569.22 365.01 L569.79 366.47 L570.37 367.82 L570.94 369.08 L571.51 370.24 L572.09 371.31 L572.66 372.29 L573.23 373.20 L573.81 374.03 L574.38 374.79 L574.95 375.49 L575.53 376.12 L576.10 376.70 L576.67 377.23 L577.25 377.71 L577.82 378.14 L578.39 378.54 L578.97 378.90 L579.54 379.22 L580.11 379.52 L580.69 379.79 L581.26 380.03 L581.83 380.25 L582.41 380.45 L582.98 380.63 L583.55 380.79 L584.13 380.94 L584.70 381.07 L585.27 381.20 L585.85 381.31 L586.42 381.41 L586.99 381.50 L587.57 381.58 L588.14 381.66 L588.71 381.73 L589.29 381.79 L589.86 381.85 L590.43 381.90 L591.01 381.95 L591.58 381.99 L592.15 382.03 L592.73 382.07 L593.30 382.10 L593.87 382.13 L594.45 382.16 L595.02 382.19 L595.59 382.21 L596.17 382.24 L596.74 382.26 L597.31 382.28 L597.89 382.29 L598.46 382.31 L599.03 382.32 L599.61 382.34 L600.18 382.35 L600.75 382.36 L601.33 382.37 L601.90 382.38 L602.47 382.39 L603.05 382.40 L603.62 382.41 L604.19 382.41 L604.77 382.42 L605.34 382.43 L605.91 382.43 L606.49 382.44 L607.06 382.44 L607.63 382.45 L608.21 382.45 L608.78 382.45 L609.35 382.46 L609.93 382.46 L610.50 382.46 L611.07 382.47 L611.65 382.47 L612.22 382.47 L612.79 382.47 L613.37 382.48 L613.94 382.48 L614.51 382.48 L615.09 382.48 L615.66 382.48 L616.23 382.48 L616.81 382.49 L617.38 382.49 L617.95 382.49 L618.53 382.49 L619.10 382.49" fill="none" stroke="#d48a93" stroke-width="1.3"/>
<line x1="479.00" y1="382.50" x2="481.50" y2="382.50" stroke="#a4a8ae" stroke-width="0.8"/>
<text x="478.3" y="385.8" font-size="11.50" text-anchor="end" font-weight="normal" fill="#2c2c2c" stroke="#2c2c2c" stroke-width="0.36">0.0</text>
<line x1="479.00" y1="360.60" x2="481.50" y2="360.60" stroke="#a4a8ae" stroke-width="0.8"/>
<text x="478.3" y="363.9" font-size="11.50" text-anchor="end" font-weight="normal" fill="#2c2c2c" stroke="#2c2c2c" stroke-width="0.36">0.2</text>
<line x1="479.00" y1="338.70" x2="481.50" y2="338.70" stroke="#a4a8ae" stroke-width="0.8"/>
<text x="478.3" y="342.0" font-size="11.50" text-anchor="end" font-weight="normal" fill="#2c2c2c" stroke="#2c2c2c" stroke-width="0.36">0.4</text>
<line x1="479.00" y1="316.80" x2="481.50" y2="316.80" stroke="#a4a8ae" stroke-width="0.8"/>
<text x="478.3" y="320.1" font-size="11.50" text-anchor="end" font-weight="normal" fill="#2c2c2c" stroke="#2c2c2c" stroke-width="0.36">0.6</text>
<line x1="479.00" y1="294.90" x2="481.50" y2="294.90" stroke="#a4a8ae" stroke-width="0.8"/>
<text x="478.3" y="298.2" font-size="11.50" text-anchor="end" font-weight="normal" fill="#2c2c2c" stroke="#2c2c2c" stroke-width="0.36">0.8</text>
<line x1="479.00" y1="273.00" x2="481.50" y2="273.00" stroke="#a4a8ae" stroke-width="0.8"/>
<text x="478.3" y="276.3" font-size="11.50" text-anchor="end" font-weight="normal" fill="#2c2c2c" stroke="#2c2c2c" stroke-width="0.36">1.0</text>
<line x1="481.50" y1="382.50" x2="481.50" y2="385.00" stroke="#a4a8ae" stroke-width="0.8"/>
<text x="481.5" y="396.6" font-size="11.50" text-anchor="middle" font-weight="normal" fill="#2c2c2c" stroke="#2c2c2c" stroke-width="0.36">1035</text>
<line x1="527.37" y1="382.50" x2="527.37" y2="385.00" stroke="#a4a8ae" stroke-width="0.8"/>
<text x="527.4" y="396.6" font-size="11.50" text-anchor="middle" font-weight="normal" fill="#2c2c2c" stroke="#2c2c2c" stroke-width="0.36">1040</text>
<line x1="573.23" y1="382.50" x2="573.23" y2="385.00" stroke="#a4a8ae" stroke-width="0.8"/>
<text x="573.2" y="396.6" font-size="11.50" text-anchor="middle" font-weight="normal" fill="#2c2c2c" stroke="#2c2c2c" stroke-width="0.36">1045</text>
<line x1="619.10" y1="382.50" x2="619.10" y2="385.00" stroke="#a4a8ae" stroke-width="0.8"/>
<text x="619.1" y="396.6" font-size="11.50" text-anchor="middle" font-weight="normal" fill="#2c2c2c" stroke="#2c2c2c" stroke-width="0.36">1050</text>
<text x="548.5" y="407.0" font-size="11.40" text-anchor="middle" font-weight="normal" fill="#2c2c2c" stroke="#2c2c2c" stroke-width="0.36" textLength="87.5" lengthAdjust="spacingAndGlyphs">Wavelength (nm)</text>
<path d="M522.50 329.40 L533.80 329.40 M530.40 326.20 L533.80 329.40 L530.40 332.60" fill="none" stroke="#2a2a2a" stroke-width="1.15"/>
<path d="M572.10 329.40 L561.50 329.40 M564.90 326.20 L561.50 329.40 L564.90 332.60" fill="none" stroke="#2a2a2a" stroke-width="1.15"/>
<text x="574.8" y="333.7" font-size="12.10" text-anchor="start" font-weight="normal" fill="#262626" stroke="#262626" stroke-width="0.36">2.5nm</text>
<rect x="106.80" y="420.10" width="137.20" height="110.40" fill="none" stroke="#a4a8ae" stroke-width="1"/>
<path d="M106.80 530.44 L107.37 530.43 L107.94 530.43 L108.52 530.42 L109.09 530.42 L109.66 530.41 L110.23 530.41 L110.80 530.40 L111.37 530.39 L111.94 530.39 L112.52 530.38 L113.09 530.37 L113.66 530.36 L114.23 530.35 L114.80 530.34 L115.38 530.33 L115.95 530.31 L116.52 530.30 L117.09 530.29 L117.66 530.27 L118.23 530.26 L118.80 530.24 L119.38 530.22 L119.95 530.20 L120.52 530.18 L121.09 530.15 L121.66 530.13 L122.23 530.10 L122.81 530.07 L123.38 530.04 L123.95 530.01 L124.52 529.97 L125.09 529.93 L125.66 529.89 L126.24 529.84 L126.81 529.79 L127.38 529.74 L127.95 529.68 L128.52 529.62 L129.09 529.55 L129.67 529.48 L130.24 529.40 L130.81 529.32 L131.38 529.23 L131.95 529.13 L132.53 529.02 L133.10 528.90 L133.67 528.77 L134.24 528.64 L134.81 528.48 L135.38 528.32 L135.95 528.14 L136.53 527.95 L137.10 527.74 L137.67 527.52 L138.24 527.27 L138.81 527.00 L139.38 526.71 L139.96 526.39 L140.53 526.05 L141.10 525.67 L141.67 525.27 L142.24 524.83 L142.81 524.36 L143.39 523.84 L143.96 523.29 L144.53 522.69 L145.10 522.04 L145.67 521.34 L146.25 520.59 L146.82 519.78 L147.39 518.91 L147.96 517.97 L148.53 516.97 L149.10 515.90 L149.68 514.76 L150.25 513.54 L150.82 512.24 L151.39 510.86 L151.96 509.39 L152.53 507.84 L153.10 506.20 L153.68 504.47 L154.25 502.64 L154.82 500.72 L155.39 498.71 L155.96 496.60 L156.53 494.40 L157.11 492.11 L157.68 489.73 L158.25 487.26 L158.82 484.71 L159.39 482.07 L159.96 479.37 L160.54 476.60 L161.11 473.77 L161.68 470.88 L162.25 467.96 L162.82 465.00 L163.39 462.02 L163.97 459.03 L164.54 456.04 L165.11 453.07 L165.68 450.13 L166.25 447.24 L166.82 444.42 L167.40 441.67 L167.97 439.02 L168.54 436.48 L169.11 434.07 L169.68 431.80 L170.25 429.70 L170.83 427.77 L171.40 426.03 L171.97 424.50 L172.54 423.18 L173.11 422.08 L173.69 421.22 L174.26 420.60 L174.83 420.23 L175.40 420.10 L175.97 420.23 L176.54 420.60 L177.12 421.22 L177.69 422.08 L178.26 423.18 L178.83 424.50 L179.40 426.03 L179.97 427.77 L180.54 429.70 L181.12 431.80 L181.69 434.07 L182.26 436.48 L182.83 439.02 L183.40 441.67 L183.97 444.42 L184.55 447.24 L185.12 450.13 L185.69 453.07 L186.26 456.04 L186.83 459.03 L187.40 462.02 L187.98 465.00 L188.55 467.96 L189.12 470.88 L189.69 473.77 L190.26 476.60 L190.83 479.37 L191.41 482.07 L191.98 484.71 L192.55 487.26 L193.12 489.73 L193.69 492.11 L194.26 494.40 L194.84 496.60 L195.41 498.71 L195.98 500.72 L196.55 502.64 L197.12 504.47 L197.69 506.20 L198.27 507.84 L198.84 509.39 L199.41 510.86 L199.98 512.24 L200.55 513.54 L201.12 514.76 L201.70 515.90 L202.27 516.97 L202.84 517.97 L203.41 518.91 L203.98 519.78 L204.55 520.59 L205.13 521.34 L205.70 522.04 L206.27 522.69 L206.84 523.29 L207.41 523.84 L207.98 524.36 L208.56 524.83 L209.13 525.27 L209.70 525.67 L210.27 526.05 L210.84 526.39 L211.41 526.71 L211.99 527.00 L212.56 527.27 L213.13 527.52 L213.70 527.74 L214.27 527.95 L214.84 528.14 L215.42 528.32 L215.99 528.48 L216.56 528.64 L217.13 528.77 L217.70 528.90 L218.27 529.02 L218.85 529.13 L219.42 529.23 L219.99 529.32 L220.56 529.40 L221.13 529.48 L221.70 529.55 L222.28 529.62 L222.85 529.68 L223.42 529.74 L223.99 529.79 L224.56 529.84 L225.13 529.89 L225.71 529.93 L226.28 529.97 L226.85 530.01 L227.42 530.04 L227.99 530.07 L228.56 530.10 L229.14 530.13 L229.71 530.15 L230.28 530.18 L230.85 530.20 L231.42 530.22 L232.00 530.24 L232.57 530.26 L233.14 530.27 L233.71 530.29 L234.28 530.30 L234.85 530.31 L235.42 530.33 L236.00 530.34 L236.57 530.35 L237.14 530.36 L237.71 530.37 L238.28 530.38 L238.85 530.39 L239.43 530.39 L240.00 530.40 L240.57 530.41 L241.14 530.41 L241.71 530.42 L242.28 530.42 L242.86 530.43 L243.43 530.43 L244.00 530.44" fill="none" stroke="#c98890" stroke-width="1.3"/>
<path d="M106.80 530.44 L107.37 530.43 L107.94 530.43 L108.52 530.42 L109.09 530.42 L109.66 530.41 L110.23 530.41 L110.80 530.40 L111.37 530.39 L111.94 530.39 L112.52 530.38 L113.09 530.37 L113.66 530.36 L114.23 530.35 L114.80 530.34 L115.38 530.33 L115.95 530.31 L116.52 530.30 L117.09 530.29 L117.66 530.27 L118.23 530.26 L118.80 530.24 L119.38 530.22 L119.95 530.20 L120.52 530.18 L121.09 530.15 L121.66 530.13 L122.23 530.10 L122.81 530.07 L123.38 530.04 L123.95 530.01 L124.52 529.97 L125.09 529.93 L125.66 529.89 L126.24 529.84 L126.81 529.79 L127.38 529.74 L127.95 529.68 L128.52 529.62 L129.09 529.55 L129.67 529.48 L130.24 529.40 L130.81 529.32 L131.38 529.23 L131.95 529.13 L132.53 529.02 L133.10 528.90 L133.67 528.77 L134.24 528.64 L134.81 528.48 L135.38 528.32 L135.95 528.14 L136.53 527.95 L137.10 527.74 L137.67 527.52 L138.24 527.27 L138.81 527.00 L139.38 526.71 L139.96 526.39 L140.53 526.05 L141.10 525.67 L141.67 525.27 L142.24 524.83 L142.81 524.36 L143.39 523.84 L143.96 523.29 L144.53 522.69 L145.10 522.04 L145.67 521.34 L146.25 520.59 L146.82 519.78 L147.39 518.91 L147.96 517.97 L148.53 516.97 L149.10 515.90 L149.68 514.76 L150.25 513.54 L150.82 512.24 L151.39 510.86 L151.96 509.39 L152.53 507.84 L153.10 506.20 L153.68 504.47 L154.25 502.64 L154.82 500.72 L155.39 498.71 L155.96 496.60 L156.53 494.40 L157.11 492.11 L157.68 489.73 L158.25 487.26 L158.82 484.71 L159.39 482.07 L159.96 479.37 L160.54 476.60 L161.11 473.77 L161.68 470.88 L162.25 467.96 L162.82 465.00 L163.39 462.02 L163.97 459.03 L164.54 456.04 L165.11 453.07 L165.68 450.13 L166.25 447.24 L166.82 444.42 L167.40 441.67 L167.97 439.02 L168.54 436.48 L169.11 434.07 L169.68 431.80 L170.25 429.70 L170.83 427.77 L171.40 426.03 L171.97 424.50 L172.54 423.18 L173.11 422.08 L173.69 421.22 L174.26 420.60 L174.83 420.23 L175.40 420.10 L175.97 420.23 L176.54 420.60 L177.12 421.22 L177.69 422.08 L178.26 423.18 L178.83 424.50 L179.40 426.03 L179.97 427.77 L180.54 429.70 L181.12 431.80 L181.69 434.07 L182.26 436.48 L182.83 439.02 L183.40 441.67 L183.97 444.42 L184.55 447.24 L185.12 450.13 L185.69 453.07 L186.26 456.04 L186.83 459.03 L187.40 462.02 L187.98 465.00 L188.55 467.96 L189.12 470.88 L189.69 473.77 L190.26 476.60 L190.83 479.37 L191.41 482.07 L191.98 484.71 L192.55 487.26 L193.12 489.73 L193.69 492.11 L194.26 494.40 L194.84 496.60 L195.41 498.71 L195.98 500.72 L196.55 502.64 L197.12 504.47 L197.69 506.20 L198.27 507.84 L198.84 509.39 L199.41 510.86 L199.98 512.24 L200.55 513.54 L201.12 514.76 L201.70 515.90 L202.27 516.97 L202.84 517.97 L203.41 518.91 L203.98 519.78 L204.55 520.59 L205.13 521.34 L205.70 522.04 L206.27 522.69 L206.84 523.29 L207.41 523.84 L207.98 524.36 L208.56 524.83 L209.13 525.27 L209.70 525.67 L210.27 526.05 L210.84 526.39 L211.41 526.71 L211.99 527.00 L212.56 527.27 L213.13 527.52 L213.70 527.74 L214.27 527.95 L214.84 528.14 L215.42 528.32 L215.99 528.48 L216.56 528.64 L217.13 528.77 L217.70 528.90 L218.27 529.02 L218.85 529.13 L219.42 529.23 L219.99 529.32 L220.56 529.40 L221.13 529.48 L221.70 529.55 L222.28 529.62 L222.85 529.68 L223.42 529.74 L223.99 529.79 L224.56 529.84 L225.13 529.89 L225.71 529.93 L226.28 529.97 L226.85 530.01 L227.42 530.04 L227.99 530.07 L228.56 530.10 L229.14 530.13 L229.71 530.15 L230.28 530.18 L230.85 530.20 L231.42 530.22 L232.00 530.24 L232.57 530.26 L233.14 530.27 L233.71 530.29 L234.28 530.30 L234.85 530.31 L235.42 530.33 L236.00 530.34 L236.57 530.35 L237.14 530.36 L237.71 530.37 L238.28 530.38 L238.85 530.39 L239.43 530.39 L240.00 530.40 L240.57 530.41 L241.14 530.41 L241.71 530.42 L242.28 530.42 L242.86 530.43 L243.43 530.43 L244.00 530.44" fill="none" stroke="#6a6668" stroke-width="1.0" stroke-dasharray="3 1.8" opacity="0.8"/>
<line x1="104.30" y1="530.50" x2="106.80" y2="530.50" stroke="#a4a8ae" stroke-width="0.8"/>
<text x="103.6" y="533.8" font-size="11.50" text-anchor="end" font-weight="normal" fill="#2c2c2c" stroke="#2c2c2c" stroke-width="0.36">0.0</text>
<line x1="104.30" y1="508.42" x2="106.80" y2="508.42" stroke="#a4a8ae" stroke-width="0.8"/>
<text x="103.6" y="511.7" font-size="11.50" text-anchor="end" font-weight="normal" fill="#2c2c2c" stroke="#2c2c2c" stroke-width="0.36">0.2</text>
<line x1="104.30" y1="486.34" x2="106.80" y2="486.34" stroke="#a4a8ae" stroke-width="0.8"/>
<text x="103.6" y="489.6" font-size="11.50" text-anchor="end" font-weight="normal" fill="#2c2c2c" stroke="#2c2c2c" stroke-width="0.36">0.4</text>
<line x1="104.30" y1="464.26" x2="106.80" y2="464.26" stroke="#a4a8ae" stroke-width="0.8"/>
<text x="103.6" y="467.6" font-size="11.50" text-anchor="end" font-weight="normal" fill="#2c2c2c" stroke="#2c2c2c" stroke-width="0.36">0.6</text>
<line x1="104.30" y1="442.18" x2="106.80" y2="442.18" stroke="#a4a8ae" stroke-width="0.8"/>
<text x="103.6" y="445.5" font-size="11.50" text-anchor="end" font-weight="normal" fill="#2c2c2c" stroke="#2c2c2c" stroke-width="0.36">0.8</text>
<line x1="104.30" y1="420.10" x2="106.80" y2="420.10" stroke="#a4a8ae" stroke-width="0.8"/>
<text x="103.6" y="423.4" font-size="11.50" text-anchor="end" font-weight="normal" fill="#2c2c2c" stroke="#2c2c2c" stroke-width="0.36">1.0</text>
<line x1="106.80" y1="530.50" x2="106.80" y2="533.00" stroke="#a4a8ae" stroke-width="0.8"/>
<text x="106.8" y="543.3" font-size="11.50" text-anchor="middle" font-weight="normal" fill="#2c2c2c" stroke="#2c2c2c" stroke-width="0.36">-1.5</text>
<line x1="129.67" y1="530.50" x2="129.67" y2="533.00" stroke="#a4a8ae" stroke-width="0.8"/>
<text x="129.7" y="543.3" font-size="11.50" text-anchor="middle" font-weight="normal" fill="#2c2c2c" stroke="#2c2c2c" stroke-width="0.36">-1.0</text>
<line x1="152.53" y1="530.50" x2="152.53" y2="533.00" stroke="#a4a8ae" stroke-width="0.8"/>
<text x="152.5" y="543.3" font-size="11.50" text-anchor="middle" font-weight="normal" fill="#2c2c2c" stroke="#2c2c2c" stroke-width="0.36">-0.5</text>
<line x1="175.40" y1="530.50" x2="175.40" y2="533.00" stroke="#a4a8ae" stroke-width="0.8"/>
<text x="175.4" y="543.3" font-size="11.50" text-anchor="middle" font-weight="normal" fill="#2c2c2c" stroke="#2c2c2c" stroke-width="0.36">0.0</text>
<line x1="198.27" y1="530.50" x2="198.27" y2="533.00" stroke="#a4a8ae" stroke-width="0.8"/>
<text x="198.3" y="543.3" font-size="11.50" text-anchor="middle" font-weight="normal" fill="#2c2c2c" stroke="#2c2c2c" stroke-width="0.36">0.5</text>
<line x1="221.13" y1="530.50" x2="221.13" y2="533.00" stroke="#a4a8ae" stroke-width="0.8"/>
<text x="221.1" y="543.3" font-size="11.50" text-anchor="middle" font-weight="normal" fill="#2c2c2c" stroke="#2c2c2c" stroke-width="0.36">1.0</text>
<line x1="244.00" y1="530.50" x2="244.00" y2="533.00" stroke="#a4a8ae" stroke-width="0.8"/>
<text x="244.0" y="543.3" font-size="11.50" text-anchor="middle" font-weight="normal" fill="#2c2c2c" stroke="#2c2c2c" stroke-width="0.36">1.5</text>
<text x="181.6" y="556.1" font-size="11.20" text-anchor="middle" font-weight="normal" fill="#2c2c2c" stroke="#2c2c2c" stroke-width="0.36" textLength="75.0" lengthAdjust="spacingAndGlyphs">Time delay (ps)</text>
<path d="M147.70 475.50 L158.90 475.50 M155.50 472.30 L158.90 475.50 L155.50 478.70" fill="none" stroke="#2a2a2a" stroke-width="1.15"/>
<path d="M202.80 475.50 L191.60 475.50 M195.00 472.30 L191.60 475.50 L195.00 478.70" fill="none" stroke="#2a2a2a" stroke-width="1.15"/>
<text x="207.5" y="474.3" font-size="11.40" text-anchor="start" font-weight="normal" fill="#262626" stroke="#262626" stroke-width="0.36">389 fs</text>
<text x="208.0" y="485.7" font-size="11.40" text-anchor="start" font-weight="normal" fill="#262626" stroke="#262626" stroke-width="0.36">&#215; 1.54</text>
<rect x="294.00" y="419.90" width="138.00" height="109.80" fill="none" stroke="#a4a8ae" stroke-width="1"/>
<path d="M294.00 529.51 L294.57 529.49 L295.15 529.48 L295.73 529.46 L296.30 529.45 L296.88 529.43 L297.45 529.41 L298.02 529.39 L298.60 529.37 L299.18 529.35 L299.75 529.33 L300.32 529.30 L300.90 529.27 L301.48 529.25 L302.05 529.21 L302.62 529.18 L303.20 529.15 L303.77 529.11 L304.35 529.07 L304.93 529.02 L305.50 528.97 L306.07 528.92 L306.65 528.87 L307.23 528.81 L307.80 528.75 L308.38 528.68 L308.95 528.60 L309.52 528.53 L310.10 528.44 L310.68 528.35 L311.25 528.25 L311.82 528.14 L312.40 528.03 L312.98 527.90 L313.55 527.77 L314.12 527.62 L314.70 527.46 L315.27 527.29 L315.85 527.11 L316.43 526.91 L317.00 526.70 L317.57 526.46 L318.15 526.21 L318.73 525.94 L319.30 525.65 L319.88 525.33 L320.45 524.99 L321.02 524.62 L321.60 524.23 L322.18 523.80 L322.75 523.34 L323.32 522.84 L323.90 522.31 L324.48 521.73 L325.05 521.12 L325.62 520.46 L326.20 519.75 L326.77 518.99 L327.35 518.18 L327.93 517.32 L328.50 516.39 L329.07 515.41 L329.65 514.36 L330.23 513.25 L330.80 512.07 L331.38 510.82 L331.95 509.49 L332.52 508.09 L333.10 506.62 L333.68 505.06 L334.25 503.43 L334.82 501.72 L335.40 499.92 L335.98 498.04 L336.55 496.08 L337.12 494.04 L337.70 491.93 L338.27 489.73 L338.85 487.45 L339.43 485.10 L340.00 482.69 L340.57 480.20 L341.15 477.65 L341.73 475.05 L342.30 472.40 L342.88 469.71 L343.45 466.98 L344.02 464.22 L344.60 461.45 L345.18 458.66 L345.75 455.89 L346.32 453.12 L346.90 450.38 L347.48 447.68 L348.05 445.03 L348.62 442.45 L349.20 439.94 L349.77 437.52 L350.35 435.21 L350.93 433.02 L351.50 430.95 L352.07 429.03 L352.65 427.27 L353.23 425.67 L353.80 424.25 L354.38 423.02 L354.95 421.98 L355.52 421.15 L356.10 420.52 L356.68 420.11 L357.25 419.92 L357.82 419.93 L358.40 420.13 L358.98 420.51 L359.55 421.07 L360.12 421.80 L360.70 422.70 L361.27 423.77 L361.85 424.99 L362.43 426.37 L363.00 427.89 L363.57 429.55 L364.15 431.33 L364.73 433.23 L365.30 435.24 L365.88 437.35 L366.45 439.55 L367.02 441.82 L367.60 444.16 L368.18 446.56 L368.75 449.00 L369.32 451.48 L369.90 453.99 L370.48 456.52 L371.05 459.06 L371.62 461.60 L372.20 464.13 L372.77 466.65 L373.35 469.14 L373.93 471.61 L374.50 474.05 L375.07 476.44 L375.65 478.79 L376.23 481.10 L376.80 483.34 L377.38 485.54 L377.95 487.67 L378.52 489.74 L379.10 491.75 L379.68 493.70 L380.25 495.58 L380.82 497.39 L381.40 499.13 L381.98 500.80 L382.55 502.41 L383.12 503.95 L383.70 505.42 L384.27 506.82 L384.85 508.16 L385.43 509.44 L386.00 510.65 L386.57 511.81 L387.15 512.90 L387.73 513.94 L388.30 514.92 L388.88 515.85 L389.45 516.72 L390.02 517.55 L390.60 518.33 L391.18 519.06 L391.75 519.75 L392.32 520.40 L392.90 521.01 L393.48 521.58 L394.05 522.11 L394.62 522.61 L395.20 523.08 L395.77 523.52 L396.35 523.93 L396.93 524.32 L397.50 524.67 L398.07 525.01 L398.65 525.32 L399.23 525.61 L399.80 525.88 L400.38 526.13 L400.95 526.37 L401.52 526.59 L402.10 526.79 L402.68 526.98 L403.25 527.16 L403.82 527.32 L404.40 527.48 L404.98 527.62 L405.55 527.75 L406.12 527.88 L406.70 527.99 L407.27 528.10 L407.85 528.20 L408.43 528.30 L409.00 528.38 L409.57 528.47 L410.15 528.54 L410.73 528.61 L411.30 528.68 L411.88 528.74 L412.45 528.80 L413.02 528.86 L413.60 528.91 L414.18 528.95 L414.75 529.00 L415.32 529.04 L415.90 529.08 L416.48 529.12 L417.05 529.15 L417.62 529.18 L418.20 529.21 L418.77 529.24 L419.35 529.27 L419.93 529.29 L420.50 529.32 L421.07 529.34 L421.65 529.36 L422.23 529.38 L422.80 529.40 L423.38 529.42 L423.95 529.43 L424.52 529.45 L425.10 529.46 L425.68 529.48 L426.25 529.49 L426.82 529.50 L427.40 529.51 L427.98 529.52 L428.55 529.53 L429.12 529.54 L429.70 529.55 L430.27 529.56 L430.85 529.57 L431.43 529.58 L432.00 529.58" fill="none" stroke="#c98890" stroke-width="1.3"/>
<path d="M294.00 529.51 L294.57 529.49 L295.15 529.48 L295.73 529.46 L296.30 529.45 L296.88 529.43 L297.45 529.41 L298.02 529.39 L298.60 529.37 L299.18 529.35 L299.75 529.33 L300.32 529.30 L300.90 529.27 L301.48 529.25 L302.05 529.21 L302.62 529.18 L303.20 529.15 L303.77 529.11 L304.35 529.07 L304.93 529.02 L305.50 528.97 L306.07 528.92 L306.65 528.87 L307.23 528.81 L307.80 528.75 L308.38 528.68 L308.95 528.60 L309.52 528.53 L310.10 528.44 L310.68 528.35 L311.25 528.25 L311.82 528.14 L312.40 528.03 L312.98 527.90 L313.55 527.77 L314.12 527.62 L314.70 527.46 L315.27 527.29 L315.85 527.11 L316.43 526.91 L317.00 526.70 L317.57 526.46 L318.15 526.21 L318.73 525.94 L319.30 525.65 L319.88 525.33 L320.45 524.99 L321.02 524.62 L321.60 524.23 L322.18 523.80 L322.75 523.34 L323.32 522.84 L323.90 522.31 L324.48 521.73 L325.05 521.12 L325.62 520.46 L326.20 519.75 L326.77 518.99 L327.35 518.18 L327.93 517.32 L328.50 516.39 L329.07 515.41 L329.65 514.36 L330.23 513.25 L330.80 512.07 L331.38 510.82 L331.95 509.49 L332.52 508.09 L333.10 506.62 L333.68 505.06 L334.25 503.43 L334.82 501.72 L335.40 499.92 L335.98 498.04 L336.55 496.08 L337.12 494.04 L337.70 491.93 L338.27 489.73 L338.85 487.45 L339.43 485.10 L340.00 482.69 L340.57 480.20 L341.15 477.65 L341.73 475.05 L342.30 472.40 L342.88 469.71 L343.45 466.98 L344.02 464.22 L344.60 461.45 L345.18 458.66 L345.75 455.89 L346.32 453.12 L346.90 450.38 L347.48 447.68 L348.05 445.03 L348.62 442.45 L349.20 439.94 L349.77 437.52 L350.35 435.21 L350.93 433.02 L351.50 430.95 L352.07 429.03 L352.65 427.27 L353.23 425.67 L353.80 424.25 L354.38 423.02 L354.95 421.98 L355.52 421.15 L356.10 420.52 L356.68 420.11 L357.25 419.92 L357.82 419.93 L358.40 420.13 L358.98 420.51 L359.55 421.07 L360.12 421.80 L360.70 422.70 L361.27 423.77 L361.85 424.99 L362.43 426.37 L363.00 427.89 L363.57 429.55 L364.15 431.33 L364.73 433.23 L365.30 435.24 L365.88 437.35 L366.45 439.55 L367.02 441.82 L367.60 444.16 L368.18 446.56 L368.75 449.00 L369.32 451.48 L369.90 453.99 L370.48 456.52 L371.05 459.06 L371.62 461.60 L372.20 464.13 L372.77 466.65 L373.35 469.14 L373.93 471.61 L374.50 474.05 L375.07 476.44 L375.65 478.79 L376.23 481.10 L376.80 483.34 L377.38 485.54 L377.95 487.67 L378.52 489.74 L379.10 491.75 L379.68 493.70 L380.25 495.58 L380.82 497.39 L381.40 499.13 L381.98 500.80 L382.55 502.41 L383.12 503.95 L383.70 505.42 L384.27 506.82 L384.85 508.16 L385.43 509.44 L386.00 510.65 L386.57 511.81 L387.15 512.90 L387.73 513.94 L388.30 514.92 L388.88 515.85 L389.45 516.72 L390.02 517.55 L390.60 518.33 L391.18 519.06 L391.75 519.75 L392.32 520.40 L392.90 521.01 L393.48 521.58 L394.05 522.11 L394.62 522.61 L395.20 523.08 L395.77 523.52 L396.35 523.93 L396.93 524.32 L397.50 524.67 L398.07 525.01 L398.65 525.32 L399.23 525.61 L399.80 525.88 L400.38 526.13 L400.95 526.37 L401.52 526.59 L402.10 526.79 L402.68 526.98 L403.25 527.16 L403.82 527.32 L404.40 527.48 L404.98 527.62 L405.55 527.75 L406.12 527.88 L406.70 527.99 L407.27 528.10 L407.85 528.20 L408.43 528.30 L409.00 528.38 L409.57 528.47 L410.15 528.54 L410.73 528.61 L411.30 528.68 L411.88 528.74 L412.45 528.80 L413.02 528.86 L413.60 528.91 L414.18 528.95 L414.75 529.00 L415.32 529.04 L415.90 529.08 L416.48 529.12 L417.05 529.15 L417.62 529.18 L418.20 529.21 L418.77 529.24 L419.35 529.27 L419.93 529.29 L420.50 529.32 L421.07 529.34 L421.65 529.36 L422.23 529.38 L422.80 529.40 L423.38 529.42 L423.95 529.43 L424.52 529.45 L425.10 529.46 L425.68 529.48 L426.25 529.49 L426.82 529.50 L427.40 529.51 L427.98 529.52 L428.55 529.53 L429.12 529.54 L429.70 529.55 L430.27 529.56 L430.85 529.57 L431.43 529.58 L432.00 529.58" fill="none" stroke="#6a6668" stroke-width="1.0" stroke-dasharray="3 1.8" opacity="0.8"/>
<line x1="291.50" y1="529.70" x2="294.00" y2="529.70" stroke="#a4a8ae" stroke-width="0.8"/>
<text x="290.8" y="533.0" font-size="11.50" text-anchor="end" font-weight="normal" fill="#2c2c2c" stroke="#2c2c2c" stroke-width="0.36">0.0</text>
<line x1="291.50" y1="507.74" x2="294.00" y2="507.74" stroke="#a4a8ae" stroke-width="0.8"/>
<text x="290.8" y="511.0" font-size="11.50" text-anchor="end" font-weight="normal" fill="#2c2c2c" stroke="#2c2c2c" stroke-width="0.36">0.2</text>
<line x1="291.50" y1="485.78" x2="294.00" y2="485.78" stroke="#a4a8ae" stroke-width="0.8"/>
<text x="290.8" y="489.1" font-size="11.50" text-anchor="end" font-weight="normal" fill="#2c2c2c" stroke="#2c2c2c" stroke-width="0.36">0.4</text>
<line x1="291.50" y1="463.82" x2="294.00" y2="463.82" stroke="#a4a8ae" stroke-width="0.8"/>
<text x="290.8" y="467.1" font-size="11.50" text-anchor="end" font-weight="normal" fill="#2c2c2c" stroke="#2c2c2c" stroke-width="0.36">0.6</text>
<line x1="291.50" y1="441.86" x2="294.00" y2="441.86" stroke="#a4a8ae" stroke-width="0.8"/>
<text x="290.8" y="445.2" font-size="11.50" text-anchor="end" font-weight="normal" fill="#2c2c2c" stroke="#2c2c2c" stroke-width="0.36">0.8</text>
<line x1="291.50" y1="419.90" x2="294.00" y2="419.90" stroke="#a4a8ae" stroke-width="0.8"/>
<text x="290.8" y="423.2" font-size="11.50" text-anchor="end" font-weight="normal" fill="#2c2c2c" stroke="#2c2c2c" stroke-width="0.36">1.0</text>
<line x1="294.00" y1="529.70" x2="294.00" y2="532.20" stroke="#a4a8ae" stroke-width="0.8"/>
<text x="294.0" y="542.5" font-size="11.50" text-anchor="middle" font-weight="normal" fill="#2c2c2c" stroke="#2c2c2c" stroke-width="0.36">-1.5</text>
<line x1="317.00" y1="529.70" x2="317.00" y2="532.20" stroke="#a4a8ae" stroke-width="0.8"/>
<text x="317.0" y="542.5" font-size="11.50" text-anchor="middle" font-weight="normal" fill="#2c2c2c" stroke="#2c2c2c" stroke-width="0.36">-1.0</text>
<line x1="340.00" y1="529.70" x2="340.00" y2="532.20" stroke="#a4a8ae" stroke-width="0.8"/>
<text x="340.0" y="542.5" font-size="11.50" text-anchor="middle" font-weight="normal" fill="#2c2c2c" stroke="#2c2c2c" stroke-width="0.36">-0.5</text>
<line x1="363.00" y1="529.70" x2="363.00" y2="532.20" stroke="#a4a8ae" stroke-width="0.8"/>
<text x="363.0" y="542.5" font-size="11.50" text-anchor="middle" font-weight="normal" fill="#2c2c2c" stroke="#2c2c2c" stroke-width="0.36">0.0</text>
<line x1="386.00" y1="529.70" x2="386.00" y2="532.20" stroke="#a4a8ae" stroke-width="0.8"/>
<text x="386.0" y="542.5" font-size="11.50" text-anchor="middle" font-weight="normal" fill="#2c2c2c" stroke="#2c2c2c" stroke-width="0.36">0.5</text>
<line x1="409.00" y1="529.70" x2="409.00" y2="532.20" stroke="#a4a8ae" stroke-width="0.8"/>
<text x="409.0" y="542.5" font-size="11.50" text-anchor="middle" font-weight="normal" fill="#2c2c2c" stroke="#2c2c2c" stroke-width="0.36">1.0</text>
<line x1="432.00" y1="529.70" x2="432.00" y2="532.20" stroke="#a4a8ae" stroke-width="0.8"/>
<text x="432.0" y="542.5" font-size="11.50" text-anchor="middle" font-weight="normal" fill="#2c2c2c" stroke="#2c2c2c" stroke-width="0.36">1.5</text>
<text x="364.2" y="555.3" font-size="11.20" text-anchor="middle" font-weight="normal" fill="#2c2c2c" stroke="#2c2c2c" stroke-width="0.36" textLength="75.0" lengthAdjust="spacingAndGlyphs">Time delay (ps)</text>
<path d="M329.40 475.00 L340.70 475.00 M337.30 471.80 L340.70 475.00 L337.30 478.20" fill="none" stroke="#2a2a2a" stroke-width="1.15"/>
<path d="M388.00 475.00 L376.30 475.00 M379.70 471.80 L376.30 475.00 L379.70 478.20" fill="none" stroke="#2a2a2a" stroke-width="1.15"/>
<text x="392.8" y="473.7" font-size="11.40" text-anchor="start" font-weight="normal" fill="#262626" stroke="#262626" stroke-width="0.36">430 fs</text>
<text x="393.3" y="484.6" font-size="11.40" text-anchor="start" font-weight="normal" fill="#262626" stroke="#262626" stroke-width="0.36">&#215; 1.54</text>
<rect x="481.50" y="422.40" width="138.20" height="110.00" fill="none" stroke="#a4a8ae" stroke-width="1"/>
<path d="M481.50 528.82 L482.08 528.52 L482.65 528.33 L483.23 528.27 L483.80 528.35 L484.38 528.53 L484.95 528.81 L485.53 529.14 L486.11 529.49 L486.68 529.82 L487.26 530.10 L487.83 530.32 L488.41 530.48 L488.99 530.58 L489.56 530.62 L490.14 530.61 L490.71 530.57 L491.29 530.50 L491.87 530.41 L492.44 530.30 L493.02 530.18 L493.59 530.05 L494.17 529.90 L494.74 529.75 L495.32 529.59 L495.90 529.41 L496.47 529.23 L497.05 529.03 L497.62 528.82 L498.20 528.60 L498.78 528.36 L499.35 528.11 L499.93 527.84 L500.50 527.55 L501.08 527.24 L501.65 526.92 L502.23 526.57 L502.81 526.21 L503.38 525.82 L503.96 525.41 L504.53 524.97 L505.11 524.50 L505.69 524.01 L506.26 523.49 L506.84 522.94 L507.41 522.36 L507.99 521.74 L508.56 521.09 L509.14 520.41 L509.72 519.69 L510.29 518.92 L510.87 518.12 L511.44 517.28 L512.02 516.39 L512.60 515.46 L513.17 514.49 L513.75 513.46 L514.32 512.39 L514.90 511.27 L515.47 510.10 L516.05 508.88 L516.63 507.61 L517.20 506.29 L517.78 504.91 L518.35 503.48 L518.93 501.99 L519.50 500.46 L520.08 498.86 L520.66 497.22 L521.23 495.52 L521.81 493.77 L522.38 491.97 L522.96 490.12 L523.54 488.22 L524.11 486.27 L524.69 484.28 L525.26 482.25 L525.84 480.17 L526.41 478.06 L526.99 475.92 L527.57 473.74 L528.14 471.55 L528.72 469.32 L529.29 467.09 L529.87 464.84 L530.45 462.58 L531.02 460.32 L531.60 458.07 L532.17 455.82 L532.75 453.59 L533.33 451.39 L533.90 449.22 L534.48 447.08 L535.05 444.98 L535.63 442.94 L536.20 440.96 L536.78 439.04 L537.36 437.19 L537.93 435.43 L538.51 433.75 L539.08 432.16 L539.66 430.67 L540.24 429.29 L540.81 428.02 L541.39 426.87 L541.96 425.84 L542.54 424.94 L543.11 424.17 L543.69 423.54 L544.27 423.04 L544.84 422.69 L545.42 422.47 L545.99 422.40 L546.57 422.50 L547.14 422.81 L547.72 423.31 L548.30 424.01 L548.87 424.90 L549.45 425.98 L550.02 427.24 L550.60 428.67 L551.18 430.26 L551.75 432.01 L552.33 433.90 L552.90 435.92 L553.48 438.06 L554.06 440.30 L554.63 442.65 L555.21 445.07 L555.78 447.57 L556.36 450.13 L556.93 452.74 L557.51 455.38 L558.09 458.05 L558.66 460.74 L559.24 463.42 L559.81 466.11 L560.39 468.78 L560.97 471.42 L561.54 474.04 L562.12 476.62 L562.69 479.15 L563.27 481.64 L563.84 484.07 L564.42 486.44 L565.00 488.75 L565.57 490.99 L566.15 493.16 L566.72 495.26 L567.30 497.28 L567.88 499.23 L568.45 501.10 L569.03 502.90 L569.60 504.62 L570.18 506.27 L570.75 507.84 L571.33 509.34 L571.91 510.76 L572.48 512.12 L573.06 513.40 L573.63 514.61 L574.21 515.76 L574.79 516.85 L575.36 517.87 L575.94 518.84 L576.51 519.74 L577.09 520.60 L577.66 521.40 L578.24 522.15 L578.82 522.85 L579.39 523.51 L579.97 524.12 L580.54 524.70 L581.12 525.23 L581.70 525.73 L582.27 526.20 L582.85 526.63 L583.42 527.04 L584.00 527.41 L584.57 527.76 L585.15 528.09 L585.73 528.39 L586.30 528.67 L586.88 528.93 L587.45 529.17 L588.03 529.39 L588.61 529.60 L589.18 529.79 L589.76 529.97 L590.33 530.14 L590.91 530.29 L591.48 530.43 L592.06 530.57 L592.64 530.69 L593.21 530.80 L593.79 530.90 L594.36 531.00 L594.94 531.08 L595.52 531.15 L596.09 531.21 L596.67 531.25 L597.24 531.28 L597.82 531.28 L598.39 531.26 L598.97 531.21 L599.55 531.12 L600.12 531.00 L600.70 530.84 L601.27 530.65 L601.85 530.43 L602.43 530.20 L603.00 529.96 L603.58 529.74 L604.15 529.55 L604.73 529.40 L605.30 529.30 L605.88 529.28 L606.46 529.32 L607.03 529.43 L607.61 529.61 L608.18 529.84 L608.76 530.10 L609.34 530.38 L609.91 530.67 L610.49 530.94 L611.06 531.20 L611.64 531.43 L612.21 531.63 L612.79 531.79 L613.37 531.92 L613.94 532.02 L614.52 532.10 L615.09 532.16 L615.67 532.21 L616.25 532.24 L616.82 532.26 L617.40 532.28 L617.97 532.29 L618.55 532.30 L619.12 532.31 L619.70 532.31" fill="none" stroke="#c98890" stroke-width="1.3"/>
<path d="M481.50 528.82 L482.08 528.52 L482.65 528.33 L483.23 528.27 L483.80 528.35 L484.38 528.53 L484.95 528.81 L485.53 529.14 L486.11 529.49 L486.68 529.82 L487.26 530.10 L487.83 530.32 L488.41 530.48 L488.99 530.58 L489.56 530.62 L490.14 530.61 L490.71 530.57 L491.29 530.50 L491.87 530.41 L492.44 530.30 L493.02 530.18 L493.59 530.05 L494.17 529.90 L494.74 529.75 L495.32 529.59 L495.90 529.41 L496.47 529.23 L497.05 529.03 L497.62 528.82 L498.20 528.60 L498.78 528.36 L499.35 528.11 L499.93 527.84 L500.50 527.55 L501.08 527.24 L501.65 526.92 L502.23 526.57 L502.81 526.21 L503.38 525.82 L503.96 525.41 L504.53 524.97 L505.11 524.50 L505.69 524.01 L506.26 523.49 L506.84 522.94 L507.41 522.36 L507.99 521.74 L508.56 521.09 L509.14 520.41 L509.72 519.69 L510.29 518.92 L510.87 518.12 L511.44 517.28 L512.02 516.39 L512.60 515.46 L513.17 514.49 L513.75 513.46 L514.32 512.39 L514.90 511.27 L515.47 510.10 L516.05 508.88 L516.63 507.61 L517.20 506.29 L517.78 504.91 L518.35 503.48 L518.93 501.99 L519.50 500.46 L520.08 498.86 L520.66 497.22 L521.23 495.52 L521.81 493.77 L522.38 491.97 L522.96 490.12 L523.54 488.22 L524.11 486.27 L524.69 484.28 L525.26 482.25 L525.84 480.17 L526.41 478.06 L526.99 475.92 L527.57 473.74 L528.14 471.55 L528.72 469.32 L529.29 467.09 L529.87 464.84 L530.45 462.58 L531.02 460.32 L531.60 458.07 L532.17 455.82 L532.75 453.59 L533.33 451.39 L533.90 449.22 L534.48 447.08 L535.05 444.98 L535.63 442.94 L536.20 440.96 L536.78 439.04 L537.36 437.19 L537.93 435.43 L538.51 433.75 L539.08 432.16 L539.66 430.67 L540.24 429.29 L540.81 428.02 L541.39 426.87 L541.96 425.84 L542.54 424.94 L543.11 424.17 L543.69 423.54 L544.27 423.04 L544.84 422.69 L545.42 422.47 L545.99 422.40 L546.57 422.50 L547.14 422.81 L547.72 423.31 L548.30 424.01 L548.87 424.90 L549.45 425.98 L550.02 427.24 L550.60 428.67 L551.18 430.26 L551.75 432.01 L552.33 433.90 L552.90 435.92 L553.48 438.06 L554.06 440.30 L554.63 442.65 L555.21 445.07 L555.78 447.57 L556.36 450.13 L556.93 452.74 L557.51 455.38 L558.09 458.05 L558.66 460.74 L559.24 463.42 L559.81 466.11 L560.39 468.78 L560.97 471.42 L561.54 474.04 L562.12 476.62 L562.69 479.15 L563.27 481.64 L563.84 484.07 L564.42 486.44 L565.00 488.75 L565.57 490.99 L566.15 493.16 L566.72 495.26 L567.30 497.28 L567.88 499.23 L568.45 501.10 L569.03 502.90 L569.60 504.62 L570.18 506.27 L570.75 507.84 L571.33 509.34 L571.91 510.76 L572.48 512.12 L573.06 513.40 L573.63 514.61 L574.21 515.76 L574.79 516.85 L575.36 517.87 L575.94 518.84 L576.51 519.74 L577.09 520.60 L577.66 521.40 L578.24 522.15 L578.82 522.85 L579.39 523.51 L579.97 524.12 L580.54 524.70 L581.12 525.23 L581.70 525.73 L582.27 526.20 L582.85 526.63 L583.42 527.04 L584.00 527.41 L584.57 527.76 L585.15 528.09 L585.73 528.39 L586.30 528.67 L586.88 528.93 L587.45 529.17 L588.03 529.39 L588.61 529.60 L589.18 529.79 L589.76 529.97 L590.33 530.14 L590.91 530.29 L591.48 530.43 L592.06 530.57 L592.64 530.69 L593.21 530.80 L593.79 530.90 L594.36 531.00 L594.94 531.08 L595.52 531.15 L596.09 531.21 L596.67 531.25 L597.24 531.28 L597.82 531.28 L598.39 531.26 L598.97 531.21 L599.55 531.12 L600.12 531.00 L600.70 530.84 L601.27 530.65 L601.85 530.43 L602.43 530.20 L603.00 529.96 L603.58 529.74 L604.15 529.55 L604.73 529.40 L605.30 529.30 L605.88 529.28 L606.46 529.32 L607.03 529.43 L607.61 529.61 L608.18 529.84 L608.76 530.10 L609.34 530.38 L609.91 530.67 L610.49 530.94 L611.06 531.20 L611.64 531.43 L612.21 531.63 L612.79 531.79 L613.37 531.92 L613.94 532.02 L614.52 532.10 L615.09 532.16 L615.67 532.21 L616.25 532.24 L616.82 532.26 L617.40 532.28 L617.97 532.29 L618.55 532.30 L619.12 532.31 L619.70 532.31" fill="none" stroke="#6a6668" stroke-width="1.0" stroke-dasharray="3 1.8" opacity="0.8"/>
<line x1="479.00" y1="532.40" x2="481.50" y2="532.40" stroke="#a4a8ae" stroke-width="0.8"/>
<text x="478.3" y="535.7" font-size="11.50" text-anchor="end" font-weight="normal" fill="#2c2c2c" stroke="#2c2c2c" stroke-width="0.36">0.0</text>
<line x1="479.00" y1="510.40" x2="481.50" y2="510.40" stroke="#a4a8ae" stroke-width="0.8"/>
<text x="478.3" y="513.7" font-size="11.50" text-anchor="end" font-weight="normal" fill="#2c2c2c" stroke="#2c2c2c" stroke-width="0.36">0.2</text>
<line x1="479.00" y1="488.40" x2="481.50" y2="488.40" stroke="#a4a8ae" stroke-width="0.8"/>
<text x="478.3" y="491.7" font-size="11.50" text-anchor="end" font-weight="normal" fill="#2c2c2c" stroke="#2c2c2c" stroke-width="0.36">0.4</text>
<line x1="479.00" y1="466.40" x2="481.50" y2="466.40" stroke="#a4a8ae" stroke-width="0.8"/>
<text x="478.3" y="469.7" font-size="11.50" text-anchor="end" font-weight="normal" fill="#2c2c2c" stroke="#2c2c2c" stroke-width="0.36">0.6</text>
<line x1="479.00" y1="444.40" x2="481.50" y2="444.40" stroke="#a4a8ae" stroke-width="0.8"/>
<text x="478.3" y="447.7" font-size="11.50" text-anchor="end" font-weight="normal" fill="#2c2c2c" stroke="#2c2c2c" stroke-width="0.36">0.8</text>
<line x1="479.00" y1="422.40" x2="481.50" y2="422.40" stroke="#a4a8ae" stroke-width="0.8"/>
<text x="478.3" y="425.7" font-size="11.50" text-anchor="end" font-weight="normal" fill="#2c2c2c" stroke="#2c2c2c" stroke-width="0.36">1.0</text>
<line x1="481.50" y1="532.40" x2="481.50" y2="534.90" stroke="#a4a8ae" stroke-width="0.8"/>
<text x="481.5" y="545.2" font-size="11.50" text-anchor="middle" font-weight="normal" fill="#2c2c2c" stroke="#2c2c2c" stroke-width="0.36">-1.5</text>
<line x1="504.53" y1="532.40" x2="504.53" y2="534.90" stroke="#a4a8ae" stroke-width="0.8"/>
<text x="504.5" y="545.2" font-size="11.50" text-anchor="middle" font-weight="normal" fill="#2c2c2c" stroke="#2c2c2c" stroke-width="0.36">-1.0</text>
<line x1="527.57" y1="532.40" x2="527.57" y2="534.90" stroke="#a4a8ae" stroke-width="0.8"/>
<text x="527.6" y="545.2" font-size="11.50" text-anchor="middle" font-weight="normal" fill="#2c2c2c" stroke="#2c2c2c" stroke-width="0.36">-0.5</text>
<line x1="550.60" y1="532.40" x2="550.60" y2="534.90" stroke="#a4a8ae" stroke-width="0.8"/>
<text x="550.6" y="545.2" font-size="11.50" text-anchor="middle" font-weight="normal" fill="#2c2c2c" stroke="#2c2c2c" stroke-width="0.36">0.0</text>
<line x1="573.63" y1="532.40" x2="573.63" y2="534.90" stroke="#a4a8ae" stroke-width="0.8"/>
<text x="573.6" y="545.2" font-size="11.50" text-anchor="middle" font-weight="normal" fill="#2c2c2c" stroke="#2c2c2c" stroke-width="0.36">0.5</text>
<line x1="596.67" y1="532.40" x2="596.67" y2="534.90" stroke="#a4a8ae" stroke-width="0.8"/>
<text x="596.7" y="545.2" font-size="11.50" text-anchor="middle" font-weight="normal" fill="#2c2c2c" stroke="#2c2c2c" stroke-width="0.36">1.0</text>
<line x1="619.70" y1="532.40" x2="619.70" y2="534.90" stroke="#a4a8ae" stroke-width="0.8"/>
<text x="619.7" y="545.2" font-size="11.50" text-anchor="middle" font-weight="normal" fill="#2c2c2c" stroke="#2c2c2c" stroke-width="0.36">1.5</text>
<text x="552.0" y="558.0" font-size="11.20" text-anchor="middle" font-weight="normal" fill="#2c2c2c" stroke="#2c2c2c" stroke-width="0.36" textLength="75.0" lengthAdjust="spacingAndGlyphs">Time delay (ps)</text>
<path d="M514.40 478.20 L525.70 478.20 M522.30 475.00 L525.70 478.20 L522.30 481.40" fill="none" stroke="#2a2a2a" stroke-width="1.15"/>
<path d="M576.00 478.20 L564.20 478.20 M567.60 475.00 L564.20 478.20 L567.60 481.40" fill="none" stroke="#2a2a2a" stroke-width="1.15"/>
<text x="580.5" y="477.1" font-size="11.40" text-anchor="start" font-weight="normal" fill="#262626" stroke="#262626" stroke-width="0.36">472 fs</text>
<text x="581.0" y="487.4" font-size="11.40" text-anchor="start" font-weight="normal" fill="#262626" stroke="#262626" stroke-width="0.36">&#215; 1.54</text>
</svg></body></html>
